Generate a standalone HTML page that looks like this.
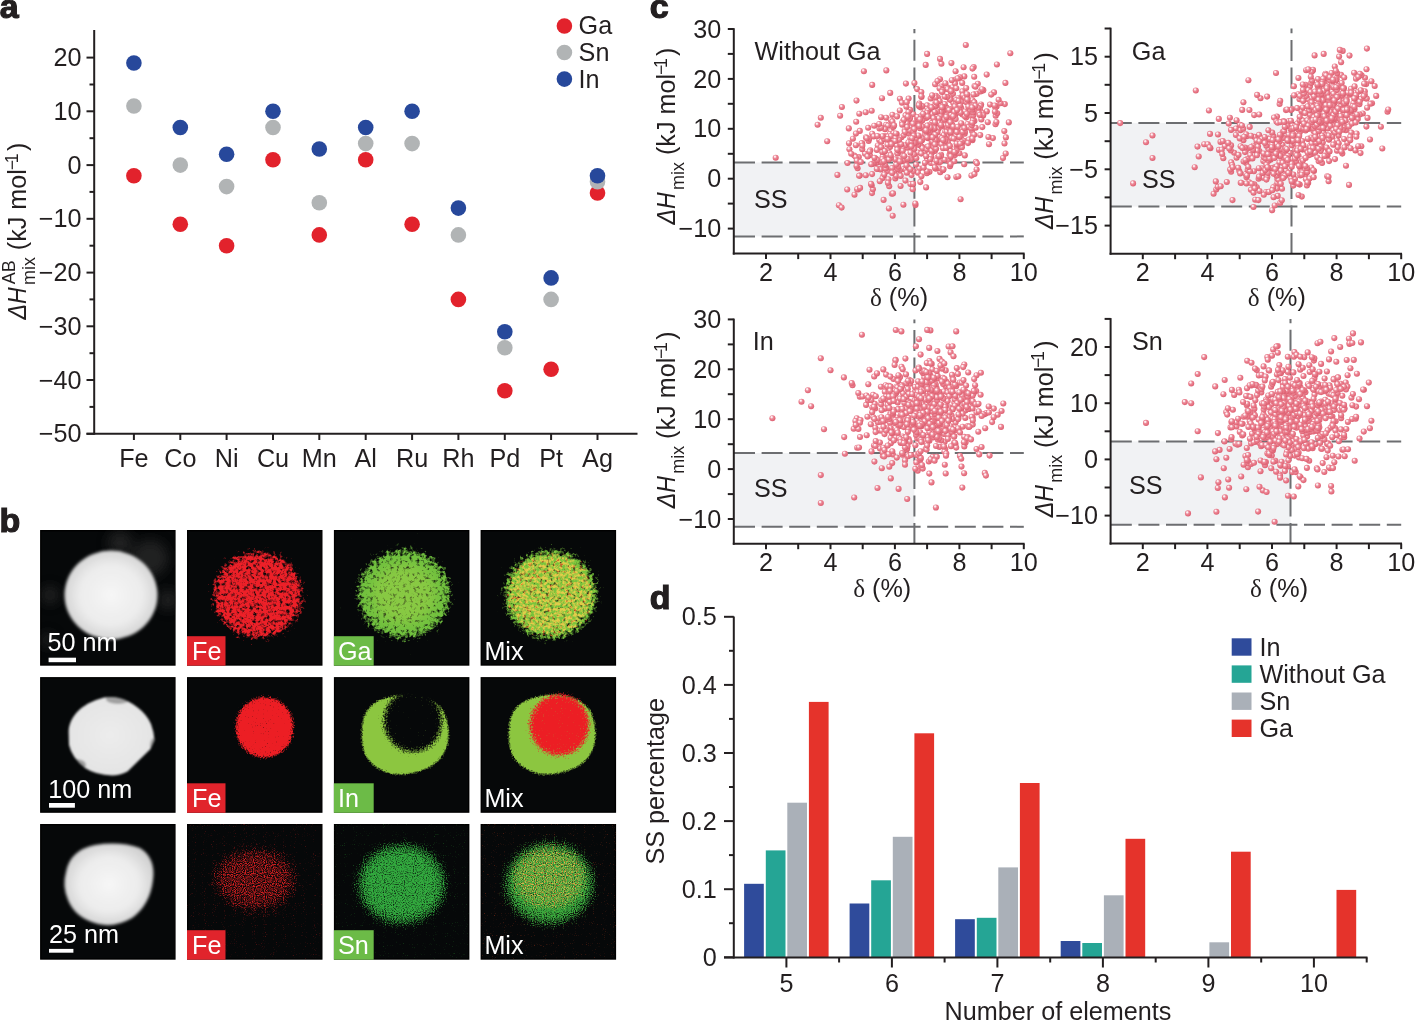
<!DOCTYPE html>
<html><head><meta charset="utf-8"><title>Figure</title>
<style>
html,body{margin:0;padding:0;background:#fff;}
body{width:1416px;height:1021px;overflow:hidden;position:relative;}
svg{position:absolute;left:0;top:0;will-change:transform;font-family:"Liberation Sans",Arial,Helvetica,sans-serif;font-size:25.2px;fill:#231f20;}
</style></head><body>
<svg width="1416" height="1021" viewBox="0 0 1416 1021">
<defs>
<radialGradient id="sph" cx="0.42" cy="0.4" r="0.62" fx="0.36" fy="0.3">
<stop offset="0" stop-color="#ffffff"/><stop offset="0.2" stop-color="#fbe2e6"/><stop offset="0.42" stop-color="#ec8d9c"/><stop offset="0.75" stop-color="#e6707f"/><stop offset="1" stop-color="#d95e71"/>
</radialGradient>
<filter id="hb1" x="-20%" y="-20%" width="140%" height="140%"><feGaussianBlur stdDeviation="1.8"/></filter>
<filter id="hb0" x="-50%" y="-50%" width="200%" height="200%"><feGaussianBlur stdDeviation="6"/></filter>
<filter id="hb2" x="-20%" y="-20%" width="140%" height="140%"><feGaussianBlur stdDeviation="1.2"/></filter>
<radialGradient id="hg" cx="0.5" cy="0.5" r="0.55"><stop offset="0" stop-color="#f6f6f6"/><stop offset="0.6" stop-color="#ececec"/><stop offset="1" stop-color="#cfcfcf"/></radialGradient>
<clipPath id="cp2"><path d="M68.7,734 C68,718 80,706 96,700 L104,697.5 Q112,696.5 119,698 C132,701 146,712 151,724 Q154,732 154.5,740 L150.5,749 L127.5,771.5 Q120,775.5 112,775.5 Q96,775 85,768 Q72,758 69,745 Z"/></clipPath>
<radialGradient id="hg2" cx="0.5" cy="0.5" r="0.6"><stop offset="0" stop-color="#ececec"/><stop offset="0.75" stop-color="#e4e4e4"/><stop offset="1" stop-color="#c8c8c8"/></radialGradient>
<filter id="fr1" filterUnits="userSpaceOnUse" x="187" y="530" width="135.5" height="135.7" color-interpolation-filters="sRGB"><feTurbulence type="fractalNoise" baseFrequency="0.3" numOctaves="3" seed="3" result="n"/><feGaussianBlur in="SourceAlpha" stdDeviation="5" result="m"/><feComposite in="m" in2="n" operator="arithmetic" k2="2.1" k3="3.0" k4="-2.62" result="a"/><feColorMatrix in="a" type="matrix" values="0 0 0 0 0.925 0 0 0 0 0.125 0 0 0 0 0.157 0 0 0 1 0"/></filter>
<filter id="fg1" filterUnits="userSpaceOnUse" x="333.9" y="530" width="135.5" height="135.7" color-interpolation-filters="sRGB"><feTurbulence type="fractalNoise" baseFrequency="0.3" numOctaves="3" seed="7" result="n"/><feGaussianBlur in="SourceAlpha" stdDeviation="5" result="m"/><feComposite in="m" in2="n" operator="arithmetic" k2="2.1" k3="2.8" k4="-2.38" result="a"/><feColorMatrix in="a" type="matrix" values="0 0 0 0 0.439 0 0 0 0 0.753 0 0 0 0 0.243 0 0 0 1 0"/></filter>
<filter id="fm1g" filterUnits="userSpaceOnUse" x="480.6" y="530" width="135.5" height="135.7" color-interpolation-filters="sRGB"><feTurbulence type="fractalNoise" baseFrequency="0.3" numOctaves="3" seed="11" result="n"/><feGaussianBlur in="SourceAlpha" stdDeviation="5" result="m"/><feComposite in="m" in2="n" operator="arithmetic" k2="2.1" k3="2.8" k4="-2.35" result="a"/><feColorMatrix in="a" type="matrix" values="0 0 0 0 0.471 0 0 0 0 0.769 0 0 0 0 0.235 0 0 0 1 0"/></filter>
<filter id="fm1r" filterUnits="userSpaceOnUse" x="480.6" y="530" width="135.5" height="135.7" color-interpolation-filters="sRGB"><feTurbulence type="fractalNoise" baseFrequency="0.35" numOctaves="2" seed="12" result="n"/><feGaussianBlur in="SourceAlpha" stdDeviation="4" result="m"/><feComposite in="m" in2="n" operator="arithmetic" k2="2.1" k3="3.0" k4="-3.1" result="a"/><feColorMatrix in="a" type="matrix" values="0 0 0 0 0.882 0 0 0 0 0.157 0 0 0 0 0.078 0 0 0 1 0"/></filter>
<filter id="fr2" filterUnits="userSpaceOnUse" x="187" y="677.1" width="135.5" height="135.7" color-interpolation-filters="sRGB"><feTurbulence type="fractalNoise" baseFrequency="0.6" numOctaves="2" seed="5" result="n"/><feGaussianBlur in="SourceAlpha" stdDeviation="2.8" result="m"/><feComposite in="m" in2="n" operator="arithmetic" k2="2.4" k3="2.4" k4="-2.15" result="a"/><feColorMatrix in="a" type="matrix" values="0 0 0 0 0.925 0 0 0 0 0.118 0 0 0 0 0.141 0 0 0 1 0"/></filter>
<filter id="fg2" filterUnits="userSpaceOnUse" x="333.9" y="677.1" width="135.5" height="135.7" color-interpolation-filters="sRGB"><feTurbulence type="fractalNoise" baseFrequency="0.6" numOctaves="2" seed="8" result="n"/><feGaussianBlur in="SourceAlpha" stdDeviation="2.0" result="m"/><feComposite in="m" in2="n" operator="arithmetic" k2="2.4" k3="1.6" k4="-1.5" result="a"/><feColorMatrix in="a" type="matrix" values="0 0 0 0 0.549 0 0 0 0 0.776 0 0 0 0 0.251 0 0 0 1 0"/></filter>
<filter id="fk2" filterUnits="userSpaceOnUse" x="333.9" y="677.1" width="135.5" height="135.7" color-interpolation-filters="sRGB"><feTurbulence type="fractalNoise" baseFrequency="0.6" numOctaves="2" seed="9" result="n"/><feGaussianBlur in="SourceAlpha" stdDeviation="6" result="m"/><feComposite in="m" in2="n" operator="arithmetic" k2="2.6" k3="1.8" k4="-2.0" result="a"/><feColorMatrix in="a" type="matrix" values="0 0 0 0 0.024 0 0 0 0 0.031 0 0 0 0 0.035 0 0 0 1 0"/></filter>
<filter id="fmg2" filterUnits="userSpaceOnUse" x="480.6" y="677.1" width="135.5" height="135.7" color-interpolation-filters="sRGB"><feTurbulence type="fractalNoise" baseFrequency="0.6" numOctaves="2" seed="13" result="n"/><feGaussianBlur in="SourceAlpha" stdDeviation="2.0" result="m"/><feComposite in="m" in2="n" operator="arithmetic" k2="2.4" k3="1.6" k4="-1.5" result="a"/><feColorMatrix in="a" type="matrix" values="0 0 0 0 0.549 0 0 0 0 0.776 0 0 0 0 0.251 0 0 0 1 0"/></filter>
<filter id="fmr2" filterUnits="userSpaceOnUse" x="480.6" y="677.1" width="135.5" height="135.7" color-interpolation-filters="sRGB"><feTurbulence type="fractalNoise" baseFrequency="0.6" numOctaves="2" seed="14" result="n"/><feGaussianBlur in="SourceAlpha" stdDeviation="4.5" result="m"/><feComposite in="m" in2="n" operator="arithmetic" k2="2.4" k3="2.2" k4="-2.1" result="a"/><feColorMatrix in="a" type="matrix" values="0 0 0 0 0.925 0 0 0 0 0.118 0 0 0 0 0.141 0 0 0 1 0"/></filter>
<filter id="fbr" filterUnits="userSpaceOnUse" x="187" y="824" width="135.5" height="135.7" color-interpolation-filters="sRGB"><feTurbulence type="fractalNoise" baseFrequency="0.9" numOctaves="1" seed="31" result="n"/><feGaussianBlur in="SourceAlpha" stdDeviation="0.5" result="m"/><feComposite in="m" in2="n" operator="arithmetic" k2="1.0" k3="3.0" k4="-2.95" result="a"/><feColorMatrix in="a" type="matrix" values="0 0 0 0 0.588 0 0 0 0 0.098 0 0 0 0 0.098 0 0 0 1 0"/></filter>
<filter id="fr3" filterUnits="userSpaceOnUse" x="187" y="824" width="135.5" height="135.7" color-interpolation-filters="sRGB"><feTurbulence type="fractalNoise" baseFrequency="0.9" numOctaves="1" seed="21" result="n"/><feGaussianBlur in="SourceAlpha" stdDeviation="9" result="m"/><feComposite in="m" in2="n" operator="arithmetic" k2="1.9" k3="3.2" k4="-3.1" result="a"/><feColorMatrix in="a" type="matrix" values="0 0 0 0 0.843 0 0 0 0 0.118 0 0 0 0 0.125 0 0 0 1 0"/></filter>
<filter id="fr3b" filterUnits="userSpaceOnUse" x="187" y="824" width="135.5" height="135.7" color-interpolation-filters="sRGB"><feTurbulence type="fractalNoise" baseFrequency="0.9" numOctaves="1" seed="25" result="n"/><feGaussianBlur in="SourceAlpha" stdDeviation="8" result="m"/><feComposite in="m" in2="n" operator="arithmetic" k2="1.9" k3="3.0" k4="-3.55" result="a"/><feColorMatrix in="a" type="matrix" values="0 0 0 0 0.784 0 0 0 0 0.118 0 0 0 0 0.125 0 0 0 1 0"/></filter>
<filter id="fbg" filterUnits="userSpaceOnUse" x="333.9" y="824" width="135.5" height="135.7" color-interpolation-filters="sRGB"><feTurbulence type="fractalNoise" baseFrequency="0.9" numOctaves="1" seed="32" result="n"/><feGaussianBlur in="SourceAlpha" stdDeviation="0.5" result="m"/><feComposite in="m" in2="n" operator="arithmetic" k2="1.0" k3="3.0" k4="-3.0" result="a"/><feColorMatrix in="a" type="matrix" values="0 0 0 0 0.118 0 0 0 0 0.431 0 0 0 0 0.137 0 0 0 1 0"/></filter>
<filter id="fg3" filterUnits="userSpaceOnUse" x="333.9" y="824" width="135.5" height="135.7" color-interpolation-filters="sRGB"><feTurbulence type="fractalNoise" baseFrequency="0.9" numOctaves="1" seed="22" result="n"/><feGaussianBlur in="SourceAlpha" stdDeviation="8" result="m"/><feComposite in="m" in2="n" operator="arithmetic" k2="2.0" k3="2.8" k4="-2.45" result="a"/><feColorMatrix in="a" type="matrix" values="0 0 0 0 0.196 0 0 0 0 0.667 0 0 0 0 0.243 0 0 0 1 0"/></filter>
<filter id="fbm" filterUnits="userSpaceOnUse" x="480.6" y="824" width="135.5" height="135.7" color-interpolation-filters="sRGB"><feTurbulence type="fractalNoise" baseFrequency="0.9" numOctaves="1" seed="33" result="n"/><feGaussianBlur in="SourceAlpha" stdDeviation="0.5" result="m"/><feComposite in="m" in2="n" operator="arithmetic" k2="1.0" k3="3.0" k4="-2.95" result="a"/><feColorMatrix in="a" type="matrix" values="0 0 0 0 0.588 0 0 0 0 0.196 0 0 0 0 0.098 0 0 0 1 0"/></filter>
<filter id="fmg3" filterUnits="userSpaceOnUse" x="480.6" y="824" width="135.5" height="135.7" color-interpolation-filters="sRGB"><feTurbulence type="fractalNoise" baseFrequency="0.9" numOctaves="1" seed="23" result="n"/><feGaussianBlur in="SourceAlpha" stdDeviation="8" result="m"/><feComposite in="m" in2="n" operator="arithmetic" k2="2.0" k3="2.8" k4="-2.4" result="a"/><feColorMatrix in="a" type="matrix" values="0 0 0 0 0.227 0 0 0 0 0.659 0 0 0 0 0.235 0 0 0 1 0"/></filter>
<filter id="fmr3" filterUnits="userSpaceOnUse" x="480.6" y="824" width="135.5" height="135.7" color-interpolation-filters="sRGB"><feTurbulence type="fractalNoise" baseFrequency="0.9" numOctaves="1" seed="24" result="n"/><feGaussianBlur in="SourceAlpha" stdDeviation="7" result="m"/><feComposite in="m" in2="n" operator="arithmetic" k2="2.0" k3="3.0" k4="-3.2" result="a"/><feColorMatrix in="a" type="matrix" values="0 0 0 0 0.863 0 0 0 0 0.235 0 0 0 0 0.078 0 0 0 1 0"/></filter>
<clipPath id="clt0"><rect x="40.1" y="530" width="135.5" height="135.7"/></clipPath>
</defs>
<line x1="94.2" y1="30" x2="94.2" y2="434.8" stroke="#231f20" stroke-width="2"/>
<line x1="86.5" y1="433.8" x2="637.5" y2="433.8" stroke="#231f20" stroke-width="2"/>
<line x1="86.5" y1="433.8" x2="94.2" y2="433.8" stroke="#231f20" stroke-width="2"/>
<text x="81.5" y="442.3" text-anchor="end">−50</text>
<line x1="86.5" y1="380" x2="94.2" y2="380" stroke="#231f20" stroke-width="2"/>
<text x="81.5" y="388.5" text-anchor="end">−40</text>
<line x1="86.5" y1="326.3" x2="94.2" y2="326.3" stroke="#231f20" stroke-width="2"/>
<text x="81.5" y="334.8" text-anchor="end">−30</text>
<line x1="86.5" y1="272.6" x2="94.2" y2="272.6" stroke="#231f20" stroke-width="2"/>
<text x="81.5" y="281.1" text-anchor="end">−20</text>
<line x1="86.5" y1="218.8" x2="94.2" y2="218.8" stroke="#231f20" stroke-width="2"/>
<text x="81.5" y="227.3" text-anchor="end">−10</text>
<line x1="86.5" y1="165.1" x2="94.2" y2="165.1" stroke="#231f20" stroke-width="2"/>
<text x="81.5" y="173.6" text-anchor="end">0</text>
<line x1="86.5" y1="111.3" x2="94.2" y2="111.3" stroke="#231f20" stroke-width="2"/>
<text x="81.5" y="119.8" text-anchor="end">10</text>
<line x1="86.5" y1="57.6" x2="94.2" y2="57.6" stroke="#231f20" stroke-width="2"/>
<text x="81.5" y="66.1" text-anchor="end">20</text>
<line x1="89.5" y1="406.9" x2="94.2" y2="406.9" stroke="#231f20" stroke-width="2"/>
<line x1="89.5" y1="353.2" x2="94.2" y2="353.2" stroke="#231f20" stroke-width="2"/>
<line x1="89.5" y1="299.4" x2="94.2" y2="299.4" stroke="#231f20" stroke-width="2"/>
<line x1="89.5" y1="245.7" x2="94.2" y2="245.7" stroke="#231f20" stroke-width="2"/>
<line x1="89.5" y1="191.9" x2="94.2" y2="191.9" stroke="#231f20" stroke-width="2"/>
<line x1="89.5" y1="138.2" x2="94.2" y2="138.2" stroke="#231f20" stroke-width="2"/>
<line x1="89.5" y1="84.5" x2="94.2" y2="84.5" stroke="#231f20" stroke-width="2"/>
<line x1="133.9" y1="433.8" x2="133.9" y2="440" stroke="#231f20" stroke-width="2"/>
<text x="133.9" y="466.8" text-anchor="middle">Fe</text>
<line x1="180.3" y1="433.8" x2="180.3" y2="440" stroke="#231f20" stroke-width="2"/>
<text x="180.3" y="466.8" text-anchor="middle">Co</text>
<line x1="226.6" y1="433.8" x2="226.6" y2="440" stroke="#231f20" stroke-width="2"/>
<text x="226.6" y="466.8" text-anchor="middle">Ni</text>
<line x1="273" y1="433.8" x2="273" y2="440" stroke="#231f20" stroke-width="2"/>
<text x="273" y="466.8" text-anchor="middle">Cu</text>
<line x1="319.3" y1="433.8" x2="319.3" y2="440" stroke="#231f20" stroke-width="2"/>
<text x="319.3" y="466.8" text-anchor="middle">Mn</text>
<line x1="365.7" y1="433.8" x2="365.7" y2="440" stroke="#231f20" stroke-width="2"/>
<text x="365.7" y="466.8" text-anchor="middle">Al</text>
<line x1="412.1" y1="433.8" x2="412.1" y2="440" stroke="#231f20" stroke-width="2"/>
<text x="412.1" y="466.8" text-anchor="middle">Ru</text>
<line x1="458.4" y1="433.8" x2="458.4" y2="440" stroke="#231f20" stroke-width="2"/>
<text x="458.4" y="466.8" text-anchor="middle">Rh</text>
<line x1="504.8" y1="433.8" x2="504.8" y2="440" stroke="#231f20" stroke-width="2"/>
<text x="504.8" y="466.8" text-anchor="middle">Pd</text>
<line x1="551.1" y1="433.8" x2="551.1" y2="440" stroke="#231f20" stroke-width="2"/>
<text x="551.1" y="466.8" text-anchor="middle">Pt</text>
<line x1="597.5" y1="433.8" x2="597.5" y2="440" stroke="#231f20" stroke-width="2"/>
<text x="597.5" y="466.8" text-anchor="middle">Ag</text>
<circle cx="133.9" cy="175.8" r="7.8" fill="#e2222c"/>
<circle cx="180.3" cy="224.2" r="7.8" fill="#e2222c"/>
<circle cx="226.6" cy="245.7" r="7.8" fill="#e2222c"/>
<circle cx="273" cy="159.7" r="7.8" fill="#e2222c"/>
<circle cx="319.3" cy="234.9" r="7.8" fill="#e2222c"/>
<circle cx="365.7" cy="159.7" r="7.8" fill="#e2222c"/>
<circle cx="412.1" cy="224.2" r="7.8" fill="#e2222c"/>
<circle cx="458.4" cy="299.4" r="7.8" fill="#e2222c"/>
<circle cx="504.8" cy="390.8" r="7.8" fill="#e2222c"/>
<circle cx="551.1" cy="369.3" r="7.8" fill="#e2222c"/>
<circle cx="597.5" cy="193" r="7.8" fill="#e2222c"/>
<circle cx="133.9" cy="106" r="7.8" fill="#b1b4b5"/>
<circle cx="180.3" cy="165.1" r="7.8" fill="#b1b4b5"/>
<circle cx="226.6" cy="186.6" r="7.8" fill="#b1b4b5"/>
<circle cx="273" cy="127.5" r="7.8" fill="#b1b4b5"/>
<circle cx="319.3" cy="202.7" r="7.8" fill="#b1b4b5"/>
<circle cx="365.7" cy="143.6" r="7.8" fill="#b1b4b5"/>
<circle cx="412.1" cy="143.6" r="7.8" fill="#b1b4b5"/>
<circle cx="458.4" cy="234.9" r="7.8" fill="#b1b4b5"/>
<circle cx="504.8" cy="347.8" r="7.8" fill="#b1b4b5"/>
<circle cx="551.1" cy="299.4" r="7.8" fill="#b1b4b5"/>
<circle cx="597.5" cy="181.7" r="7.8" fill="#b1b4b5"/>
<circle cx="133.9" cy="63" r="7.8" fill="#27489b"/>
<circle cx="180.3" cy="127.5" r="7.8" fill="#27489b"/>
<circle cx="226.6" cy="154.3" r="7.8" fill="#27489b"/>
<circle cx="273" cy="111.3" r="7.8" fill="#27489b"/>
<circle cx="319.3" cy="149" r="7.8" fill="#27489b"/>
<circle cx="365.7" cy="127.5" r="7.8" fill="#27489b"/>
<circle cx="412.1" cy="111.3" r="7.8" fill="#27489b"/>
<circle cx="458.4" cy="208.1" r="7.8" fill="#27489b"/>
<circle cx="504.8" cy="331.7" r="7.8" fill="#27489b"/>
<circle cx="551.1" cy="277.9" r="7.8" fill="#27489b"/>
<circle cx="597.5" cy="175.8" r="7.8" fill="#27489b"/>
<circle cx="564.4" cy="26" r="7.8" fill="#e2222c"/>
<text x="578.6" y="34.2">Ga</text>
<circle cx="564.4" cy="52.5" r="7.8" fill="#b1b4b5"/>
<text x="578.6" y="61.1">Sn</text>
<circle cx="564.4" cy="79.1" r="7.8" fill="#27489b"/>
<text x="578.6" y="88.1">In</text>
<g transform="translate(26,319.5) rotate(-90)"><text x="0" y="0" font-style="italic" transform="scale(0.918,1)">ΔH</text><text x="34.5" y="8.7" font-size="17.9">mix</text><text x="35.2" y="-11.3" font-size="18">AB</text><text x="69.3" y="0">(kJ mol</text><text x="149.3" y="-8.4" font-size="17.9">−</text><text x="156.3" y="-8.4" font-size="17.9">1</text><text x="168.5" y="0">)</text></g>
<rect x="733.8" y="162.5" width="180.6" height="73.9" fill="#f1f2f4"/>
<line x1="734" y1="162.5" x2="1023.8" y2="162.5" stroke="#6d6e71" stroke-width="2" stroke-dasharray="21 6.6"/>
<line x1="734" y1="236.4" x2="1023.8" y2="236.4" stroke="#6d6e71" stroke-width="2" stroke-dasharray="21 6.6"/>
<line x1="914.4" y1="254" x2="914.4" y2="29" stroke="#6d6e71" stroke-width="2" stroke-dasharray="21 6.6"/>
<g fill="url(#sph)">
<circle cx="943.8" cy="113.6" r="3.05"/>
<circle cx="962.3" cy="91.4" r="3.05"/>
<circle cx="967.8" cy="102" r="3.05"/>
<circle cx="908.5" cy="120" r="3.05"/>
<circle cx="971.4" cy="175.6" r="3.05"/>
<circle cx="875.3" cy="161.2" r="3.05"/>
<circle cx="927.1" cy="53.9" r="3.05"/>
<circle cx="879" cy="168.9" r="3.05"/>
<circle cx="903.2" cy="156" r="3.05"/>
<circle cx="961.7" cy="96.7" r="3.05"/>
<circle cx="941.1" cy="122.4" r="3.05"/>
<circle cx="854.3" cy="155.6" r="3.05"/>
<circle cx="945.1" cy="136.3" r="3.05"/>
<circle cx="903.9" cy="169" r="3.05"/>
<circle cx="931.7" cy="128.3" r="3.05"/>
<circle cx="974.5" cy="174.1" r="3.05"/>
<circle cx="921" cy="107.4" r="3.05"/>
<circle cx="907" cy="123.4" r="3.05"/>
<circle cx="890" cy="147.1" r="3.05"/>
<circle cx="906.4" cy="161.4" r="3.05"/>
<circle cx="868.5" cy="139.5" r="3.05"/>
<circle cx="961.5" cy="101.8" r="3.05"/>
<circle cx="913.3" cy="114.2" r="3.05"/>
<circle cx="953" cy="101" r="3.05"/>
<circle cx="914.4" cy="83.1" r="3.05"/>
<circle cx="912.7" cy="189.3" r="3.05"/>
<circle cx="899.8" cy="170.5" r="3.05"/>
<circle cx="926.1" cy="187.4" r="3.05"/>
<circle cx="855.9" cy="145.2" r="3.05"/>
<circle cx="928" cy="138.2" r="3.05"/>
<circle cx="949.5" cy="154.7" r="3.05"/>
<circle cx="914.6" cy="153.3" r="3.05"/>
<circle cx="856.5" cy="100.6" r="3.05"/>
<circle cx="967.2" cy="126.9" r="3.05"/>
<circle cx="900.3" cy="159.5" r="3.05"/>
<circle cx="975" cy="94.3" r="3.05"/>
<circle cx="921.5" cy="96.9" r="3.05"/>
<circle cx="932.4" cy="126.5" r="3.05"/>
<circle cx="894.2" cy="171.5" r="3.05"/>
<circle cx="935.1" cy="84.3" r="3.05"/>
<circle cx="910.4" cy="184.1" r="3.05"/>
<circle cx="950.6" cy="120.8" r="3.05"/>
<circle cx="924.4" cy="152.3" r="3.05"/>
<circle cx="958.2" cy="147.6" r="3.05"/>
<circle cx="1004.8" cy="104.1" r="3.05"/>
<circle cx="912.8" cy="141.6" r="3.05"/>
<circle cx="976.7" cy="93.7" r="3.05"/>
<circle cx="920" cy="123.5" r="3.05"/>
<circle cx="879" cy="161.9" r="3.05"/>
<circle cx="859" cy="161.9" r="3.05"/>
<circle cx="960.9" cy="137.7" r="3.05"/>
<circle cx="927.1" cy="146.8" r="3.05"/>
<circle cx="973.2" cy="121.2" r="3.05"/>
<circle cx="1003" cy="158.1" r="3.05"/>
<circle cx="897.8" cy="168.9" r="3.05"/>
<circle cx="913.1" cy="183.9" r="3.05"/>
<circle cx="975.9" cy="161.9" r="3.05"/>
<circle cx="941.2" cy="86.6" r="3.05"/>
<circle cx="909.6" cy="128.3" r="3.05"/>
<circle cx="954.9" cy="155.1" r="3.05"/>
<circle cx="972" cy="131.1" r="3.05"/>
<circle cx="865.7" cy="112.3" r="3.05"/>
<circle cx="959.8" cy="133.2" r="3.05"/>
<circle cx="929.3" cy="146.4" r="3.05"/>
<circle cx="952.7" cy="87.3" r="3.05"/>
<circle cx="981.1" cy="104.5" r="3.05"/>
<circle cx="914.3" cy="123.2" r="3.05"/>
<circle cx="886.1" cy="124.8" r="3.05"/>
<circle cx="935.9" cy="95.8" r="3.05"/>
<circle cx="935.9" cy="112.3" r="3.05"/>
<circle cx="919.3" cy="168.5" r="3.05"/>
<circle cx="950.7" cy="95" r="3.05"/>
<circle cx="883.1" cy="165.6" r="3.05"/>
<circle cx="862.2" cy="144.1" r="3.05"/>
<circle cx="885.5" cy="168.6" r="3.05"/>
<circle cx="972.5" cy="100.3" r="3.05"/>
<circle cx="858.8" cy="157.1" r="3.05"/>
<circle cx="949.8" cy="109.6" r="3.05"/>
<circle cx="870.3" cy="150.3" r="3.05"/>
<circle cx="996.6" cy="106.4" r="3.05"/>
<circle cx="995.5" cy="124.3" r="3.05"/>
<circle cx="932.3" cy="146.3" r="3.05"/>
<circle cx="817.6" cy="124.8" r="3.05"/>
<circle cx="982.9" cy="115.4" r="3.05"/>
<circle cx="953.9" cy="113.9" r="3.05"/>
<circle cx="931.4" cy="131.4" r="3.05"/>
<circle cx="966.1" cy="117.6" r="3.05"/>
<circle cx="908.6" cy="98.6" r="3.05"/>
<circle cx="931.7" cy="142.1" r="3.05"/>
<circle cx="949.7" cy="99.6" r="3.05"/>
<circle cx="943.5" cy="111.8" r="3.05"/>
<circle cx="917.9" cy="152.5" r="3.05"/>
<circle cx="896.7" cy="134.1" r="3.05"/>
<circle cx="995.7" cy="115.8" r="3.05"/>
<circle cx="1005.4" cy="82.9" r="3.05"/>
<circle cx="944" cy="145.7" r="3.05"/>
<circle cx="858.2" cy="189.5" r="3.05"/>
<circle cx="914.5" cy="141" r="3.05"/>
<circle cx="977.8" cy="83.7" r="3.05"/>
<circle cx="980.6" cy="91.4" r="3.05"/>
<circle cx="954.7" cy="153.3" r="3.05"/>
<circle cx="885.1" cy="159.9" r="3.05"/>
<circle cx="879.5" cy="128.4" r="3.05"/>
<circle cx="963" cy="95.5" r="3.05"/>
<circle cx="962.4" cy="114.4" r="3.05"/>
<circle cx="894.6" cy="136.1" r="3.05"/>
<circle cx="958.1" cy="98.2" r="3.05"/>
<circle cx="905.1" cy="159.8" r="3.05"/>
<circle cx="927" cy="157.7" r="3.05"/>
<circle cx="898.1" cy="166.6" r="3.05"/>
<circle cx="956.9" cy="143.3" r="3.05"/>
<circle cx="971.9" cy="116.3" r="3.05"/>
<circle cx="964.7" cy="133.8" r="3.05"/>
<circle cx="965" cy="97.7" r="3.05"/>
<circle cx="925.1" cy="113.3" r="3.05"/>
<circle cx="944.5" cy="109.2" r="3.05"/>
<circle cx="935.4" cy="168.4" r="3.05"/>
<circle cx="916" cy="143.7" r="3.05"/>
<circle cx="916.2" cy="136.2" r="3.05"/>
<circle cx="945.2" cy="131.8" r="3.05"/>
<circle cx="910.1" cy="109.9" r="3.05"/>
<circle cx="863.9" cy="71.3" r="3.05"/>
<circle cx="885" cy="136.1" r="3.05"/>
<circle cx="972.4" cy="140.2" r="3.05"/>
<circle cx="933.5" cy="120.6" r="3.05"/>
<circle cx="919.4" cy="125.9" r="3.05"/>
<circle cx="911.9" cy="148.9" r="3.05"/>
<circle cx="838.9" cy="205.2" r="3.05"/>
<circle cx="887.4" cy="171" r="3.05"/>
<circle cx="974.1" cy="102.3" r="3.05"/>
<circle cx="886.2" cy="167.6" r="3.05"/>
<circle cx="929.9" cy="159.4" r="3.05"/>
<circle cx="935.6" cy="138.9" r="3.05"/>
<circle cx="933.4" cy="143.4" r="3.05"/>
<circle cx="961.8" cy="144.6" r="3.05"/>
<circle cx="883.6" cy="136.7" r="3.05"/>
<circle cx="906.6" cy="114.7" r="3.05"/>
<circle cx="897.7" cy="153.2" r="3.05"/>
<circle cx="946" cy="139.1" r="3.05"/>
<circle cx="940.3" cy="126.3" r="3.05"/>
<circle cx="980.6" cy="106.1" r="3.05"/>
<circle cx="849" cy="143.3" r="3.05"/>
<circle cx="946.4" cy="115.4" r="3.05"/>
<circle cx="890.9" cy="131.3" r="3.05"/>
<circle cx="946.8" cy="127.7" r="3.05"/>
<circle cx="936" cy="118.7" r="3.05"/>
<circle cx="884.6" cy="150.7" r="3.05"/>
<circle cx="986.8" cy="111.4" r="3.05"/>
<circle cx="934.9" cy="151" r="3.05"/>
<circle cx="947.2" cy="119.9" r="3.05"/>
<circle cx="962.9" cy="127" r="3.05"/>
<circle cx="921.8" cy="146.6" r="3.05"/>
<circle cx="948.9" cy="148" r="3.05"/>
<circle cx="920.3" cy="145.5" r="3.05"/>
<circle cx="894" cy="143.6" r="3.05"/>
<circle cx="925.5" cy="116.1" r="3.05"/>
<circle cx="855.8" cy="157.1" r="3.05"/>
<circle cx="971.1" cy="138.8" r="3.05"/>
<circle cx="963.9" cy="140.9" r="3.05"/>
<circle cx="954.8" cy="134.7" r="3.05"/>
<circle cx="942.5" cy="112.6" r="3.05"/>
<circle cx="927.1" cy="105.4" r="3.05"/>
<circle cx="927.4" cy="111" r="3.05"/>
<circle cx="915.5" cy="205.1" r="3.05"/>
<circle cx="930.7" cy="98.5" r="3.05"/>
<circle cx="883.6" cy="199.9" r="3.05"/>
<circle cx="996.9" cy="64.5" r="3.05"/>
<circle cx="974.5" cy="86" r="3.05"/>
<circle cx="939.6" cy="88.4" r="3.05"/>
<circle cx="915.8" cy="141.2" r="3.05"/>
<circle cx="941.7" cy="111.1" r="3.05"/>
<circle cx="889.3" cy="153.1" r="3.05"/>
<circle cx="901.5" cy="137.3" r="3.05"/>
<circle cx="947.2" cy="87.3" r="3.05"/>
<circle cx="956.4" cy="105.9" r="3.05"/>
<circle cx="948.3" cy="122.9" r="3.05"/>
<circle cx="911.1" cy="127.3" r="3.05"/>
<circle cx="950" cy="152.1" r="3.05"/>
<circle cx="880.6" cy="169.5" r="3.05"/>
<circle cx="995.3" cy="107.4" r="3.05"/>
<circle cx="974.3" cy="102.4" r="3.05"/>
<circle cx="905.9" cy="169.4" r="3.05"/>
<circle cx="1008.8" cy="122.4" r="3.05"/>
<circle cx="973.7" cy="67" r="3.05"/>
<circle cx="946.1" cy="121.5" r="3.05"/>
<circle cx="940.2" cy="172.3" r="3.05"/>
<circle cx="950.7" cy="150.8" r="3.05"/>
<circle cx="947.6" cy="135.9" r="3.05"/>
<circle cx="876.1" cy="163.1" r="3.05"/>
<circle cx="932.4" cy="141.5" r="3.05"/>
<circle cx="868.6" cy="141" r="3.05"/>
<circle cx="955.6" cy="71.3" r="3.05"/>
<circle cx="947.6" cy="89.2" r="3.05"/>
<circle cx="930.8" cy="163" r="3.05"/>
<circle cx="949.9" cy="127.3" r="3.05"/>
<circle cx="927.2" cy="113.2" r="3.05"/>
<circle cx="936" cy="123.3" r="3.05"/>
<circle cx="932.9" cy="106.9" r="3.05"/>
<circle cx="872.2" cy="133.7" r="3.05"/>
<circle cx="948.4" cy="116.4" r="3.05"/>
<circle cx="926.3" cy="118" r="3.05"/>
<circle cx="879.2" cy="139.9" r="3.05"/>
<circle cx="917.5" cy="136.8" r="3.05"/>
<circle cx="919.5" cy="125.6" r="3.05"/>
<circle cx="946.5" cy="107.5" r="3.05"/>
<circle cx="869.1" cy="138.7" r="3.05"/>
<circle cx="896.2" cy="164.6" r="3.05"/>
<circle cx="954.4" cy="136.4" r="3.05"/>
<circle cx="1004.5" cy="143.5" r="3.05"/>
<circle cx="928" cy="172.3" r="3.05"/>
<circle cx="893.3" cy="126.9" r="3.05"/>
<circle cx="926.8" cy="109.1" r="3.05"/>
<circle cx="897.4" cy="153.5" r="3.05"/>
<circle cx="940.7" cy="112.1" r="3.05"/>
<circle cx="888" cy="125.7" r="3.05"/>
<circle cx="970.6" cy="110.2" r="3.05"/>
<circle cx="917.1" cy="118.7" r="3.05"/>
<circle cx="892.1" cy="168.1" r="3.05"/>
<circle cx="919" cy="119.7" r="3.05"/>
<circle cx="921.3" cy="153.6" r="3.05"/>
<circle cx="857.1" cy="189.2" r="3.05"/>
<circle cx="908.8" cy="133.4" r="3.05"/>
<circle cx="982.1" cy="115.3" r="3.05"/>
<circle cx="954.9" cy="130.2" r="3.05"/>
<circle cx="938" cy="162.3" r="3.05"/>
<circle cx="889.8" cy="134" r="3.05"/>
<circle cx="950.9" cy="133.3" r="3.05"/>
<circle cx="975.5" cy="86.7" r="3.05"/>
<circle cx="934.1" cy="163.8" r="3.05"/>
<circle cx="941.4" cy="63.8" r="3.05"/>
<circle cx="872.2" cy="84.9" r="3.05"/>
<circle cx="866" cy="137.4" r="3.05"/>
<circle cx="950.5" cy="96.8" r="3.05"/>
<circle cx="872" cy="193.1" r="3.05"/>
<circle cx="962.2" cy="82.9" r="3.05"/>
<circle cx="937.8" cy="142.7" r="3.05"/>
<circle cx="983.1" cy="90.4" r="3.05"/>
<circle cx="892.4" cy="114.8" r="3.05"/>
<circle cx="929.5" cy="112.1" r="3.05"/>
<circle cx="859.8" cy="175.6" r="3.05"/>
<circle cx="1000.6" cy="103.2" r="3.05"/>
<circle cx="917.9" cy="172.7" r="3.05"/>
<circle cx="990" cy="104.6" r="3.05"/>
<circle cx="910.4" cy="138.3" r="3.05"/>
<circle cx="922.5" cy="148.3" r="3.05"/>
<circle cx="986.7" cy="74.6" r="3.05"/>
<circle cx="953.4" cy="103.2" r="3.05"/>
<circle cx="903.7" cy="135.2" r="3.05"/>
<circle cx="914.5" cy="125.9" r="3.05"/>
<circle cx="973.1" cy="105.3" r="3.05"/>
<circle cx="954.3" cy="161.3" r="3.05"/>
<circle cx="950.7" cy="127.4" r="3.05"/>
<circle cx="947.8" cy="119.4" r="3.05"/>
<circle cx="890.2" cy="92.9" r="3.05"/>
<circle cx="967.5" cy="124" r="3.05"/>
<circle cx="961.7" cy="142" r="3.05"/>
<circle cx="885" cy="129.2" r="3.05"/>
<circle cx="888.8" cy="137" r="3.05"/>
<circle cx="927.5" cy="113.7" r="3.05"/>
<circle cx="966.2" cy="88.1" r="3.05"/>
<circle cx="895.3" cy="159.4" r="3.05"/>
<circle cx="974.4" cy="120.9" r="3.05"/>
<circle cx="913.9" cy="141.7" r="3.05"/>
<circle cx="903.3" cy="147.6" r="3.05"/>
<circle cx="972.9" cy="120.3" r="3.05"/>
<circle cx="927.1" cy="160.5" r="3.05"/>
<circle cx="905.4" cy="180.6" r="3.05"/>
<circle cx="964.2" cy="164.2" r="3.05"/>
<circle cx="966.4" cy="102.3" r="3.05"/>
<circle cx="931.3" cy="116" r="3.05"/>
<circle cx="940" cy="79.2" r="3.05"/>
<circle cx="874" cy="163" r="3.05"/>
<circle cx="939.3" cy="118" r="3.05"/>
<circle cx="896.8" cy="140.7" r="3.05"/>
<circle cx="922.3" cy="120.5" r="3.05"/>
<circle cx="856.8" cy="160.8" r="3.05"/>
<circle cx="950.4" cy="109.1" r="3.05"/>
<circle cx="947.5" cy="97.2" r="3.05"/>
<circle cx="922.2" cy="106" r="3.05"/>
<circle cx="953.2" cy="114.6" r="3.05"/>
<circle cx="933.9" cy="133.9" r="3.05"/>
<circle cx="940.6" cy="116.6" r="3.05"/>
<circle cx="968.8" cy="139.6" r="3.05"/>
<circle cx="872.9" cy="189.3" r="3.05"/>
<circle cx="929.5" cy="171.8" r="3.05"/>
<circle cx="903.4" cy="204.7" r="3.05"/>
<circle cx="882" cy="98.2" r="3.05"/>
<circle cx="928.5" cy="137.4" r="3.05"/>
<circle cx="980.2" cy="110.3" r="3.05"/>
<circle cx="937.3" cy="111.5" r="3.05"/>
<circle cx="883.3" cy="176" r="3.05"/>
<circle cx="946.1" cy="121" r="3.05"/>
<circle cx="917.1" cy="89.1" r="3.05"/>
<circle cx="931.8" cy="152.7" r="3.05"/>
<circle cx="865" cy="153.7" r="3.05"/>
<circle cx="968.6" cy="127.3" r="3.05"/>
<circle cx="941.1" cy="154.8" r="3.05"/>
<circle cx="919.3" cy="106.4" r="3.05"/>
<circle cx="898.9" cy="150.7" r="3.05"/>
<circle cx="937.3" cy="140" r="3.05"/>
<circle cx="935.5" cy="102.6" r="3.05"/>
<circle cx="952.2" cy="124.6" r="3.05"/>
<circle cx="955.8" cy="103.1" r="3.05"/>
<circle cx="954.9" cy="106.5" r="3.05"/>
<circle cx="930.9" cy="157.8" r="3.05"/>
<circle cx="897.6" cy="149.7" r="3.05"/>
<circle cx="937.5" cy="157.5" r="3.05"/>
<circle cx="1004.3" cy="131.1" r="3.05"/>
<circle cx="944.6" cy="119.5" r="3.05"/>
<circle cx="886.2" cy="117.8" r="3.05"/>
<circle cx="978.3" cy="110" r="3.05"/>
<circle cx="926.4" cy="131.6" r="3.05"/>
<circle cx="922.1" cy="140.3" r="3.05"/>
<circle cx="926.9" cy="149.5" r="3.05"/>
<circle cx="847.2" cy="189.5" r="3.05"/>
<circle cx="903" cy="161.1" r="3.05"/>
<circle cx="924.8" cy="111.5" r="3.05"/>
<circle cx="938.4" cy="128.9" r="3.05"/>
<circle cx="982.3" cy="127.1" r="3.05"/>
<circle cx="937.9" cy="97.6" r="3.05"/>
<circle cx="882.4" cy="178.2" r="3.05"/>
<circle cx="947.5" cy="177.2" r="3.05"/>
<circle cx="949.6" cy="158.2" r="3.05"/>
<circle cx="944.7" cy="125.5" r="3.05"/>
<circle cx="958" cy="137" r="3.05"/>
<circle cx="928.1" cy="146.5" r="3.05"/>
<circle cx="920.3" cy="182.1" r="3.05"/>
<circle cx="969.7" cy="111.7" r="3.05"/>
<circle cx="907.2" cy="147.7" r="3.05"/>
<circle cx="924.7" cy="134.5" r="3.05"/>
<circle cx="941.5" cy="144.3" r="3.05"/>
<circle cx="959.4" cy="153.3" r="3.05"/>
<circle cx="954.2" cy="133.2" r="3.05"/>
<circle cx="918.1" cy="144.7" r="3.05"/>
<circle cx="964.9" cy="131.8" r="3.05"/>
<circle cx="956.6" cy="146.8" r="3.05"/>
<circle cx="884.3" cy="174.6" r="3.05"/>
<circle cx="848.8" cy="128.4" r="3.05"/>
<circle cx="896.8" cy="145.5" r="3.05"/>
<circle cx="903.3" cy="120.7" r="3.05"/>
<circle cx="837.4" cy="174.9" r="3.05"/>
<circle cx="947.3" cy="127.6" r="3.05"/>
<circle cx="931.6" cy="150.8" r="3.05"/>
<circle cx="961.1" cy="129" r="3.05"/>
<circle cx="860.9" cy="162" r="3.05"/>
<circle cx="951.1" cy="90.3" r="3.05"/>
<circle cx="950.5" cy="131.7" r="3.05"/>
<circle cx="957" cy="144.8" r="3.05"/>
<circle cx="904.7" cy="130.6" r="3.05"/>
<circle cx="899.8" cy="110.5" r="3.05"/>
<circle cx="994.7" cy="105.5" r="3.05"/>
<circle cx="890.9" cy="120.2" r="3.05"/>
<circle cx="871.7" cy="185.3" r="3.05"/>
<circle cx="876.8" cy="169" r="3.05"/>
<circle cx="941.4" cy="126.5" r="3.05"/>
<circle cx="953" cy="93.8" r="3.05"/>
<circle cx="955.2" cy="115.1" r="3.05"/>
<circle cx="913.3" cy="142.3" r="3.05"/>
<circle cx="944.7" cy="137.4" r="3.05"/>
<circle cx="967.1" cy="94.7" r="3.05"/>
<circle cx="895.3" cy="178.4" r="3.05"/>
<circle cx="943.5" cy="135.3" r="3.05"/>
<circle cx="930.8" cy="106.8" r="3.05"/>
<circle cx="854.5" cy="194.7" r="3.05"/>
<circle cx="916.3" cy="142.7" r="3.05"/>
<circle cx="849.4" cy="149.3" r="3.05"/>
<circle cx="951.6" cy="138.2" r="3.05"/>
<circle cx="946.9" cy="131.8" r="3.05"/>
<circle cx="890.2" cy="142.9" r="3.05"/>
<circle cx="868.2" cy="127.8" r="3.05"/>
<circle cx="972.9" cy="135.2" r="3.05"/>
<circle cx="896" cy="175.9" r="3.05"/>
<circle cx="929" cy="134.7" r="3.05"/>
<circle cx="902.2" cy="122.5" r="3.05"/>
<circle cx="924.4" cy="129.9" r="3.05"/>
<circle cx="859.1" cy="175.8" r="3.05"/>
<circle cx="954.8" cy="79.8" r="3.05"/>
<circle cx="967.4" cy="97.3" r="3.05"/>
<circle cx="881.2" cy="127.5" r="3.05"/>
<circle cx="914.8" cy="156.9" r="3.05"/>
<circle cx="879.1" cy="147.2" r="3.05"/>
<circle cx="956.3" cy="177" r="3.05"/>
<circle cx="905.5" cy="115.4" r="3.05"/>
<circle cx="926.3" cy="136" r="3.05"/>
<circle cx="918.9" cy="136.7" r="3.05"/>
<circle cx="939.3" cy="136.5" r="3.05"/>
<circle cx="946.3" cy="140.2" r="3.05"/>
<circle cx="945.4" cy="83.3" r="3.05"/>
<circle cx="841.9" cy="107" r="3.05"/>
<circle cx="961.2" cy="108" r="3.05"/>
<circle cx="911.5" cy="175.1" r="3.05"/>
<circle cx="906" cy="145.1" r="3.05"/>
<circle cx="950" cy="166.2" r="3.05"/>
<circle cx="949.1" cy="128.2" r="3.05"/>
<circle cx="881.4" cy="141.7" r="3.05"/>
<circle cx="875.7" cy="158.6" r="3.05"/>
<circle cx="914.4" cy="142.4" r="3.05"/>
<circle cx="944.8" cy="104" r="3.05"/>
<circle cx="974.2" cy="134.7" r="3.05"/>
<circle cx="960.1" cy="105.5" r="3.05"/>
<circle cx="937.4" cy="132.3" r="3.05"/>
<circle cx="888.1" cy="155.2" r="3.05"/>
<circle cx="851.2" cy="153.8" r="3.05"/>
<circle cx="959" cy="110" r="3.05"/>
<circle cx="916.2" cy="138.6" r="3.05"/>
<circle cx="939.4" cy="168.3" r="3.05"/>
<circle cx="908.5" cy="130.5" r="3.05"/>
<circle cx="919.3" cy="103.6" r="3.05"/>
<circle cx="907.9" cy="167.4" r="3.05"/>
<circle cx="908.4" cy="112.1" r="3.05"/>
<circle cx="890.9" cy="157.9" r="3.05"/>
<circle cx="941.8" cy="138.3" r="3.05"/>
<circle cx="964.8" cy="116.2" r="3.05"/>
<circle cx="889.2" cy="186.2" r="3.05"/>
<circle cx="910" cy="118.4" r="3.05"/>
<circle cx="928.8" cy="110.4" r="3.05"/>
<circle cx="888.4" cy="179.3" r="3.05"/>
<circle cx="827.2" cy="141.3" r="3.05"/>
<circle cx="935.4" cy="139.9" r="3.05"/>
<circle cx="892.4" cy="121.6" r="3.05"/>
<circle cx="938.9" cy="118.4" r="3.05"/>
<circle cx="932" cy="122.9" r="3.05"/>
<circle cx="869.9" cy="155.3" r="3.05"/>
<circle cx="862.1" cy="143.4" r="3.05"/>
<circle cx="882.7" cy="152.4" r="3.05"/>
<circle cx="904.9" cy="132" r="3.05"/>
<circle cx="964.3" cy="76.4" r="3.05"/>
<circle cx="994" cy="92.4" r="3.05"/>
<circle cx="927.1" cy="137.5" r="3.05"/>
<circle cx="939.7" cy="101.1" r="3.05"/>
<circle cx="943" cy="148.2" r="3.05"/>
<circle cx="956" cy="136" r="3.05"/>
<circle cx="950.3" cy="126.2" r="3.05"/>
<circle cx="982.5" cy="113.1" r="3.05"/>
<circle cx="921.3" cy="92" r="3.05"/>
<circle cx="888.7" cy="140" r="3.05"/>
<circle cx="900.4" cy="144.6" r="3.05"/>
<circle cx="956.2" cy="100" r="3.05"/>
<circle cx="897" cy="116.4" r="3.05"/>
<circle cx="972.5" cy="68.6" r="3.05"/>
<circle cx="888.3" cy="143" r="3.05"/>
<circle cx="956.4" cy="151.1" r="3.05"/>
<circle cx="887.5" cy="144.8" r="3.05"/>
<circle cx="900.6" cy="186" r="3.05"/>
<circle cx="905.9" cy="83.6" r="3.05"/>
<circle cx="947.9" cy="142.5" r="3.05"/>
<circle cx="914.3" cy="142.9" r="3.05"/>
<circle cx="840.1" cy="115.8" r="3.05"/>
<circle cx="969.9" cy="109.6" r="3.05"/>
<circle cx="981.3" cy="119.4" r="3.05"/>
<circle cx="948.1" cy="125.2" r="3.05"/>
<circle cx="927.7" cy="111.8" r="3.05"/>
<circle cx="901.2" cy="144.2" r="3.05"/>
<circle cx="872.1" cy="174.1" r="3.05"/>
<circle cx="893.5" cy="133.3" r="3.05"/>
<circle cx="873.7" cy="136.4" r="3.05"/>
<circle cx="978.3" cy="107.7" r="3.05"/>
<circle cx="961.2" cy="123.3" r="3.05"/>
<circle cx="867.6" cy="156.4" r="3.05"/>
<circle cx="888.1" cy="136.6" r="3.05"/>
<circle cx="971.5" cy="106.4" r="3.05"/>
<circle cx="884.1" cy="138.9" r="3.05"/>
<circle cx="891" cy="136.1" r="3.05"/>
<circle cx="947.8" cy="160.7" r="3.05"/>
<circle cx="930.9" cy="156.4" r="3.05"/>
<circle cx="955" cy="83.6" r="3.05"/>
<circle cx="859.8" cy="130.9" r="3.05"/>
<circle cx="943.4" cy="107" r="3.05"/>
<circle cx="976.6" cy="169.5" r="3.05"/>
<circle cx="871.7" cy="110.8" r="3.05"/>
<circle cx="900.7" cy="175.9" r="3.05"/>
<circle cx="936.3" cy="104.3" r="3.05"/>
<circle cx="877.8" cy="145.5" r="3.05"/>
<circle cx="899.9" cy="98.8" r="3.05"/>
<circle cx="958.6" cy="100.9" r="3.05"/>
<circle cx="882.5" cy="136.2" r="3.05"/>
<circle cx="980.2" cy="135.1" r="3.05"/>
<circle cx="942.8" cy="170.3" r="3.05"/>
<circle cx="902.8" cy="150.8" r="3.05"/>
<circle cx="950.2" cy="99.6" r="3.05"/>
<circle cx="933.2" cy="125.7" r="3.05"/>
<circle cx="1005.7" cy="153.6" r="3.05"/>
<circle cx="935.3" cy="134.7" r="3.05"/>
<circle cx="932.5" cy="114.1" r="3.05"/>
<circle cx="901.9" cy="102.8" r="3.05"/>
<circle cx="894.1" cy="125.4" r="3.05"/>
<circle cx="914.2" cy="148.9" r="3.05"/>
<circle cx="970.3" cy="110.5" r="3.05"/>
<circle cx="926.8" cy="173.2" r="3.05"/>
<circle cx="935.6" cy="97.5" r="3.05"/>
<circle cx="906.5" cy="165.5" r="3.05"/>
<circle cx="913.3" cy="171.1" r="3.05"/>
<circle cx="903.8" cy="119.8" r="3.05"/>
<circle cx="856.2" cy="121.8" r="3.05"/>
<circle cx="899.1" cy="139.8" r="3.05"/>
<circle cx="1010.3" cy="53.3" r="3.05"/>
<circle cx="847.5" cy="163" r="3.05"/>
<circle cx="936.2" cy="105.9" r="3.05"/>
<circle cx="973.3" cy="115.5" r="3.05"/>
<circle cx="935.8" cy="168.5" r="3.05"/>
<circle cx="919.9" cy="128.2" r="3.05"/>
<circle cx="948.9" cy="117.7" r="3.05"/>
<circle cx="942.2" cy="106.8" r="3.05"/>
<circle cx="908.5" cy="143.5" r="3.05"/>
<circle cx="920.6" cy="141.3" r="3.05"/>
<circle cx="996.4" cy="122" r="3.05"/>
<circle cx="885.5" cy="168.5" r="3.05"/>
<circle cx="926.9" cy="171.2" r="3.05"/>
<circle cx="922.4" cy="126.6" r="3.05"/>
<circle cx="945.2" cy="141" r="3.05"/>
<circle cx="962.6" cy="132" r="3.05"/>
<circle cx="933.6" cy="118.3" r="3.05"/>
<circle cx="860.1" cy="187.9" r="3.05"/>
<circle cx="960" cy="77.4" r="3.05"/>
<circle cx="897.3" cy="149.7" r="3.05"/>
<circle cx="954.6" cy="114.9" r="3.05"/>
<circle cx="887.9" cy="182.9" r="3.05"/>
<circle cx="916.3" cy="158.2" r="3.05"/>
<circle cx="940.1" cy="162.1" r="3.05"/>
<circle cx="951.1" cy="115" r="3.05"/>
<circle cx="891.8" cy="193.7" r="3.05"/>
<circle cx="879.2" cy="124" r="3.05"/>
<circle cx="968.3" cy="106.6" r="3.05"/>
<circle cx="929.6" cy="124.8" r="3.05"/>
<circle cx="938.7" cy="123.1" r="3.05"/>
<circle cx="946.3" cy="147.9" r="3.05"/>
<circle cx="925.6" cy="116.1" r="3.05"/>
<circle cx="941" cy="125" r="3.05"/>
<circle cx="888.9" cy="159.6" r="3.05"/>
<circle cx="930.7" cy="130" r="3.05"/>
<circle cx="944.7" cy="159.8" r="3.05"/>
<circle cx="959.1" cy="112.4" r="3.05"/>
<circle cx="918.7" cy="105.3" r="3.05"/>
<circle cx="862.2" cy="149.2" r="3.05"/>
<circle cx="907.9" cy="116.7" r="3.05"/>
<circle cx="947.2" cy="97" r="3.05"/>
<circle cx="973.4" cy="94.5" r="3.05"/>
<circle cx="972.4" cy="138.7" r="3.05"/>
<circle cx="877.3" cy="159.9" r="3.05"/>
<circle cx="997.2" cy="113.3" r="3.05"/>
<circle cx="949.9" cy="145.9" r="3.05"/>
<circle cx="992.9" cy="138.1" r="3.05"/>
<circle cx="933.8" cy="147.1" r="3.05"/>
<circle cx="971.2" cy="128.5" r="3.05"/>
<circle cx="909.8" cy="130.4" r="3.05"/>
<circle cx="946.3" cy="116.9" r="3.05"/>
<circle cx="988.4" cy="137" r="3.05"/>
<circle cx="940.8" cy="156.1" r="3.05"/>
<circle cx="934.8" cy="112" r="3.05"/>
<circle cx="918.3" cy="135.5" r="3.05"/>
<circle cx="861.6" cy="143.2" r="3.05"/>
<circle cx="869.6" cy="151.5" r="3.05"/>
<circle cx="855.9" cy="133.6" r="3.05"/>
<circle cx="973" cy="112.4" r="3.05"/>
<circle cx="954" cy="117.8" r="3.05"/>
<circle cx="979" cy="113.1" r="3.05"/>
<circle cx="972.3" cy="109.7" r="3.05"/>
<circle cx="877.5" cy="136" r="3.05"/>
<circle cx="908.4" cy="142.4" r="3.05"/>
<circle cx="923.7" cy="167.7" r="3.05"/>
<circle cx="942" cy="107.3" r="3.05"/>
<circle cx="928" cy="110.5" r="3.05"/>
<circle cx="775.7" cy="157.7" r="3.05"/>
<circle cx="959.5" cy="136.7" r="3.05"/>
<circle cx="949.1" cy="110.1" r="3.05"/>
<circle cx="967" cy="94.2" r="3.05"/>
<circle cx="917.5" cy="117" r="3.05"/>
<circle cx="881.5" cy="147.5" r="3.05"/>
<circle cx="963.6" cy="67.2" r="3.05"/>
<circle cx="974" cy="106.6" r="3.05"/>
<circle cx="934.9" cy="167.5" r="3.05"/>
<circle cx="874.5" cy="157.8" r="3.05"/>
<circle cx="895.6" cy="138" r="3.05"/>
<circle cx="950.7" cy="131.6" r="3.05"/>
<circle cx="936.1" cy="148.7" r="3.05"/>
<circle cx="950.8" cy="156.4" r="3.05"/>
<circle cx="911.5" cy="141.7" r="3.05"/>
<circle cx="921.4" cy="115.9" r="3.05"/>
<circle cx="955.7" cy="119.1" r="3.05"/>
<circle cx="964.4" cy="128.1" r="3.05"/>
<circle cx="975.7" cy="127.8" r="3.05"/>
<circle cx="935.4" cy="105.8" r="3.05"/>
<circle cx="910.7" cy="159.4" r="3.05"/>
<circle cx="906.8" cy="172.7" r="3.05"/>
<circle cx="913.6" cy="131.7" r="3.05"/>
<circle cx="930.1" cy="159.3" r="3.05"/>
<circle cx="954.2" cy="128.4" r="3.05"/>
<circle cx="983.2" cy="115.2" r="3.05"/>
<circle cx="950.4" cy="122.3" r="3.05"/>
<circle cx="989" cy="144.2" r="3.05"/>
<circle cx="926.1" cy="156.2" r="3.05"/>
<circle cx="882.6" cy="156.8" r="3.05"/>
<circle cx="929.5" cy="130.7" r="3.05"/>
<circle cx="944.6" cy="96.6" r="3.05"/>
<circle cx="913.8" cy="135.8" r="3.05"/>
<circle cx="906.4" cy="106.7" r="3.05"/>
<circle cx="906.7" cy="102.3" r="3.05"/>
<circle cx="956.8" cy="132.1" r="3.05"/>
<circle cx="942.8" cy="90.7" r="3.05"/>
<circle cx="971.8" cy="125.3" r="3.05"/>
<circle cx="932.6" cy="137.4" r="3.05"/>
<circle cx="964.8" cy="155.4" r="3.05"/>
<circle cx="983.3" cy="90.1" r="3.05"/>
<circle cx="968" cy="143.1" r="3.05"/>
<circle cx="956.3" cy="88.2" r="3.05"/>
<circle cx="920" cy="119.5" r="3.05"/>
<circle cx="936.5" cy="160.9" r="3.05"/>
<circle cx="881.1" cy="117.2" r="3.05"/>
<circle cx="885.1" cy="164.9" r="3.05"/>
<circle cx="943.1" cy="140.1" r="3.05"/>
<circle cx="954.3" cy="112" r="3.05"/>
<circle cx="893" cy="193.4" r="3.05"/>
<circle cx="872.7" cy="164" r="3.05"/>
<circle cx="934.4" cy="128.9" r="3.05"/>
<circle cx="879.8" cy="181.3" r="3.05"/>
<circle cx="916.1" cy="164.6" r="3.05"/>
<circle cx="950.6" cy="164.2" r="3.05"/>
<circle cx="895.2" cy="141" r="3.05"/>
<circle cx="926.8" cy="112.8" r="3.05"/>
<circle cx="925.7" cy="64.9" r="3.05"/>
<circle cx="888.9" cy="208.5" r="3.05"/>
<circle cx="876.9" cy="149.9" r="3.05"/>
<circle cx="934.9" cy="122.4" r="3.05"/>
<circle cx="929.6" cy="132.3" r="3.05"/>
<circle cx="950.6" cy="91.1" r="3.05"/>
<circle cx="891.4" cy="144.2" r="3.05"/>
<circle cx="841.6" cy="207.6" r="3.05"/>
<circle cx="942" cy="91.9" r="3.05"/>
<circle cx="937.5" cy="81.1" r="3.05"/>
<circle cx="958.3" cy="176.3" r="3.05"/>
<circle cx="974.2" cy="76.8" r="3.05"/>
<circle cx="934.4" cy="128.2" r="3.05"/>
<circle cx="926" cy="131.7" r="3.05"/>
<circle cx="957.7" cy="78.4" r="3.05"/>
<circle cx="859.3" cy="113.7" r="3.05"/>
<circle cx="924.9" cy="162.9" r="3.05"/>
<circle cx="940" cy="58.9" r="3.05"/>
<circle cx="956.6" cy="143.7" r="3.05"/>
<circle cx="923.1" cy="113.9" r="3.05"/>
<circle cx="943.5" cy="169.4" r="3.05"/>
<circle cx="871" cy="183.9" r="3.05"/>
<circle cx="975.5" cy="105.8" r="3.05"/>
<circle cx="852.9" cy="138.7" r="3.05"/>
<circle cx="932.1" cy="95.4" r="3.05"/>
<circle cx="953.2" cy="116.4" r="3.05"/>
<circle cx="915.3" cy="203.5" r="3.05"/>
<circle cx="991.2" cy="94.6" r="3.05"/>
<circle cx="887.6" cy="139.1" r="3.05"/>
<circle cx="913.9" cy="154.5" r="3.05"/>
<circle cx="895.9" cy="133.5" r="3.05"/>
<circle cx="964.9" cy="111.6" r="3.05"/>
<circle cx="907.2" cy="127.1" r="3.05"/>
<circle cx="857.6" cy="168.2" r="3.05"/>
<circle cx="892.7" cy="215.8" r="3.05"/>
<circle cx="953.3" cy="126.7" r="3.05"/>
<circle cx="865.8" cy="175.3" r="3.05"/>
<circle cx="936.5" cy="102.7" r="3.05"/>
<circle cx="910.5" cy="152.7" r="3.05"/>
<circle cx="871.2" cy="164.3" r="3.05"/>
<circle cx="928.3" cy="130.6" r="3.05"/>
<circle cx="938.9" cy="156.2" r="3.05"/>
<circle cx="934.8" cy="144.5" r="3.05"/>
<circle cx="913" cy="123.8" r="3.05"/>
<circle cx="951.8" cy="80.2" r="3.05"/>
<circle cx="982" cy="89.2" r="3.05"/>
<circle cx="900.6" cy="161.5" r="3.05"/>
<circle cx="892.1" cy="172.9" r="3.05"/>
<circle cx="914.2" cy="129.1" r="3.05"/>
<circle cx="927.9" cy="116.7" r="3.05"/>
<circle cx="856.5" cy="166" r="3.05"/>
<circle cx="967.3" cy="99.7" r="3.05"/>
<circle cx="910.4" cy="169.3" r="3.05"/>
<circle cx="866.7" cy="138.2" r="3.05"/>
<circle cx="921.3" cy="96.3" r="3.05"/>
<circle cx="954.6" cy="152" r="3.05"/>
<circle cx="966.7" cy="113.8" r="3.05"/>
<circle cx="1005.9" cy="137.4" r="3.05"/>
<circle cx="972.2" cy="122.7" r="3.05"/>
<circle cx="882.4" cy="159.3" r="3.05"/>
<circle cx="931.5" cy="107.5" r="3.05"/>
<circle cx="874.2" cy="125.7" r="3.05"/>
<circle cx="890.7" cy="155.3" r="3.05"/>
<circle cx="930.7" cy="127.5" r="3.05"/>
<circle cx="882.3" cy="152" r="3.05"/>
<circle cx="921.4" cy="176.2" r="3.05"/>
<circle cx="979.7" cy="114.9" r="3.05"/>
<circle cx="902.2" cy="124.7" r="3.05"/>
<circle cx="882.6" cy="162.5" r="3.05"/>
<circle cx="953.7" cy="138.6" r="3.05"/>
<circle cx="961.9" cy="147.3" r="3.05"/>
<circle cx="886.3" cy="70.4" r="3.05"/>
<circle cx="899.9" cy="161.4" r="3.05"/>
<circle cx="881.1" cy="147.3" r="3.05"/>
<circle cx="883.9" cy="161.3" r="3.05"/>
<circle cx="965.8" cy="45" r="3.05"/>
<circle cx="960.6" cy="199.2" r="3.05"/>
<circle cx="960.6" cy="112.7" r="3.05"/>
<circle cx="927.3" cy="125.6" r="3.05"/>
<circle cx="919.2" cy="125.9" r="3.05"/>
<circle cx="912.1" cy="138.3" r="3.05"/>
<circle cx="960.2" cy="143.6" r="3.05"/>
<circle cx="972.1" cy="107.5" r="3.05"/>
<circle cx="862.3" cy="145.8" r="3.05"/>
<circle cx="907.7" cy="158.7" r="3.05"/>
<circle cx="926.1" cy="130.4" r="3.05"/>
<circle cx="957.1" cy="110.1" r="3.05"/>
<circle cx="957.7" cy="126.8" r="3.05"/>
<circle cx="976.9" cy="163.3" r="3.05"/>
<circle cx="820.8" cy="117.8" r="3.05"/>
<circle cx="951.4" cy="63.1" r="3.05"/>
<circle cx="987.8" cy="122.2" r="3.05"/>
<circle cx="884.8" cy="151.2" r="3.05"/>
<circle cx="904.3" cy="156" r="3.05"/>
<circle cx="951.1" cy="91.2" r="3.05"/>
<circle cx="994.9" cy="111.7" r="3.05"/>
<circle cx="911.4" cy="146.4" r="3.05"/>
<circle cx="998.6" cy="99.8" r="3.05"/>
<circle cx="950.6" cy="132.2" r="3.05"/>
</g>
<line x1="733.8" y1="28.2" x2="733.8" y2="254.6" stroke="#231f20" stroke-width="2"/>
<line x1="732.8" y1="253.6" x2="1024.6" y2="253.6" stroke="#231f20" stroke-width="2"/>
<line x1="766" y1="253.6" x2="766" y2="259.1" stroke="#231f20" stroke-width="2"/>
<text x="766" y="281" text-anchor="middle">2</text>
<line x1="830.5" y1="253.6" x2="830.5" y2="259.1" stroke="#231f20" stroke-width="2"/>
<text x="830.5" y="281" text-anchor="middle">4</text>
<line x1="894.9" y1="253.6" x2="894.9" y2="259.1" stroke="#231f20" stroke-width="2"/>
<text x="894.9" y="281" text-anchor="middle">6</text>
<line x1="959.4" y1="253.6" x2="959.4" y2="259.1" stroke="#231f20" stroke-width="2"/>
<text x="959.4" y="281" text-anchor="middle">8</text>
<line x1="1023.8" y1="253.6" x2="1023.8" y2="259.1" stroke="#231f20" stroke-width="2"/>
<text x="1023.8" y="281" text-anchor="middle">10</text>
<line x1="798.2" y1="253.6" x2="798.2" y2="259.1" stroke="#231f20" stroke-width="2"/>
<line x1="862.7" y1="253.6" x2="862.7" y2="259.1" stroke="#231f20" stroke-width="2"/>
<line x1="927.1" y1="253.6" x2="927.1" y2="259.1" stroke="#231f20" stroke-width="2"/>
<line x1="991.6" y1="253.6" x2="991.6" y2="259.1" stroke="#231f20" stroke-width="2"/>
<line x1="727.8" y1="29" x2="733.8" y2="29" stroke="#231f20" stroke-width="2"/>
<text x="721.2" y="37.6" text-anchor="end">30</text>
<line x1="727.8" y1="78.9" x2="733.8" y2="78.9" stroke="#231f20" stroke-width="2"/>
<text x="721.2" y="87.5" text-anchor="end">20</text>
<line x1="727.8" y1="128.8" x2="733.8" y2="128.8" stroke="#231f20" stroke-width="2"/>
<text x="721.2" y="137.4" text-anchor="end">10</text>
<line x1="727.8" y1="178.7" x2="733.8" y2="178.7" stroke="#231f20" stroke-width="2"/>
<text x="721.2" y="187.3" text-anchor="end">0</text>
<line x1="727.8" y1="228.6" x2="733.8" y2="228.6" stroke="#231f20" stroke-width="2"/>
<text x="721.2" y="237.2" text-anchor="end">−10</text>
<line x1="727.8" y1="53.9" x2="733.8" y2="53.9" stroke="#231f20" stroke-width="2"/>
<line x1="727.8" y1="103.8" x2="733.8" y2="103.8" stroke="#231f20" stroke-width="2"/>
<line x1="727.8" y1="153.8" x2="733.8" y2="153.8" stroke="#231f20" stroke-width="2"/>
<line x1="727.8" y1="203.6" x2="733.8" y2="203.6" stroke="#231f20" stroke-width="2"/>
<text x="754.6" y="59.8">Without Ga</text>
<text x="754" y="208">SS</text>
<text x="870" y="306.2"><tspan font-family="Liberation Serif,serif">δ</tspan> (%)</text>
<g transform="translate(675,224.4) rotate(-90)"><text x="0" y="0" font-style="italic" transform="scale(0.918,1)">ΔH</text><text x="34.5" y="8.7" font-size="17.9">mix</text><text x="69.3" y="0">(kJ mol</text><text x="149.3" y="-8.4" font-size="17.9">−</text><text x="156.3" y="-8.4" font-size="17.9">1</text><text x="168.5" y="0">)</text></g>
<rect x="1110.6" y="122.9" width="180.9" height="83.6" fill="#f1f2f4"/>
<line x1="1110.8" y1="122.9" x2="1401.2" y2="122.9" stroke="#6d6e71" stroke-width="2" stroke-dasharray="21 6.6"/>
<line x1="1110.8" y1="206.5" x2="1401.2" y2="206.5" stroke="#6d6e71" stroke-width="2" stroke-dasharray="21 6.6"/>
<line x1="1291.5" y1="254.1" x2="1291.5" y2="28.5" stroke="#6d6e71" stroke-width="2" stroke-dasharray="21 6.6"/>
<g fill="url(#sph)">
<circle cx="1341" cy="74.9" r="3.05"/>
<circle cx="1325.8" cy="97.3" r="3.05"/>
<circle cx="1300.1" cy="172.1" r="3.05"/>
<circle cx="1302.2" cy="112.7" r="3.05"/>
<circle cx="1312.4" cy="140.2" r="3.05"/>
<circle cx="1315.4" cy="112.1" r="3.05"/>
<circle cx="1323" cy="131.2" r="3.05"/>
<circle cx="1305.4" cy="174.8" r="3.05"/>
<circle cx="1284.3" cy="158.5" r="3.05"/>
<circle cx="1356.3" cy="77.7" r="3.05"/>
<circle cx="1366.5" cy="69.3" r="3.05"/>
<circle cx="1298.2" cy="94.3" r="3.05"/>
<circle cx="1279.4" cy="162.5" r="3.05"/>
<circle cx="1243.4" cy="140.2" r="3.05"/>
<circle cx="1302.3" cy="121.6" r="3.05"/>
<circle cx="1296.6" cy="145" r="3.05"/>
<circle cx="1291.5" cy="160.3" r="3.05"/>
<circle cx="1287.7" cy="138.5" r="3.05"/>
<circle cx="1328.3" cy="92.1" r="3.05"/>
<circle cx="1285.4" cy="157.2" r="3.05"/>
<circle cx="1308.3" cy="139.1" r="3.05"/>
<circle cx="1326" cy="118.6" r="3.05"/>
<circle cx="1298.9" cy="143.7" r="3.05"/>
<circle cx="1303.6" cy="147.6" r="3.05"/>
<circle cx="1337.4" cy="88" r="3.05"/>
<circle cx="1312" cy="153.9" r="3.05"/>
<circle cx="1239.3" cy="171.1" r="3.05"/>
<circle cx="1274.3" cy="152.8" r="3.05"/>
<circle cx="1236" cy="128.6" r="3.05"/>
<circle cx="1354.5" cy="109.2" r="3.05"/>
<circle cx="1293.7" cy="161.2" r="3.05"/>
<circle cx="1335.3" cy="90" r="3.05"/>
<circle cx="1308.2" cy="183" r="3.05"/>
<circle cx="1270.9" cy="137.4" r="3.05"/>
<circle cx="1330.4" cy="100" r="3.05"/>
<circle cx="1262.6" cy="138.5" r="3.05"/>
<circle cx="1279.3" cy="152.6" r="3.05"/>
<circle cx="1336.3" cy="116.9" r="3.05"/>
<circle cx="1318" cy="79.1" r="3.05"/>
<circle cx="1324.8" cy="123.4" r="3.05"/>
<circle cx="1367.5" cy="117.9" r="3.05"/>
<circle cx="1296.3" cy="162.7" r="3.05"/>
<circle cx="1366.2" cy="84.1" r="3.05"/>
<circle cx="1327" cy="135.4" r="3.05"/>
<circle cx="1300.6" cy="145.8" r="3.05"/>
<circle cx="1322" cy="132" r="3.05"/>
<circle cx="1328" cy="150" r="3.05"/>
<circle cx="1290" cy="140.3" r="3.05"/>
<circle cx="1361.1" cy="90.7" r="3.05"/>
<circle cx="1275.4" cy="147.9" r="3.05"/>
<circle cx="1286.5" cy="159.7" r="3.05"/>
<circle cx="1349.7" cy="94.8" r="3.05"/>
<circle cx="1344.5" cy="108.7" r="3.05"/>
<circle cx="1327" cy="91.5" r="3.05"/>
<circle cx="1360.5" cy="153.1" r="3.05"/>
<circle cx="1299.7" cy="132.6" r="3.05"/>
<circle cx="1355.1" cy="117.3" r="3.05"/>
<circle cx="1267.3" cy="143" r="3.05"/>
<circle cx="1293.3" cy="185.6" r="3.05"/>
<circle cx="1302.6" cy="149.6" r="3.05"/>
<circle cx="1351" cy="88.8" r="3.05"/>
<circle cx="1337" cy="140.5" r="3.05"/>
<circle cx="1232.5" cy="200.1" r="3.05"/>
<circle cx="1356.4" cy="98" r="3.05"/>
<circle cx="1294.1" cy="95.4" r="3.05"/>
<circle cx="1341.1" cy="62.2" r="3.05"/>
<circle cx="1309.9" cy="128.4" r="3.05"/>
<circle cx="1325.5" cy="73.7" r="3.05"/>
<circle cx="1332.6" cy="127.1" r="3.05"/>
<circle cx="1365" cy="77.7" r="3.05"/>
<circle cx="1279.2" cy="186.1" r="3.05"/>
<circle cx="1276" cy="73" r="3.05"/>
<circle cx="1223.3" cy="158.2" r="3.05"/>
<circle cx="1364.1" cy="83.7" r="3.05"/>
<circle cx="1387.5" cy="111.7" r="3.05"/>
<circle cx="1280.2" cy="203" r="3.05"/>
<circle cx="1299.5" cy="99.2" r="3.05"/>
<circle cx="1328.6" cy="181.3" r="3.05"/>
<circle cx="1296" cy="161.2" r="3.05"/>
<circle cx="1319.2" cy="86.9" r="3.05"/>
<circle cx="1291.1" cy="178.4" r="3.05"/>
<circle cx="1361" cy="98.9" r="3.05"/>
<circle cx="1277.7" cy="195.9" r="3.05"/>
<circle cx="1304.8" cy="89.6" r="3.05"/>
<circle cx="1327.5" cy="155.6" r="3.05"/>
<circle cx="1213.6" cy="193.8" r="3.05"/>
<circle cx="1231.1" cy="171.8" r="3.05"/>
<circle cx="1326.7" cy="123.7" r="3.05"/>
<circle cx="1300.3" cy="168.1" r="3.05"/>
<circle cx="1314.6" cy="55.4" r="3.05"/>
<circle cx="1292.3" cy="144.5" r="3.05"/>
<circle cx="1324" cy="79.1" r="3.05"/>
<circle cx="1327.2" cy="176.3" r="3.05"/>
<circle cx="1274.1" cy="153.4" r="3.05"/>
<circle cx="1324.7" cy="94.8" r="3.05"/>
<circle cx="1300.1" cy="166.3" r="3.05"/>
<circle cx="1308.4" cy="99.5" r="3.05"/>
<circle cx="1288.6" cy="138.3" r="3.05"/>
<circle cx="1322.9" cy="117.4" r="3.05"/>
<circle cx="1331.5" cy="73" r="3.05"/>
<circle cx="1339.9" cy="127.2" r="3.05"/>
<circle cx="1277.3" cy="179" r="3.05"/>
<circle cx="1349.5" cy="55.6" r="3.05"/>
<circle cx="1370" cy="139.5" r="3.05"/>
<circle cx="1216.2" cy="189.5" r="3.05"/>
<circle cx="1274.7" cy="173.4" r="3.05"/>
<circle cx="1297.8" cy="129.1" r="3.05"/>
<circle cx="1305.9" cy="179.3" r="3.05"/>
<circle cx="1342.3" cy="153.6" r="3.05"/>
<circle cx="1235.9" cy="135" r="3.05"/>
<circle cx="1309.9" cy="86.5" r="3.05"/>
<circle cx="1323.1" cy="122.7" r="3.05"/>
<circle cx="1266.1" cy="139.4" r="3.05"/>
<circle cx="1275.3" cy="148.7" r="3.05"/>
<circle cx="1247.2" cy="136.1" r="3.05"/>
<circle cx="1355.4" cy="150.4" r="3.05"/>
<circle cx="1342.7" cy="95" r="3.05"/>
<circle cx="1329.5" cy="114" r="3.05"/>
<circle cx="1229.9" cy="117.7" r="3.05"/>
<circle cx="1336.6" cy="116.8" r="3.05"/>
<circle cx="1351.2" cy="132.6" r="3.05"/>
<circle cx="1280.4" cy="173.2" r="3.05"/>
<circle cx="1263.3" cy="161.1" r="3.05"/>
<circle cx="1208.9" cy="110.5" r="3.05"/>
<circle cx="1330.3" cy="123.3" r="3.05"/>
<circle cx="1318.8" cy="130" r="3.05"/>
<circle cx="1263" cy="177.7" r="3.05"/>
<circle cx="1266.1" cy="192" r="3.05"/>
<circle cx="1326.1" cy="103.6" r="3.05"/>
<circle cx="1315.8" cy="98.3" r="3.05"/>
<circle cx="1270.9" cy="150" r="3.05"/>
<circle cx="1274.8" cy="155.1" r="3.05"/>
<circle cx="1322.2" cy="136.1" r="3.05"/>
<circle cx="1325.6" cy="78.2" r="3.05"/>
<circle cx="1133.1" cy="183.4" r="3.05"/>
<circle cx="1279.9" cy="152.7" r="3.05"/>
<circle cx="1246.5" cy="177.3" r="3.05"/>
<circle cx="1268.3" cy="192.1" r="3.05"/>
<circle cx="1326.3" cy="155.4" r="3.05"/>
<circle cx="1310" cy="146" r="3.05"/>
<circle cx="1315.3" cy="92" r="3.05"/>
<circle cx="1285.3" cy="155.3" r="3.05"/>
<circle cx="1297.7" cy="150.7" r="3.05"/>
<circle cx="1289.5" cy="163.3" r="3.05"/>
<circle cx="1246.7" cy="148.2" r="3.05"/>
<circle cx="1319.4" cy="118.2" r="3.05"/>
<circle cx="1284.2" cy="155.3" r="3.05"/>
<circle cx="1355.4" cy="100.9" r="3.05"/>
<circle cx="1335.5" cy="84.5" r="3.05"/>
<circle cx="1331.8" cy="84.8" r="3.05"/>
<circle cx="1320.8" cy="107.5" r="3.05"/>
<circle cx="1317.9" cy="114.5" r="3.05"/>
<circle cx="1263.8" cy="157.3" r="3.05"/>
<circle cx="1313.4" cy="121.4" r="3.05"/>
<circle cx="1346.5" cy="124.4" r="3.05"/>
<circle cx="1282" cy="188.8" r="3.05"/>
<circle cx="1336.8" cy="126.4" r="3.05"/>
<circle cx="1259" cy="134.9" r="3.05"/>
<circle cx="1343.1" cy="100.9" r="3.05"/>
<circle cx="1348.2" cy="124.3" r="3.05"/>
<circle cx="1279.6" cy="104" r="3.05"/>
<circle cx="1318.8" cy="135" r="3.05"/>
<circle cx="1361.3" cy="146.2" r="3.05"/>
<circle cx="1331.6" cy="99.9" r="3.05"/>
<circle cx="1283.4" cy="137.9" r="3.05"/>
<circle cx="1274.9" cy="167.1" r="3.05"/>
<circle cx="1246.2" cy="162.9" r="3.05"/>
<circle cx="1337" cy="150.7" r="3.05"/>
<circle cx="1286.4" cy="158.9" r="3.05"/>
<circle cx="1301.3" cy="110.7" r="3.05"/>
<circle cx="1245.6" cy="174.1" r="3.05"/>
<circle cx="1266.9" cy="169.2" r="3.05"/>
<circle cx="1286" cy="153.7" r="3.05"/>
<circle cx="1332.6" cy="81.1" r="3.05"/>
<circle cx="1259.4" cy="151.1" r="3.05"/>
<circle cx="1287.2" cy="154.9" r="3.05"/>
<circle cx="1328.5" cy="102.4" r="3.05"/>
<circle cx="1322.7" cy="129.3" r="3.05"/>
<circle cx="1334.9" cy="128.3" r="3.05"/>
<circle cx="1293.9" cy="86.3" r="3.05"/>
<circle cx="1325.7" cy="116.8" r="3.05"/>
<circle cx="1323.8" cy="125.9" r="3.05"/>
<circle cx="1308.2" cy="119.4" r="3.05"/>
<circle cx="1278.2" cy="176.8" r="3.05"/>
<circle cx="1333.4" cy="124.1" r="3.05"/>
<circle cx="1198.7" cy="156.5" r="3.05"/>
<circle cx="1295" cy="149.9" r="3.05"/>
<circle cx="1321.4" cy="131.5" r="3.05"/>
<circle cx="1289.8" cy="173" r="3.05"/>
<circle cx="1277.6" cy="152.1" r="3.05"/>
<circle cx="1323.4" cy="133.5" r="3.05"/>
<circle cx="1310.2" cy="152.4" r="3.05"/>
<circle cx="1321.4" cy="98.4" r="3.05"/>
<circle cx="1285.9" cy="110.1" r="3.05"/>
<circle cx="1342.8" cy="107.9" r="3.05"/>
<circle cx="1220.5" cy="141.9" r="3.05"/>
<circle cx="1275.1" cy="186.2" r="3.05"/>
<circle cx="1325.1" cy="135.4" r="3.05"/>
<circle cx="1217.8" cy="186.9" r="3.05"/>
<circle cx="1291.8" cy="145.3" r="3.05"/>
<circle cx="1294.3" cy="143" r="3.05"/>
<circle cx="1239.8" cy="124.8" r="3.05"/>
<circle cx="1345.2" cy="127.2" r="3.05"/>
<circle cx="1325.8" cy="106.8" r="3.05"/>
<circle cx="1305.6" cy="84.8" r="3.05"/>
<circle cx="1332.9" cy="123.7" r="3.05"/>
<circle cx="1286" cy="170.7" r="3.05"/>
<circle cx="1318.7" cy="161.2" r="3.05"/>
<circle cx="1311" cy="137.6" r="3.05"/>
<circle cx="1349.1" cy="112.1" r="3.05"/>
<circle cx="1277" cy="116.6" r="3.05"/>
<circle cx="1332.8" cy="80.9" r="3.05"/>
<circle cx="1276.4" cy="167.8" r="3.05"/>
<circle cx="1332.1" cy="91.8" r="3.05"/>
<circle cx="1310.9" cy="110.5" r="3.05"/>
<circle cx="1248.2" cy="169.5" r="3.05"/>
<circle cx="1306.5" cy="172.3" r="3.05"/>
<circle cx="1295" cy="179.1" r="3.05"/>
<circle cx="1327.7" cy="128.4" r="3.05"/>
<circle cx="1297.1" cy="123.6" r="3.05"/>
<circle cx="1267.3" cy="177.1" r="3.05"/>
<circle cx="1347.4" cy="107.7" r="3.05"/>
<circle cx="1249.1" cy="182.3" r="3.05"/>
<circle cx="1299.6" cy="120.3" r="3.05"/>
<circle cx="1318.1" cy="117.2" r="3.05"/>
<circle cx="1318.5" cy="88.2" r="3.05"/>
<circle cx="1295.4" cy="154.6" r="3.05"/>
<circle cx="1355.4" cy="115.2" r="3.05"/>
<circle cx="1339.2" cy="97.1" r="3.05"/>
<circle cx="1308.4" cy="128.7" r="3.05"/>
<circle cx="1236.6" cy="157.7" r="3.05"/>
<circle cx="1243.6" cy="161.5" r="3.05"/>
<circle cx="1282.6" cy="160" r="3.05"/>
<circle cx="1341.4" cy="94" r="3.05"/>
<circle cx="1312.6" cy="105.2" r="3.05"/>
<circle cx="1350.2" cy="136.8" r="3.05"/>
<circle cx="1302" cy="120.2" r="3.05"/>
<circle cx="1270.6" cy="159.7" r="3.05"/>
<circle cx="1280.2" cy="171.4" r="3.05"/>
<circle cx="1289.7" cy="153" r="3.05"/>
<circle cx="1301.8" cy="172.1" r="3.05"/>
<circle cx="1353.4" cy="103" r="3.05"/>
<circle cx="1296" cy="154.2" r="3.05"/>
<circle cx="1283.3" cy="174.3" r="3.05"/>
<circle cx="1335.1" cy="88.1" r="3.05"/>
<circle cx="1335" cy="159.1" r="3.05"/>
<circle cx="1314" cy="171" r="3.05"/>
<circle cx="1339.9" cy="119.3" r="3.05"/>
<circle cx="1321.3" cy="138.8" r="3.05"/>
<circle cx="1336" cy="114.4" r="3.05"/>
<circle cx="1342.1" cy="116.5" r="3.05"/>
<circle cx="1322.4" cy="120.6" r="3.05"/>
<circle cx="1282.5" cy="144.7" r="3.05"/>
<circle cx="1306.1" cy="70.2" r="3.05"/>
<circle cx="1320.6" cy="144.8" r="3.05"/>
<circle cx="1334.1" cy="131.5" r="3.05"/>
<circle cx="1355.8" cy="97.7" r="3.05"/>
<circle cx="1329" cy="104.7" r="3.05"/>
<circle cx="1274" cy="117.6" r="3.05"/>
<circle cx="1372" cy="103.2" r="3.05"/>
<circle cx="1338.7" cy="143.3" r="3.05"/>
<circle cx="1274.2" cy="168.4" r="3.05"/>
<circle cx="1362.8" cy="113.5" r="3.05"/>
<circle cx="1311.7" cy="143.5" r="3.05"/>
<circle cx="1226.8" cy="182" r="3.05"/>
<circle cx="1350.5" cy="148.2" r="3.05"/>
<circle cx="1365.9" cy="98.5" r="3.05"/>
<circle cx="1335.6" cy="119.1" r="3.05"/>
<circle cx="1380.9" cy="126.7" r="3.05"/>
<circle cx="1146" cy="142.3" r="3.05"/>
<circle cx="1334" cy="86.9" r="3.05"/>
<circle cx="1298.8" cy="129.6" r="3.05"/>
<circle cx="1319.9" cy="109.6" r="3.05"/>
<circle cx="1293.4" cy="174.6" r="3.05"/>
<circle cx="1253.3" cy="145.7" r="3.05"/>
<circle cx="1282.7" cy="151" r="3.05"/>
<circle cx="1246.6" cy="159.5" r="3.05"/>
<circle cx="1366.8" cy="98.5" r="3.05"/>
<circle cx="1326.7" cy="104.7" r="3.05"/>
<circle cx="1314.6" cy="111.4" r="3.05"/>
<circle cx="1291.8" cy="131.7" r="3.05"/>
<circle cx="1269.4" cy="145.3" r="3.05"/>
<circle cx="1325.9" cy="112.3" r="3.05"/>
<circle cx="1318.4" cy="126.1" r="3.05"/>
<circle cx="1355.3" cy="93" r="3.05"/>
<circle cx="1254.2" cy="115.1" r="3.05"/>
<circle cx="1303" cy="129.6" r="3.05"/>
<circle cx="1352.1" cy="118.1" r="3.05"/>
<circle cx="1344.7" cy="111" r="3.05"/>
<circle cx="1366.9" cy="48.6" r="3.05"/>
<circle cx="1218" cy="134.5" r="3.05"/>
<circle cx="1284.5" cy="149.4" r="3.05"/>
<circle cx="1290.6" cy="129.1" r="3.05"/>
<circle cx="1302.8" cy="84.5" r="3.05"/>
<circle cx="1240.5" cy="130.2" r="3.05"/>
<circle cx="1317.9" cy="147.7" r="3.05"/>
<circle cx="1292" cy="109.1" r="3.05"/>
<circle cx="1316.7" cy="143.2" r="3.05"/>
<circle cx="1331.9" cy="103.6" r="3.05"/>
<circle cx="1333.3" cy="110.3" r="3.05"/>
<circle cx="1247" cy="149.1" r="3.05"/>
<circle cx="1280.7" cy="169.9" r="3.05"/>
<circle cx="1277.3" cy="183.1" r="3.05"/>
<circle cx="1331.2" cy="113" r="3.05"/>
<circle cx="1231.8" cy="167.4" r="3.05"/>
<circle cx="1311.9" cy="81.9" r="3.05"/>
<circle cx="1313.6" cy="131.3" r="3.05"/>
<circle cx="1286" cy="154.9" r="3.05"/>
<circle cx="1234.2" cy="152.8" r="3.05"/>
<circle cx="1334.3" cy="144.2" r="3.05"/>
<circle cx="1291.2" cy="141.5" r="3.05"/>
<circle cx="1345.9" cy="111.2" r="3.05"/>
<circle cx="1388.2" cy="109.5" r="3.05"/>
<circle cx="1342.9" cy="117.9" r="3.05"/>
<circle cx="1335.8" cy="100.3" r="3.05"/>
<circle cx="1224.9" cy="146.1" r="3.05"/>
<circle cx="1334.7" cy="102.7" r="3.05"/>
<circle cx="1285.1" cy="175.9" r="3.05"/>
<circle cx="1314.4" cy="104.7" r="3.05"/>
<circle cx="1315.2" cy="152.6" r="3.05"/>
<circle cx="1338.1" cy="128.5" r="3.05"/>
<circle cx="1330.8" cy="123.3" r="3.05"/>
<circle cx="1337.9" cy="86.1" r="3.05"/>
<circle cx="1336.3" cy="78.4" r="3.05"/>
<circle cx="1335.2" cy="98" r="3.05"/>
<circle cx="1297.5" cy="136" r="3.05"/>
<circle cx="1316.2" cy="142.7" r="3.05"/>
<circle cx="1337.8" cy="147.3" r="3.05"/>
<circle cx="1344.5" cy="112" r="3.05"/>
<circle cx="1337.2" cy="73.2" r="3.05"/>
<circle cx="1357.8" cy="119.1" r="3.05"/>
<circle cx="1323.7" cy="53.9" r="3.05"/>
<circle cx="1364.8" cy="91.2" r="3.05"/>
<circle cx="1283.6" cy="157.7" r="3.05"/>
<circle cx="1267.1" cy="96.6" r="3.05"/>
<circle cx="1311.4" cy="149.2" r="3.05"/>
<circle cx="1308" cy="126.9" r="3.05"/>
<circle cx="1265.1" cy="140.4" r="3.05"/>
<circle cx="1309.4" cy="155.1" r="3.05"/>
<circle cx="1344.2" cy="121.2" r="3.05"/>
<circle cx="1249.9" cy="158.5" r="3.05"/>
<circle cx="1297.2" cy="108.1" r="3.05"/>
<circle cx="1332.3" cy="113.4" r="3.05"/>
<circle cx="1260.5" cy="98.3" r="3.05"/>
<circle cx="1333.8" cy="118.7" r="3.05"/>
<circle cx="1308.3" cy="90.3" r="3.05"/>
<circle cx="1250.2" cy="155.1" r="3.05"/>
<circle cx="1333.2" cy="108.5" r="3.05"/>
<circle cx="1330.9" cy="100.7" r="3.05"/>
<circle cx="1293.4" cy="181.9" r="3.05"/>
<circle cx="1288.9" cy="121.1" r="3.05"/>
<circle cx="1120.2" cy="123.1" r="3.05"/>
<circle cx="1328.9" cy="116.3" r="3.05"/>
<circle cx="1374.7" cy="86" r="3.05"/>
<circle cx="1247.5" cy="159.1" r="3.05"/>
<circle cx="1299.2" cy="135.9" r="3.05"/>
<circle cx="1311.8" cy="98.1" r="3.05"/>
<circle cx="1336" cy="131.7" r="3.05"/>
<circle cx="1255.6" cy="150.9" r="3.05"/>
<circle cx="1322.8" cy="142.5" r="3.05"/>
<circle cx="1345.8" cy="130.3" r="3.05"/>
<circle cx="1309.9" cy="114.8" r="3.05"/>
<circle cx="1296.5" cy="148.5" r="3.05"/>
<circle cx="1346" cy="165.7" r="3.05"/>
<circle cx="1250.9" cy="189.8" r="3.05"/>
<circle cx="1326.1" cy="104.6" r="3.05"/>
<circle cx="1292.4" cy="125.4" r="3.05"/>
<circle cx="1250.4" cy="147.8" r="3.05"/>
<circle cx="1300" cy="128.2" r="3.05"/>
<circle cx="1256.8" cy="187.3" r="3.05"/>
<circle cx="1300.7" cy="142.9" r="3.05"/>
<circle cx="1300.5" cy="165.4" r="3.05"/>
<circle cx="1349.2" cy="109.7" r="3.05"/>
<circle cx="1325.3" cy="86.7" r="3.05"/>
<circle cx="1336.8" cy="90.1" r="3.05"/>
<circle cx="1265.4" cy="162" r="3.05"/>
<circle cx="1294.8" cy="126.5" r="3.05"/>
<circle cx="1279.6" cy="141.6" r="3.05"/>
<circle cx="1247" cy="175.5" r="3.05"/>
<circle cx="1317.3" cy="157.6" r="3.05"/>
<circle cx="1299.7" cy="184.6" r="3.05"/>
<circle cx="1337.5" cy="100.2" r="3.05"/>
<circle cx="1342.3" cy="95.5" r="3.05"/>
<circle cx="1313.9" cy="117.3" r="3.05"/>
<circle cx="1280.9" cy="135.8" r="3.05"/>
<circle cx="1324.9" cy="75" r="3.05"/>
<circle cx="1324.1" cy="113.4" r="3.05"/>
<circle cx="1309" cy="110.5" r="3.05"/>
<circle cx="1302.5" cy="172.7" r="3.05"/>
<circle cx="1334.8" cy="66.5" r="3.05"/>
<circle cx="1316.4" cy="118.8" r="3.05"/>
<circle cx="1287.2" cy="126" r="3.05"/>
<circle cx="1266.9" cy="159.4" r="3.05"/>
<circle cx="1329.1" cy="161.1" r="3.05"/>
<circle cx="1333.3" cy="104.5" r="3.05"/>
<circle cx="1281.3" cy="148.9" r="3.05"/>
<circle cx="1351" cy="111.7" r="3.05"/>
<circle cx="1276.8" cy="138.7" r="3.05"/>
<circle cx="1282.8" cy="131.7" r="3.05"/>
<circle cx="1343.6" cy="108.3" r="3.05"/>
<circle cx="1353.4" cy="118" r="3.05"/>
<circle cx="1313.6" cy="128.7" r="3.05"/>
<circle cx="1337.6" cy="108.1" r="3.05"/>
<circle cx="1278.6" cy="180" r="3.05"/>
<circle cx="1327.8" cy="107.5" r="3.05"/>
<circle cx="1279" cy="155.8" r="3.05"/>
<circle cx="1254.5" cy="136.9" r="3.05"/>
<circle cx="1311.3" cy="167.5" r="3.05"/>
<circle cx="1258" cy="146.6" r="3.05"/>
<circle cx="1273.3" cy="136.1" r="3.05"/>
<circle cx="1320.8" cy="138.3" r="3.05"/>
<circle cx="1332.8" cy="86.7" r="3.05"/>
<circle cx="1346.4" cy="102.6" r="3.05"/>
<circle cx="1319.5" cy="120.5" r="3.05"/>
<circle cx="1268.3" cy="161" r="3.05"/>
<circle cx="1325.6" cy="91.4" r="3.05"/>
<circle cx="1326.5" cy="117.8" r="3.05"/>
<circle cx="1247.7" cy="169.9" r="3.05"/>
<circle cx="1347.3" cy="142.9" r="3.05"/>
<circle cx="1343.8" cy="127.9" r="3.05"/>
<circle cx="1297.8" cy="145.2" r="3.05"/>
<circle cx="1238.5" cy="154.9" r="3.05"/>
<circle cx="1301.8" cy="196.6" r="3.05"/>
<circle cx="1299.9" cy="96.1" r="3.05"/>
<circle cx="1324.7" cy="125.3" r="3.05"/>
<circle cx="1271.6" cy="168.1" r="3.05"/>
<circle cx="1370.4" cy="103.8" r="3.05"/>
<circle cx="1356" cy="78.8" r="3.05"/>
<circle cx="1340.7" cy="119.7" r="3.05"/>
<circle cx="1219" cy="149.9" r="3.05"/>
<circle cx="1332.2" cy="136.7" r="3.05"/>
<circle cx="1306.2" cy="150" r="3.05"/>
<circle cx="1303.1" cy="100.9" r="3.05"/>
<circle cx="1356.6" cy="133.5" r="3.05"/>
<circle cx="1321.8" cy="148.5" r="3.05"/>
<circle cx="1195.8" cy="90.5" r="3.05"/>
<circle cx="1352.5" cy="106.1" r="3.05"/>
<circle cx="1333.2" cy="144.7" r="3.05"/>
<circle cx="1297.9" cy="148.6" r="3.05"/>
<circle cx="1331.7" cy="101.1" r="3.05"/>
<circle cx="1320.8" cy="146.9" r="3.05"/>
<circle cx="1361.6" cy="75.3" r="3.05"/>
<circle cx="1256.5" cy="140.7" r="3.05"/>
<circle cx="1319.3" cy="137.5" r="3.05"/>
<circle cx="1272.3" cy="149.1" r="3.05"/>
<circle cx="1289.3" cy="173.5" r="3.05"/>
<circle cx="1311.1" cy="83" r="3.05"/>
<circle cx="1302.8" cy="107.6" r="3.05"/>
<circle cx="1245" cy="152.1" r="3.05"/>
<circle cx="1292.3" cy="159.1" r="3.05"/>
<circle cx="1306.9" cy="185.5" r="3.05"/>
<circle cx="1334.1" cy="132" r="3.05"/>
<circle cx="1307.8" cy="138.7" r="3.05"/>
<circle cx="1338.6" cy="135.4" r="3.05"/>
<circle cx="1306.1" cy="96.1" r="3.05"/>
<circle cx="1307.4" cy="172" r="3.05"/>
<circle cx="1248.4" cy="80.2" r="3.05"/>
<circle cx="1303.9" cy="93.5" r="3.05"/>
<circle cx="1333.1" cy="125.8" r="3.05"/>
<circle cx="1276.7" cy="175.7" r="3.05"/>
<circle cx="1278" cy="172.6" r="3.05"/>
<circle cx="1291.7" cy="181.4" r="3.05"/>
<circle cx="1268.7" cy="168.4" r="3.05"/>
<circle cx="1292" cy="128.8" r="3.05"/>
<circle cx="1322.1" cy="135.6" r="3.05"/>
<circle cx="1239.7" cy="138.4" r="3.05"/>
<circle cx="1303" cy="120.6" r="3.05"/>
<circle cx="1323.6" cy="91.1" r="3.05"/>
<circle cx="1340.5" cy="106.6" r="3.05"/>
<circle cx="1249.4" cy="110" r="3.05"/>
<circle cx="1326.1" cy="75.4" r="3.05"/>
<circle cx="1299" cy="165.9" r="3.05"/>
<circle cx="1215.8" cy="181.4" r="3.05"/>
<circle cx="1152.5" cy="158" r="3.05"/>
<circle cx="1322.9" cy="127" r="3.05"/>
<circle cx="1269.1" cy="191.8" r="3.05"/>
<circle cx="1321.7" cy="124.1" r="3.05"/>
<circle cx="1288.3" cy="163.8" r="3.05"/>
<circle cx="1231.2" cy="162.4" r="3.05"/>
<circle cx="1238.2" cy="167.8" r="3.05"/>
<circle cx="1329" cy="139.8" r="3.05"/>
<circle cx="1298.5" cy="155.8" r="3.05"/>
<circle cx="1244.9" cy="147.6" r="3.05"/>
<circle cx="1257.3" cy="150.8" r="3.05"/>
<circle cx="1330.4" cy="125.9" r="3.05"/>
<circle cx="1314" cy="96.3" r="3.05"/>
<circle cx="1272.1" cy="210.2" r="3.05"/>
<circle cx="1299.7" cy="116.8" r="3.05"/>
<circle cx="1343.4" cy="114" r="3.05"/>
<circle cx="1330.1" cy="104.2" r="3.05"/>
<circle cx="1329.9" cy="80.5" r="3.05"/>
<circle cx="1255.2" cy="199.7" r="3.05"/>
<circle cx="1282.7" cy="162.9" r="3.05"/>
<circle cx="1317.5" cy="115.3" r="3.05"/>
<circle cx="1288.6" cy="134.7" r="3.05"/>
<circle cx="1265.6" cy="158.4" r="3.05"/>
<circle cx="1359.4" cy="104.2" r="3.05"/>
<circle cx="1298.3" cy="183.7" r="3.05"/>
<circle cx="1324.5" cy="83.4" r="3.05"/>
<circle cx="1310.7" cy="102.7" r="3.05"/>
<circle cx="1340.8" cy="116.1" r="3.05"/>
<circle cx="1274.7" cy="205.5" r="3.05"/>
<circle cx="1348.9" cy="126.6" r="3.05"/>
<circle cx="1204.2" cy="144.3" r="3.05"/>
<circle cx="1257.1" cy="94.9" r="3.05"/>
<circle cx="1293.5" cy="134.5" r="3.05"/>
<circle cx="1323.1" cy="78.7" r="3.05"/>
<circle cx="1276.7" cy="152.2" r="3.05"/>
<circle cx="1315.4" cy="137.9" r="3.05"/>
<circle cx="1314.6" cy="126.3" r="3.05"/>
<circle cx="1336.2" cy="80.1" r="3.05"/>
<circle cx="1302.2" cy="159.2" r="3.05"/>
<circle cx="1293.1" cy="140.6" r="3.05"/>
<circle cx="1342.7" cy="50.9" r="3.05"/>
<circle cx="1231.1" cy="145.4" r="3.05"/>
<circle cx="1267" cy="170.5" r="3.05"/>
<circle cx="1333.3" cy="130.4" r="3.05"/>
<circle cx="1310.5" cy="147.9" r="3.05"/>
<circle cx="1312.7" cy="70.8" r="3.05"/>
<circle cx="1280.9" cy="170.7" r="3.05"/>
<circle cx="1313" cy="148.1" r="3.05"/>
<circle cx="1302.2" cy="141" r="3.05"/>
<circle cx="1320.4" cy="97.9" r="3.05"/>
<circle cx="1287.8" cy="141" r="3.05"/>
<circle cx="1313" cy="69.8" r="3.05"/>
<circle cx="1246.1" cy="134.4" r="3.05"/>
<circle cx="1330.6" cy="114.4" r="3.05"/>
<circle cx="1311.4" cy="71.9" r="3.05"/>
<circle cx="1244.1" cy="136.8" r="3.05"/>
<circle cx="1240.6" cy="146.3" r="3.05"/>
<circle cx="1350.8" cy="110.2" r="3.05"/>
<circle cx="1306.3" cy="125.7" r="3.05"/>
<circle cx="1268.4" cy="149.2" r="3.05"/>
<circle cx="1269.5" cy="156.7" r="3.05"/>
<circle cx="1266.4" cy="179.6" r="3.05"/>
<circle cx="1317" cy="127.3" r="3.05"/>
<circle cx="1276.4" cy="121.6" r="3.05"/>
<circle cx="1210.4" cy="148.2" r="3.05"/>
<circle cx="1321.3" cy="95.8" r="3.05"/>
<circle cx="1315.4" cy="126.2" r="3.05"/>
<circle cx="1262" cy="138.9" r="3.05"/>
<circle cx="1276.9" cy="166.4" r="3.05"/>
<circle cx="1284.6" cy="153" r="3.05"/>
<circle cx="1315.3" cy="133.3" r="3.05"/>
<circle cx="1354.6" cy="86.4" r="3.05"/>
<circle cx="1253" cy="149.9" r="3.05"/>
<circle cx="1330.4" cy="111.9" r="3.05"/>
<circle cx="1382.3" cy="148.5" r="3.05"/>
<circle cx="1258.4" cy="200.1" r="3.05"/>
<circle cx="1309.2" cy="106.6" r="3.05"/>
<circle cx="1275.3" cy="169.2" r="3.05"/>
<circle cx="1207.8" cy="144.3" r="3.05"/>
<circle cx="1287.5" cy="156.8" r="3.05"/>
<circle cx="1317.8" cy="113.7" r="3.05"/>
<circle cx="1327.2" cy="86.6" r="3.05"/>
<circle cx="1350.4" cy="93.6" r="3.05"/>
<circle cx="1322.8" cy="102.1" r="3.05"/>
<circle cx="1339" cy="108.6" r="3.05"/>
<circle cx="1332.8" cy="103.6" r="3.05"/>
<circle cx="1253.9" cy="171.3" r="3.05"/>
<circle cx="1345.1" cy="109.3" r="3.05"/>
<circle cx="1272.5" cy="149.6" r="3.05"/>
<circle cx="1305.3" cy="149.2" r="3.05"/>
<circle cx="1280.2" cy="155.9" r="3.05"/>
<circle cx="1344.3" cy="104.9" r="3.05"/>
<circle cx="1318.9" cy="131" r="3.05"/>
<circle cx="1347.8" cy="92.7" r="3.05"/>
<circle cx="1352" cy="123.6" r="3.05"/>
<circle cx="1232.2" cy="165.1" r="3.05"/>
<circle cx="1210" cy="133.9" r="3.05"/>
<circle cx="1326.7" cy="110.1" r="3.05"/>
<circle cx="1344.2" cy="77.5" r="3.05"/>
<circle cx="1358.2" cy="91.8" r="3.05"/>
<circle cx="1329.6" cy="100.5" r="3.05"/>
<circle cx="1314.6" cy="121.6" r="3.05"/>
<circle cx="1335.8" cy="70.8" r="3.05"/>
<circle cx="1319.7" cy="94.9" r="3.05"/>
<circle cx="1321.3" cy="93.8" r="3.05"/>
<circle cx="1345" cy="104.6" r="3.05"/>
<circle cx="1326.6" cy="147.6" r="3.05"/>
<circle cx="1231" cy="129.9" r="3.05"/>
<circle cx="1316.8" cy="139" r="3.05"/>
<circle cx="1335.1" cy="132.6" r="3.05"/>
<circle cx="1342.7" cy="129.8" r="3.05"/>
<circle cx="1320.7" cy="151.1" r="3.05"/>
<circle cx="1287.6" cy="140.3" r="3.05"/>
<circle cx="1322.5" cy="101.3" r="3.05"/>
<circle cx="1336.5" cy="79.5" r="3.05"/>
<circle cx="1281.8" cy="200.3" r="3.05"/>
<circle cx="1221.7" cy="149.7" r="3.05"/>
<circle cx="1273.5" cy="147.3" r="3.05"/>
<circle cx="1344" cy="88" r="3.05"/>
<circle cx="1294.9" cy="158.5" r="3.05"/>
<circle cx="1306.9" cy="168.2" r="3.05"/>
<circle cx="1339.8" cy="49.9" r="3.05"/>
<circle cx="1264.9" cy="154.8" r="3.05"/>
<circle cx="1290.9" cy="120.8" r="3.05"/>
<circle cx="1279.9" cy="134.8" r="3.05"/>
<circle cx="1267.3" cy="171.9" r="3.05"/>
<circle cx="1343.3" cy="88.6" r="3.05"/>
<circle cx="1276.5" cy="144.3" r="3.05"/>
<circle cx="1317.6" cy="85.8" r="3.05"/>
<circle cx="1272.2" cy="132.6" r="3.05"/>
<circle cx="1356.3" cy="136.8" r="3.05"/>
<circle cx="1258.6" cy="178.8" r="3.05"/>
<circle cx="1367.1" cy="107.7" r="3.05"/>
<circle cx="1322.1" cy="163" r="3.05"/>
<circle cx="1272.2" cy="144.8" r="3.05"/>
<circle cx="1321.4" cy="122.1" r="3.05"/>
<circle cx="1341.8" cy="120.4" r="3.05"/>
<circle cx="1310.6" cy="92.1" r="3.05"/>
<circle cx="1228.7" cy="123.6" r="3.05"/>
<circle cx="1311.7" cy="102.6" r="3.05"/>
<circle cx="1328.5" cy="176.7" r="3.05"/>
<circle cx="1277.7" cy="122.8" r="3.05"/>
<circle cx="1152.5" cy="135.5" r="3.05"/>
<circle cx="1240.7" cy="182.7" r="3.05"/>
<circle cx="1305.6" cy="130.5" r="3.05"/>
<circle cx="1256.9" cy="155.3" r="3.05"/>
<circle cx="1366.4" cy="126.6" r="3.05"/>
<circle cx="1326.9" cy="110.1" r="3.05"/>
<circle cx="1322.5" cy="82.4" r="3.05"/>
<circle cx="1313.4" cy="170.3" r="3.05"/>
<circle cx="1276.9" cy="188.6" r="3.05"/>
<circle cx="1286" cy="149.5" r="3.05"/>
<circle cx="1359.6" cy="101.8" r="3.05"/>
<circle cx="1265.1" cy="169.2" r="3.05"/>
<circle cx="1333.5" cy="115.1" r="3.05"/>
<circle cx="1354.1" cy="72.8" r="3.05"/>
<circle cx="1318.6" cy="148.8" r="3.05"/>
<circle cx="1349" cy="184.9" r="3.05"/>
<circle cx="1327.2" cy="93.3" r="3.05"/>
<circle cx="1351.2" cy="92.8" r="3.05"/>
<circle cx="1322.1" cy="83.9" r="3.05"/>
<circle cx="1303.7" cy="128.5" r="3.05"/>
<circle cx="1355.7" cy="122.5" r="3.05"/>
<circle cx="1298.1" cy="140.3" r="3.05"/>
<circle cx="1283.5" cy="121.1" r="3.05"/>
<circle cx="1319" cy="109.2" r="3.05"/>
<circle cx="1341.7" cy="83" r="3.05"/>
<circle cx="1251" cy="135.8" r="3.05"/>
<circle cx="1293.4" cy="128.2" r="3.05"/>
<circle cx="1333.5" cy="93.8" r="3.05"/>
<circle cx="1243.4" cy="102.3" r="3.05"/>
<circle cx="1284.9" cy="150.6" r="3.05"/>
<circle cx="1319.3" cy="141.2" r="3.05"/>
<circle cx="1364.8" cy="94.8" r="3.05"/>
<circle cx="1250" cy="171.3" r="3.05"/>
<circle cx="1355.9" cy="95.3" r="3.05"/>
<circle cx="1292.8" cy="135.6" r="3.05"/>
<circle cx="1339.8" cy="125" r="3.05"/>
<circle cx="1340.4" cy="128.1" r="3.05"/>
<circle cx="1329.8" cy="77.4" r="3.05"/>
<circle cx="1240.2" cy="173.4" r="3.05"/>
<circle cx="1290.8" cy="110.1" r="3.05"/>
<circle cx="1298.4" cy="78" r="3.05"/>
<circle cx="1307.7" cy="152.8" r="3.05"/>
<circle cx="1354.5" cy="106.9" r="3.05"/>
<circle cx="1335.6" cy="80.3" r="3.05"/>
<circle cx="1222.2" cy="154" r="3.05"/>
<circle cx="1324.5" cy="116.4" r="3.05"/>
<circle cx="1298.5" cy="195" r="3.05"/>
<circle cx="1346.3" cy="99.6" r="3.05"/>
<circle cx="1334.1" cy="87.3" r="3.05"/>
<circle cx="1354.2" cy="98.4" r="3.05"/>
<circle cx="1287.1" cy="109.5" r="3.05"/>
<circle cx="1267.9" cy="173" r="3.05"/>
<circle cx="1309.6" cy="178.6" r="3.05"/>
<circle cx="1253.6" cy="192.7" r="3.05"/>
<circle cx="1307.3" cy="120.5" r="3.05"/>
<circle cx="1269.8" cy="139" r="3.05"/>
<circle cx="1344.5" cy="147.4" r="3.05"/>
<circle cx="1209.7" cy="147.4" r="3.05"/>
<circle cx="1341.3" cy="151.6" r="3.05"/>
<circle cx="1329.1" cy="100.5" r="3.05"/>
<circle cx="1259" cy="176.6" r="3.05"/>
<circle cx="1246.4" cy="183.5" r="3.05"/>
<circle cx="1310.7" cy="105.9" r="3.05"/>
<circle cx="1310.2" cy="151.6" r="3.05"/>
<circle cx="1280.5" cy="122.1" r="3.05"/>
<circle cx="1342.7" cy="110.3" r="3.05"/>
<circle cx="1342.9" cy="93.4" r="3.05"/>
<circle cx="1230.8" cy="150.5" r="3.05"/>
<circle cx="1310.2" cy="122.1" r="3.05"/>
<circle cx="1338" cy="96.6" r="3.05"/>
<circle cx="1338" cy="97.4" r="3.05"/>
<circle cx="1319.3" cy="127.5" r="3.05"/>
<circle cx="1335.6" cy="111.7" r="3.05"/>
<circle cx="1288.5" cy="173" r="3.05"/>
<circle cx="1336.1" cy="87.3" r="3.05"/>
<circle cx="1242.4" cy="147.9" r="3.05"/>
<circle cx="1228.3" cy="142.9" r="3.05"/>
<circle cx="1323.8" cy="90.8" r="3.05"/>
<circle cx="1311.8" cy="122.3" r="3.05"/>
<circle cx="1324.5" cy="155.9" r="3.05"/>
<circle cx="1269.5" cy="158.6" r="3.05"/>
<circle cx="1332.6" cy="105.6" r="3.05"/>
<circle cx="1304.8" cy="125.4" r="3.05"/>
<circle cx="1338" cy="108.6" r="3.05"/>
<circle cx="1320.2" cy="122.6" r="3.05"/>
<circle cx="1248.3" cy="166.9" r="3.05"/>
<circle cx="1360.8" cy="90.3" r="3.05"/>
<circle cx="1313.5" cy="139" r="3.05"/>
<circle cx="1339.7" cy="101.1" r="3.05"/>
<circle cx="1336.5" cy="97.4" r="3.05"/>
<circle cx="1337.6" cy="125.1" r="3.05"/>
<circle cx="1194.7" cy="167.2" r="3.05"/>
<circle cx="1254.3" cy="184.3" r="3.05"/>
<circle cx="1290.3" cy="163.4" r="3.05"/>
<circle cx="1288" cy="155.8" r="3.05"/>
<circle cx="1285.7" cy="148.5" r="3.05"/>
<circle cx="1344.1" cy="139" r="3.05"/>
<circle cx="1313.7" cy="177.2" r="3.05"/>
<circle cx="1263.8" cy="194.8" r="3.05"/>
<circle cx="1273.2" cy="187.3" r="3.05"/>
<circle cx="1276.2" cy="155.4" r="3.05"/>
<circle cx="1243.2" cy="128.8" r="3.05"/>
<circle cx="1319.1" cy="105.8" r="3.05"/>
<circle cx="1220.7" cy="186.3" r="3.05"/>
<circle cx="1315" cy="91.6" r="3.05"/>
<circle cx="1297.4" cy="150.5" r="3.05"/>
<circle cx="1315.9" cy="120.9" r="3.05"/>
<circle cx="1359.8" cy="114.6" r="3.05"/>
<circle cx="1263.6" cy="153.5" r="3.05"/>
<circle cx="1316.9" cy="124.8" r="3.05"/>
<circle cx="1317.5" cy="84.5" r="3.05"/>
<circle cx="1331.3" cy="120.4" r="3.05"/>
<circle cx="1307.7" cy="106.4" r="3.05"/>
<circle cx="1326.9" cy="88.3" r="3.05"/>
<circle cx="1304" cy="123.7" r="3.05"/>
<circle cx="1305.4" cy="166.1" r="3.05"/>
<circle cx="1285.9" cy="157.9" r="3.05"/>
<circle cx="1313" cy="107.1" r="3.05"/>
<circle cx="1230.1" cy="169.6" r="3.05"/>
<circle cx="1271.8" cy="147.2" r="3.05"/>
<circle cx="1317.2" cy="105.8" r="3.05"/>
<circle cx="1317" cy="115.5" r="3.05"/>
<circle cx="1241.9" cy="125.6" r="3.05"/>
<circle cx="1296.7" cy="155.5" r="3.05"/>
<circle cx="1296.1" cy="127.1" r="3.05"/>
<circle cx="1359.9" cy="73.8" r="3.05"/>
<circle cx="1344" cy="110.1" r="3.05"/>
<circle cx="1357" cy="114.5" r="3.05"/>
<circle cx="1351.9" cy="118" r="3.05"/>
<circle cx="1285.1" cy="166.3" r="3.05"/>
<circle cx="1328.7" cy="97.8" r="3.05"/>
<circle cx="1284.1" cy="131.1" r="3.05"/>
<circle cx="1284.8" cy="126.9" r="3.05"/>
<circle cx="1358.3" cy="76.9" r="3.05"/>
<circle cx="1232.7" cy="167.3" r="3.05"/>
<circle cx="1252.5" cy="158.4" r="3.05"/>
<circle cx="1266.3" cy="145.7" r="3.05"/>
<circle cx="1302.9" cy="89.9" r="3.05"/>
<circle cx="1319.8" cy="91.5" r="3.05"/>
<circle cx="1229.2" cy="148.5" r="3.05"/>
<circle cx="1315.7" cy="110" r="3.05"/>
<circle cx="1259.2" cy="114.5" r="3.05"/>
<circle cx="1286.9" cy="149.2" r="3.05"/>
<circle cx="1329.6" cy="151.4" r="3.05"/>
<circle cx="1330.4" cy="120.1" r="3.05"/>
<circle cx="1312.9" cy="120.3" r="3.05"/>
<circle cx="1303.4" cy="145.4" r="3.05"/>
<circle cx="1249.7" cy="126.9" r="3.05"/>
<circle cx="1283.3" cy="178.1" r="3.05"/>
<circle cx="1266.5" cy="164.9" r="3.05"/>
<circle cx="1268.4" cy="130.3" r="3.05"/>
<circle cx="1291.7" cy="163.8" r="3.05"/>
<circle cx="1318.8" cy="121.6" r="3.05"/>
<circle cx="1280.2" cy="100.7" r="3.05"/>
<circle cx="1320.6" cy="160" r="3.05"/>
<circle cx="1262" cy="168.2" r="3.05"/>
<circle cx="1291.8" cy="166.7" r="3.05"/>
<circle cx="1278.4" cy="139.5" r="3.05"/>
<circle cx="1339.1" cy="56.6" r="3.05"/>
<circle cx="1371.4" cy="81.2" r="3.05"/>
<circle cx="1328.8" cy="139.3" r="3.05"/>
<circle cx="1236.6" cy="120.3" r="3.05"/>
<circle cx="1336.2" cy="129.1" r="3.05"/>
<circle cx="1344.3" cy="103.2" r="3.05"/>
<circle cx="1315.3" cy="137.1" r="3.05"/>
<circle cx="1305.2" cy="113.1" r="3.05"/>
<circle cx="1328.7" cy="135.6" r="3.05"/>
<circle cx="1272.3" cy="190.3" r="3.05"/>
<circle cx="1218.8" cy="118.9" r="3.05"/>
<circle cx="1302.9" cy="160.6" r="3.05"/>
<circle cx="1259.5" cy="191" r="3.05"/>
<circle cx="1273.6" cy="197.2" r="3.05"/>
<circle cx="1347.6" cy="108.9" r="3.05"/>
<circle cx="1326.7" cy="120.7" r="3.05"/>
<circle cx="1343.2" cy="88.3" r="3.05"/>
<circle cx="1322.7" cy="100.3" r="3.05"/>
<circle cx="1339.3" cy="131.7" r="3.05"/>
<circle cx="1311.9" cy="80.5" r="3.05"/>
<circle cx="1350.2" cy="140.2" r="3.05"/>
<circle cx="1262.6" cy="172.9" r="3.05"/>
<circle cx="1358.2" cy="146.2" r="3.05"/>
<circle cx="1363.7" cy="96.1" r="3.05"/>
<circle cx="1264.8" cy="137" r="3.05"/>
<circle cx="1308.3" cy="125.7" r="3.05"/>
<circle cx="1280.8" cy="183.7" r="3.05"/>
<circle cx="1300.7" cy="148.9" r="3.05"/>
<circle cx="1323.1" cy="128" r="3.05"/>
<circle cx="1315.6" cy="119.7" r="3.05"/>
<circle cx="1259.5" cy="141.4" r="3.05"/>
<circle cx="1253.5" cy="207" r="3.05"/>
<circle cx="1308.3" cy="69.4" r="3.05"/>
<circle cx="1305.7" cy="157.9" r="3.05"/>
<circle cx="1265.4" cy="170.2" r="3.05"/>
<circle cx="1345.6" cy="120.5" r="3.05"/>
<circle cx="1376.2" cy="95.9" r="3.05"/>
<circle cx="1306.5" cy="129.1" r="3.05"/>
<circle cx="1287.7" cy="159.9" r="3.05"/>
<circle cx="1325.9" cy="105.2" r="3.05"/>
<circle cx="1273.6" cy="173.8" r="3.05"/>
<circle cx="1272.7" cy="140.1" r="3.05"/>
<circle cx="1333.1" cy="79.8" r="3.05"/>
<circle cx="1300.3" cy="175.5" r="3.05"/>
<circle cx="1318.6" cy="99.8" r="3.05"/>
<circle cx="1322.7" cy="138.1" r="3.05"/>
<circle cx="1310.8" cy="76.7" r="3.05"/>
<circle cx="1197.5" cy="146.6" r="3.05"/>
<circle cx="1251.8" cy="183.8" r="3.05"/>
<circle cx="1222.8" cy="141.1" r="3.05"/>
<circle cx="1267.5" cy="167.4" r="3.05"/>
<circle cx="1326.2" cy="109.8" r="3.05"/>
<circle cx="1245.4" cy="160" r="3.05"/>
<circle cx="1346.6" cy="100.1" r="3.05"/>
<circle cx="1342.3" cy="121.8" r="3.05"/>
<circle cx="1318.2" cy="108" r="3.05"/>
<circle cx="1329.9" cy="105.1" r="3.05"/>
<circle cx="1274.5" cy="158" r="3.05"/>
<circle cx="1346.7" cy="115.2" r="3.05"/>
<circle cx="1337" cy="97.2" r="3.05"/>
<circle cx="1254.9" cy="188.3" r="3.05"/>
<circle cx="1251.2" cy="147" r="3.05"/>
<circle cx="1278.5" cy="146.4" r="3.05"/>
<circle cx="1331.8" cy="118.3" r="3.05"/>
<circle cx="1242.2" cy="109.9" r="3.05"/>
<circle cx="1346.4" cy="101.3" r="3.05"/>
<circle cx="1301.7" cy="174.7" r="3.05"/>
<circle cx="1334.2" cy="100.5" r="3.05"/>
<circle cx="1264.9" cy="143.1" r="3.05"/>
<circle cx="1307.4" cy="182.6" r="3.05"/>
<circle cx="1258.8" cy="168.2" r="3.05"/>
<circle cx="1268" cy="154.3" r="3.05"/>
<circle cx="1346.9" cy="109.5" r="3.05"/>
<circle cx="1241.2" cy="182.8" r="3.05"/>
<circle cx="1275.9" cy="153.6" r="3.05"/>
<circle cx="1284.2" cy="122" r="3.05"/>
</g>
<line x1="1110.6" y1="27.7" x2="1110.6" y2="254.7" stroke="#231f20" stroke-width="2"/>
<line x1="1109.6" y1="253.7" x2="1402" y2="253.7" stroke="#231f20" stroke-width="2"/>
<line x1="1142.8" y1="253.7" x2="1142.8" y2="259.2" stroke="#231f20" stroke-width="2"/>
<text x="1142.8" y="281.1" text-anchor="middle">2</text>
<line x1="1207.4" y1="253.7" x2="1207.4" y2="259.2" stroke="#231f20" stroke-width="2"/>
<text x="1207.4" y="281.1" text-anchor="middle">4</text>
<line x1="1272" y1="253.7" x2="1272" y2="259.2" stroke="#231f20" stroke-width="2"/>
<text x="1272" y="281.1" text-anchor="middle">6</text>
<line x1="1336.6" y1="253.7" x2="1336.6" y2="259.2" stroke="#231f20" stroke-width="2"/>
<text x="1336.6" y="281.1" text-anchor="middle">8</text>
<line x1="1401.2" y1="253.7" x2="1401.2" y2="259.2" stroke="#231f20" stroke-width="2"/>
<text x="1401.2" y="281.1" text-anchor="middle">10</text>
<line x1="1175.1" y1="253.7" x2="1175.1" y2="259.2" stroke="#231f20" stroke-width="2"/>
<line x1="1239.7" y1="253.7" x2="1239.7" y2="259.2" stroke="#231f20" stroke-width="2"/>
<line x1="1304.3" y1="253.7" x2="1304.3" y2="259.2" stroke="#231f20" stroke-width="2"/>
<line x1="1368.9" y1="253.7" x2="1368.9" y2="259.2" stroke="#231f20" stroke-width="2"/>
<line x1="1104.6" y1="56.7" x2="1110.6" y2="56.7" stroke="#231f20" stroke-width="2"/>
<text x="1098" y="65.3" text-anchor="end">15</text>
<line x1="1104.6" y1="113" x2="1110.6" y2="113" stroke="#231f20" stroke-width="2"/>
<text x="1098" y="121.6" text-anchor="end">5</text>
<line x1="1104.6" y1="169.3" x2="1110.6" y2="169.3" stroke="#231f20" stroke-width="2"/>
<text x="1098" y="177.9" text-anchor="end">−5</text>
<line x1="1104.6" y1="225.6" x2="1110.6" y2="225.6" stroke="#231f20" stroke-width="2"/>
<text x="1098" y="234.2" text-anchor="end">−15</text>
<line x1="1104.6" y1="28.5" x2="1110.6" y2="28.5" stroke="#231f20" stroke-width="2"/>
<line x1="1104.6" y1="84.8" x2="1110.6" y2="84.8" stroke="#231f20" stroke-width="2"/>
<line x1="1104.6" y1="141.2" x2="1110.6" y2="141.2" stroke="#231f20" stroke-width="2"/>
<line x1="1104.6" y1="197.4" x2="1110.6" y2="197.4" stroke="#231f20" stroke-width="2"/>
<text x="1131.8" y="59.9">Ga</text>
<text x="1142" y="188.4">SS</text>
<text x="1247.8" y="306.2"><tspan font-family="Liberation Serif,serif">δ</tspan> (%)</text>
<g transform="translate(1053.4,229) rotate(-90)"><text x="0" y="0" font-style="italic" transform="scale(0.918,1)">ΔH</text><text x="34.5" y="8.7" font-size="17.9">mix</text><text x="69.3" y="0">(kJ mol</text><text x="149.3" y="-8.4" font-size="17.9">−</text><text x="156.3" y="-8.4" font-size="17.9">1</text><text x="168.5" y="0">)</text></g>
<rect x="733.8" y="453" width="180.6" height="73.8" fill="#f1f2f4"/>
<line x1="734" y1="453" x2="1023.8" y2="453" stroke="#6d6e71" stroke-width="2" stroke-dasharray="21 6.6"/>
<line x1="734" y1="526.8" x2="1023.8" y2="526.8" stroke="#6d6e71" stroke-width="2" stroke-dasharray="21 6.6"/>
<line x1="914.4" y1="544.1" x2="914.4" y2="319.4" stroke="#6d6e71" stroke-width="2" stroke-dasharray="21 6.6"/>
<g fill="url(#sph)">
<circle cx="915.6" cy="428.5" r="3.05"/>
<circle cx="976.2" cy="391" r="3.05"/>
<circle cx="930.1" cy="408" r="3.05"/>
<circle cx="947.5" cy="413.5" r="3.05"/>
<circle cx="877.8" cy="422.2" r="3.05"/>
<circle cx="945.4" cy="382.4" r="3.05"/>
<circle cx="954.1" cy="406.6" r="3.05"/>
<circle cx="923.7" cy="370.4" r="3.05"/>
<circle cx="951.9" cy="433.5" r="3.05"/>
<circle cx="890.8" cy="443.2" r="3.05"/>
<circle cx="889.2" cy="389.1" r="3.05"/>
<circle cx="944.7" cy="441.7" r="3.05"/>
<circle cx="921.5" cy="426.2" r="3.05"/>
<circle cx="861.9" cy="334.7" r="3.05"/>
<circle cx="955.6" cy="422.6" r="3.05"/>
<circle cx="949.1" cy="407.2" r="3.05"/>
<circle cx="898.6" cy="379.4" r="3.05"/>
<circle cx="888.4" cy="427.7" r="3.05"/>
<circle cx="945.6" cy="386.2" r="3.05"/>
<circle cx="880.9" cy="386.7" r="3.05"/>
<circle cx="910.2" cy="405" r="3.05"/>
<circle cx="872.3" cy="407.5" r="3.05"/>
<circle cx="908.3" cy="393.6" r="3.05"/>
<circle cx="920.9" cy="424.2" r="3.05"/>
<circle cx="906.7" cy="449.6" r="3.05"/>
<circle cx="900.1" cy="377" r="3.05"/>
<circle cx="915.9" cy="414.3" r="3.05"/>
<circle cx="907.2" cy="499" r="3.05"/>
<circle cx="927.3" cy="397.6" r="3.05"/>
<circle cx="937.2" cy="428.6" r="3.05"/>
<circle cx="936.8" cy="412.7" r="3.05"/>
<circle cx="977.4" cy="404.6" r="3.05"/>
<circle cx="937.2" cy="408.7" r="3.05"/>
<circle cx="947.3" cy="432" r="3.05"/>
<circle cx="926.7" cy="394.8" r="3.05"/>
<circle cx="931.5" cy="391.7" r="3.05"/>
<circle cx="895.1" cy="423.3" r="3.05"/>
<circle cx="856.2" cy="426.8" r="3.05"/>
<circle cx="915.5" cy="454.6" r="3.05"/>
<circle cx="950.3" cy="409.6" r="3.05"/>
<circle cx="959.7" cy="382.6" r="3.05"/>
<circle cx="925.7" cy="448.9" r="3.05"/>
<circle cx="906.5" cy="421.5" r="3.05"/>
<circle cx="914.9" cy="391.7" r="3.05"/>
<circle cx="919.2" cy="404" r="3.05"/>
<circle cx="972.7" cy="417.6" r="3.05"/>
<circle cx="919.4" cy="460.6" r="3.05"/>
<circle cx="916.3" cy="462.5" r="3.05"/>
<circle cx="928" cy="388.4" r="3.05"/>
<circle cx="893.9" cy="432" r="3.05"/>
<circle cx="958.5" cy="418.1" r="3.05"/>
<circle cx="962.6" cy="426.7" r="3.05"/>
<circle cx="919.2" cy="386.6" r="3.05"/>
<circle cx="936.6" cy="388.1" r="3.05"/>
<circle cx="948.5" cy="429" r="3.05"/>
<circle cx="896.4" cy="386.7" r="3.05"/>
<circle cx="931.7" cy="363.9" r="3.05"/>
<circle cx="923.5" cy="435.7" r="3.05"/>
<circle cx="853.7" cy="428.8" r="3.05"/>
<circle cx="962" cy="408.7" r="3.05"/>
<circle cx="940.9" cy="433" r="3.05"/>
<circle cx="930.3" cy="375.2" r="3.05"/>
<circle cx="920.3" cy="415.2" r="3.05"/>
<circle cx="919" cy="415.4" r="3.05"/>
<circle cx="885.4" cy="387.9" r="3.05"/>
<circle cx="892.9" cy="454.5" r="3.05"/>
<circle cx="965.3" cy="396.1" r="3.05"/>
<circle cx="920.8" cy="417.9" r="3.05"/>
<circle cx="919" cy="412.9" r="3.05"/>
<circle cx="901.4" cy="391.1" r="3.05"/>
<circle cx="935.7" cy="384.5" r="3.05"/>
<circle cx="885.2" cy="420.6" r="3.05"/>
<circle cx="935.3" cy="419.1" r="3.05"/>
<circle cx="908.3" cy="409.5" r="3.05"/>
<circle cx="918" cy="392" r="3.05"/>
<circle cx="897.3" cy="387.5" r="3.05"/>
<circle cx="936.6" cy="412.5" r="3.05"/>
<circle cx="945.6" cy="417.3" r="3.05"/>
<circle cx="904.1" cy="424" r="3.05"/>
<circle cx="933.9" cy="385.1" r="3.05"/>
<circle cx="884.8" cy="408.8" r="3.05"/>
<circle cx="881.1" cy="404.3" r="3.05"/>
<circle cx="859.8" cy="396.7" r="3.05"/>
<circle cx="914.9" cy="387" r="3.05"/>
<circle cx="940.2" cy="396.5" r="3.05"/>
<circle cx="896.8" cy="417.5" r="3.05"/>
<circle cx="895.8" cy="400" r="3.05"/>
<circle cx="874" cy="445.5" r="3.05"/>
<circle cx="925.6" cy="442.3" r="3.05"/>
<circle cx="965.4" cy="410.5" r="3.05"/>
<circle cx="879.9" cy="442.6" r="3.05"/>
<circle cx="902.6" cy="436.5" r="3.05"/>
<circle cx="920.4" cy="459.4" r="3.05"/>
<circle cx="918" cy="389.5" r="3.05"/>
<circle cx="907.6" cy="455.1" r="3.05"/>
<circle cx="948" cy="430.8" r="3.05"/>
<circle cx="888.9" cy="385.9" r="3.05"/>
<circle cx="862.5" cy="396.5" r="3.05"/>
<circle cx="921.1" cy="466.3" r="3.05"/>
<circle cx="887.3" cy="454.3" r="3.05"/>
<circle cx="907.6" cy="439.9" r="3.05"/>
<circle cx="971.6" cy="416.8" r="3.05"/>
<circle cx="921.8" cy="415.6" r="3.05"/>
<circle cx="939.4" cy="430.2" r="3.05"/>
<circle cx="925.1" cy="394.9" r="3.05"/>
<circle cx="932.7" cy="456.8" r="3.05"/>
<circle cx="879" cy="430.5" r="3.05"/>
<circle cx="969.1" cy="409" r="3.05"/>
<circle cx="904.1" cy="420.5" r="3.05"/>
<circle cx="895" cy="390.7" r="3.05"/>
<circle cx="927.9" cy="427.1" r="3.05"/>
<circle cx="925.3" cy="418.3" r="3.05"/>
<circle cx="944.3" cy="428.6" r="3.05"/>
<circle cx="931.1" cy="396.8" r="3.05"/>
<circle cx="926.1" cy="374.7" r="3.05"/>
<circle cx="929.3" cy="473.6" r="3.05"/>
<circle cx="968.9" cy="396.5" r="3.05"/>
<circle cx="921.7" cy="382.7" r="3.05"/>
<circle cx="907.9" cy="421.8" r="3.05"/>
<circle cx="931.4" cy="418.7" r="3.05"/>
<circle cx="930.8" cy="393.9" r="3.05"/>
<circle cx="901.4" cy="331.4" r="3.05"/>
<circle cx="881.4" cy="421.9" r="3.05"/>
<circle cx="936.2" cy="392.5" r="3.05"/>
<circle cx="917.7" cy="455.6" r="3.05"/>
<circle cx="942.4" cy="397.6" r="3.05"/>
<circle cx="954.1" cy="442.7" r="3.05"/>
<circle cx="901.5" cy="366.7" r="3.05"/>
<circle cx="844.9" cy="453.7" r="3.05"/>
<circle cx="992.1" cy="422.1" r="3.05"/>
<circle cx="933.2" cy="437.4" r="3.05"/>
<circle cx="801.5" cy="401.7" r="3.05"/>
<circle cx="885.6" cy="385.3" r="3.05"/>
<circle cx="936.9" cy="424.4" r="3.05"/>
<circle cx="889.5" cy="393.5" r="3.05"/>
<circle cx="914.3" cy="402.1" r="3.05"/>
<circle cx="931.4" cy="411" r="3.05"/>
<circle cx="907.5" cy="409" r="3.05"/>
<circle cx="943.2" cy="445.3" r="3.05"/>
<circle cx="985" cy="414.1" r="3.05"/>
<circle cx="929.4" cy="361" r="3.05"/>
<circle cx="913.7" cy="428.7" r="3.05"/>
<circle cx="1003.3" cy="403.5" r="3.05"/>
<circle cx="931" cy="395" r="3.05"/>
<circle cx="854.2" cy="497.5" r="3.05"/>
<circle cx="933.3" cy="425.2" r="3.05"/>
<circle cx="939" cy="423.6" r="3.05"/>
<circle cx="935" cy="429.6" r="3.05"/>
<circle cx="961.5" cy="466.6" r="3.05"/>
<circle cx="961" cy="409.4" r="3.05"/>
<circle cx="927.2" cy="423.8" r="3.05"/>
<circle cx="943.9" cy="434" r="3.05"/>
<circle cx="957.9" cy="373.9" r="3.05"/>
<circle cx="926.8" cy="363.1" r="3.05"/>
<circle cx="900.8" cy="442.9" r="3.05"/>
<circle cx="898.4" cy="408.9" r="3.05"/>
<circle cx="898" cy="409.4" r="3.05"/>
<circle cx="811.1" cy="406.2" r="3.05"/>
<circle cx="915.8" cy="423.6" r="3.05"/>
<circle cx="957.6" cy="400.6" r="3.05"/>
<circle cx="910" cy="383.8" r="3.05"/>
<circle cx="973.6" cy="393.4" r="3.05"/>
<circle cx="898" cy="399.4" r="3.05"/>
<circle cx="884.8" cy="391.8" r="3.05"/>
<circle cx="940.1" cy="406.6" r="3.05"/>
<circle cx="946.5" cy="381.9" r="3.05"/>
<circle cx="907.1" cy="448.5" r="3.05"/>
<circle cx="905.4" cy="358.6" r="3.05"/>
<circle cx="914.1" cy="404.7" r="3.05"/>
<circle cx="909.2" cy="379.7" r="3.05"/>
<circle cx="997.7" cy="414.8" r="3.05"/>
<circle cx="938.4" cy="424.7" r="3.05"/>
<circle cx="874.2" cy="376.5" r="3.05"/>
<circle cx="937.4" cy="351" r="3.05"/>
<circle cx="947.4" cy="435.3" r="3.05"/>
<circle cx="915.4" cy="445.2" r="3.05"/>
<circle cx="954.3" cy="402.6" r="3.05"/>
<circle cx="908.7" cy="439.1" r="3.05"/>
<circle cx="905.5" cy="407.3" r="3.05"/>
<circle cx="921.4" cy="422" r="3.05"/>
<circle cx="917.2" cy="438.6" r="3.05"/>
<circle cx="890.6" cy="437.9" r="3.05"/>
<circle cx="866.7" cy="435.2" r="3.05"/>
<circle cx="962.8" cy="392.5" r="3.05"/>
<circle cx="866.1" cy="404.9" r="3.05"/>
<circle cx="928.8" cy="391.7" r="3.05"/>
<circle cx="985.2" cy="428.2" r="3.05"/>
<circle cx="953" cy="393.9" r="3.05"/>
<circle cx="986.3" cy="413" r="3.05"/>
<circle cx="856.8" cy="418.3" r="3.05"/>
<circle cx="897.2" cy="421" r="3.05"/>
<circle cx="916.8" cy="410.9" r="3.05"/>
<circle cx="898" cy="423.8" r="3.05"/>
<circle cx="938.7" cy="431.4" r="3.05"/>
<circle cx="927.6" cy="389.5" r="3.05"/>
<circle cx="942.9" cy="377.8" r="3.05"/>
<circle cx="993.8" cy="408.6" r="3.05"/>
<circle cx="944.8" cy="464.7" r="3.05"/>
<circle cx="926.6" cy="442.7" r="3.05"/>
<circle cx="929.4" cy="440.8" r="3.05"/>
<circle cx="930.6" cy="397.7" r="3.05"/>
<circle cx="932.4" cy="369.4" r="3.05"/>
<circle cx="905.3" cy="410.5" r="3.05"/>
<circle cx="879.9" cy="448.5" r="3.05"/>
<circle cx="911" cy="410.4" r="3.05"/>
<circle cx="917.9" cy="397.2" r="3.05"/>
<circle cx="961.4" cy="407.7" r="3.05"/>
<circle cx="882.8" cy="455.7" r="3.05"/>
<circle cx="948.5" cy="384.3" r="3.05"/>
<circle cx="887.5" cy="386.6" r="3.05"/>
<circle cx="940.5" cy="413.5" r="3.05"/>
<circle cx="893.6" cy="409.7" r="3.05"/>
<circle cx="961.7" cy="382.8" r="3.05"/>
<circle cx="929.2" cy="397.1" r="3.05"/>
<circle cx="936.6" cy="410.7" r="3.05"/>
<circle cx="980.9" cy="372.8" r="3.05"/>
<circle cx="892.9" cy="432" r="3.05"/>
<circle cx="908.2" cy="456.3" r="3.05"/>
<circle cx="939.5" cy="358.9" r="3.05"/>
<circle cx="966.1" cy="385.5" r="3.05"/>
<circle cx="969.5" cy="398.8" r="3.05"/>
<circle cx="903.5" cy="438.1" r="3.05"/>
<circle cx="940.3" cy="430.9" r="3.05"/>
<circle cx="930.4" cy="330.4" r="3.05"/>
<circle cx="927.7" cy="419.7" r="3.05"/>
<circle cx="889.5" cy="393.1" r="3.05"/>
<circle cx="980.6" cy="394.8" r="3.05"/>
<circle cx="936" cy="417.6" r="3.05"/>
<circle cx="948.6" cy="346.5" r="3.05"/>
<circle cx="895.8" cy="437.8" r="3.05"/>
<circle cx="1001.6" cy="411" r="3.05"/>
<circle cx="926.5" cy="387.9" r="3.05"/>
<circle cx="964.2" cy="436.9" r="3.05"/>
<circle cx="915.7" cy="431.5" r="3.05"/>
<circle cx="886" cy="396.6" r="3.05"/>
<circle cx="936.7" cy="413.1" r="3.05"/>
<circle cx="972.7" cy="424.6" r="3.05"/>
<circle cx="920.6" cy="415.4" r="3.05"/>
<circle cx="901.4" cy="425.9" r="3.05"/>
<circle cx="899" cy="438.1" r="3.05"/>
<circle cx="934.8" cy="413.5" r="3.05"/>
<circle cx="905.9" cy="409" r="3.05"/>
<circle cx="909.7" cy="441.7" r="3.05"/>
<circle cx="941.9" cy="361.6" r="3.05"/>
<circle cx="967.8" cy="426.1" r="3.05"/>
<circle cx="936.7" cy="378.7" r="3.05"/>
<circle cx="946.1" cy="401.9" r="3.05"/>
<circle cx="935.2" cy="401.3" r="3.05"/>
<circle cx="937.4" cy="430.8" r="3.05"/>
<circle cx="843.9" cy="377.4" r="3.05"/>
<circle cx="926.6" cy="449.6" r="3.05"/>
<circle cx="924.5" cy="397.8" r="3.05"/>
<circle cx="892.4" cy="432.9" r="3.05"/>
<circle cx="988.7" cy="406.5" r="3.05"/>
<circle cx="955.5" cy="444" r="3.05"/>
<circle cx="893.5" cy="420.7" r="3.05"/>
<circle cx="934" cy="378.9" r="3.05"/>
<circle cx="958" cy="419.2" r="3.05"/>
<circle cx="892.9" cy="419.1" r="3.05"/>
<circle cx="918" cy="403.2" r="3.05"/>
<circle cx="912.6" cy="404.8" r="3.05"/>
<circle cx="874.8" cy="403.9" r="3.05"/>
<circle cx="890.5" cy="412.9" r="3.05"/>
<circle cx="890.3" cy="399.8" r="3.05"/>
<circle cx="921.5" cy="398.5" r="3.05"/>
<circle cx="905" cy="460.4" r="3.05"/>
<circle cx="933.3" cy="388.7" r="3.05"/>
<circle cx="945.5" cy="426.6" r="3.05"/>
<circle cx="945.2" cy="408.3" r="3.05"/>
<circle cx="906.4" cy="418.5" r="3.05"/>
<circle cx="923.5" cy="422.6" r="3.05"/>
<circle cx="820.8" cy="358.3" r="3.05"/>
<circle cx="922.7" cy="468.6" r="3.05"/>
<circle cx="972.8" cy="420.4" r="3.05"/>
<circle cx="968.5" cy="427" r="3.05"/>
<circle cx="963.5" cy="380.1" r="3.05"/>
<circle cx="930.2" cy="403" r="3.05"/>
<circle cx="881.8" cy="468.2" r="3.05"/>
<circle cx="898.7" cy="426.3" r="3.05"/>
<circle cx="928.1" cy="400.4" r="3.05"/>
<circle cx="918.1" cy="424.1" r="3.05"/>
<circle cx="966.5" cy="398.4" r="3.05"/>
<circle cx="976.5" cy="449" r="3.05"/>
<circle cx="972.6" cy="395.7" r="3.05"/>
<circle cx="953.5" cy="395.3" r="3.05"/>
<circle cx="950.6" cy="392.9" r="3.05"/>
<circle cx="921.5" cy="421.3" r="3.05"/>
<circle cx="988.9" cy="412.5" r="3.05"/>
<circle cx="956.2" cy="447.6" r="3.05"/>
<circle cx="935.1" cy="425.3" r="3.05"/>
<circle cx="929.2" cy="347.9" r="3.05"/>
<circle cx="890" cy="422.8" r="3.05"/>
<circle cx="928.8" cy="411.6" r="3.05"/>
<circle cx="913.3" cy="425.6" r="3.05"/>
<circle cx="924.3" cy="377.5" r="3.05"/>
<circle cx="926.2" cy="394.1" r="3.05"/>
<circle cx="954.8" cy="399.4" r="3.05"/>
<circle cx="951.6" cy="415.5" r="3.05"/>
<circle cx="895.5" cy="359.7" r="3.05"/>
<circle cx="917.7" cy="470.8" r="3.05"/>
<circle cx="868" cy="400.3" r="3.05"/>
<circle cx="873.1" cy="394.8" r="3.05"/>
<circle cx="957.8" cy="403" r="3.05"/>
<circle cx="857.2" cy="447.7" r="3.05"/>
<circle cx="945.7" cy="473.5" r="3.05"/>
<circle cx="927.7" cy="418.2" r="3.05"/>
<circle cx="927.4" cy="393.2" r="3.05"/>
<circle cx="830.5" cy="370.3" r="3.05"/>
<circle cx="967.8" cy="437.1" r="3.05"/>
<circle cx="937.1" cy="417.1" r="3.05"/>
<circle cx="964.3" cy="446.4" r="3.05"/>
<circle cx="934.9" cy="414.1" r="3.05"/>
<circle cx="925.4" cy="382.1" r="3.05"/>
<circle cx="890.6" cy="414.2" r="3.05"/>
<circle cx="890.5" cy="386.6" r="3.05"/>
<circle cx="928.8" cy="461.5" r="3.05"/>
<circle cx="939.4" cy="446.9" r="3.05"/>
<circle cx="940" cy="424.4" r="3.05"/>
<circle cx="927.3" cy="396" r="3.05"/>
<circle cx="930.6" cy="459.4" r="3.05"/>
<circle cx="874.4" cy="461.6" r="3.05"/>
<circle cx="955.4" cy="429.9" r="3.05"/>
<circle cx="945.8" cy="406.9" r="3.05"/>
<circle cx="882.7" cy="452.5" r="3.05"/>
<circle cx="931.5" cy="482.4" r="3.05"/>
<circle cx="920.8" cy="457.9" r="3.05"/>
<circle cx="871.4" cy="400.1" r="3.05"/>
<circle cx="930.6" cy="363.5" r="3.05"/>
<circle cx="923.1" cy="373.2" r="3.05"/>
<circle cx="976.5" cy="412.5" r="3.05"/>
<circle cx="966.5" cy="401.9" r="3.05"/>
<circle cx="903.1" cy="393.5" r="3.05"/>
<circle cx="941.2" cy="392.6" r="3.05"/>
<circle cx="881.4" cy="400.3" r="3.05"/>
<circle cx="898.4" cy="375.3" r="3.05"/>
<circle cx="933.6" cy="391.4" r="3.05"/>
<circle cx="877" cy="373.4" r="3.05"/>
<circle cx="963.5" cy="400" r="3.05"/>
<circle cx="890.8" cy="478.4" r="3.05"/>
<circle cx="898.9" cy="423.4" r="3.05"/>
<circle cx="929.5" cy="381.4" r="3.05"/>
<circle cx="926.8" cy="443.5" r="3.05"/>
<circle cx="939.4" cy="432.2" r="3.05"/>
<circle cx="858.3" cy="393" r="3.05"/>
<circle cx="945.7" cy="370.4" r="3.05"/>
<circle cx="957.2" cy="403.2" r="3.05"/>
<circle cx="923" cy="417.8" r="3.05"/>
<circle cx="905.3" cy="441.6" r="3.05"/>
<circle cx="871.5" cy="451.4" r="3.05"/>
<circle cx="945.2" cy="449.2" r="3.05"/>
<circle cx="976.5" cy="375.3" r="3.05"/>
<circle cx="978.8" cy="411.4" r="3.05"/>
<circle cx="964.3" cy="403.5" r="3.05"/>
<circle cx="919" cy="453.4" r="3.05"/>
<circle cx="918.4" cy="437.7" r="3.05"/>
<circle cx="883.4" cy="447.7" r="3.05"/>
<circle cx="902.4" cy="454.8" r="3.05"/>
<circle cx="884.5" cy="450" r="3.05"/>
<circle cx="909" cy="401.6" r="3.05"/>
<circle cx="948.4" cy="420.5" r="3.05"/>
<circle cx="885.4" cy="408.2" r="3.05"/>
<circle cx="860.5" cy="420" r="3.05"/>
<circle cx="902.4" cy="408.9" r="3.05"/>
<circle cx="920.6" cy="451.3" r="3.05"/>
<circle cx="911.2" cy="425.6" r="3.05"/>
<circle cx="944" cy="382" r="3.05"/>
<circle cx="954.9" cy="405.7" r="3.05"/>
<circle cx="952.4" cy="387.4" r="3.05"/>
<circle cx="855.4" cy="421" r="3.05"/>
<circle cx="905" cy="464.7" r="3.05"/>
<circle cx="955.3" cy="395.9" r="3.05"/>
<circle cx="921.8" cy="371.5" r="3.05"/>
<circle cx="927.3" cy="414.9" r="3.05"/>
<circle cx="824" cy="429.2" r="3.05"/>
<circle cx="928.2" cy="383.8" r="3.05"/>
<circle cx="973.8" cy="390.9" r="3.05"/>
<circle cx="965.4" cy="391.3" r="3.05"/>
<circle cx="923.1" cy="398.1" r="3.05"/>
<circle cx="923.6" cy="395.7" r="3.05"/>
<circle cx="943.9" cy="391.5" r="3.05"/>
<circle cx="928.7" cy="424" r="3.05"/>
<circle cx="858.4" cy="428.9" r="3.05"/>
<circle cx="929.8" cy="394.2" r="3.05"/>
<circle cx="892.3" cy="432.8" r="3.05"/>
<circle cx="936.6" cy="401.3" r="3.05"/>
<circle cx="922.4" cy="404.5" r="3.05"/>
<circle cx="962.1" cy="395.7" r="3.05"/>
<circle cx="866.4" cy="395.5" r="3.05"/>
<circle cx="979.2" cy="454.4" r="3.05"/>
<circle cx="929.5" cy="420.3" r="3.05"/>
<circle cx="939.2" cy="418.5" r="3.05"/>
<circle cx="942.1" cy="368.7" r="3.05"/>
<circle cx="964.3" cy="364.5" r="3.05"/>
<circle cx="915.4" cy="392.9" r="3.05"/>
<circle cx="875.2" cy="408.5" r="3.05"/>
<circle cx="944.2" cy="404.3" r="3.05"/>
<circle cx="887.7" cy="404.9" r="3.05"/>
<circle cx="941.5" cy="410.4" r="3.05"/>
<circle cx="965.3" cy="417.9" r="3.05"/>
<circle cx="895.5" cy="360.4" r="3.05"/>
<circle cx="934.5" cy="404.1" r="3.05"/>
<circle cx="952.8" cy="409.4" r="3.05"/>
<circle cx="930.5" cy="391.8" r="3.05"/>
<circle cx="924.4" cy="371" r="3.05"/>
<circle cx="934.9" cy="435.1" r="3.05"/>
<circle cx="947.1" cy="416.1" r="3.05"/>
<circle cx="887.7" cy="445.6" r="3.05"/>
<circle cx="885.4" cy="399.6" r="3.05"/>
<circle cx="901.3" cy="385.1" r="3.05"/>
<circle cx="911.3" cy="381" r="3.05"/>
<circle cx="867.4" cy="416.8" r="3.05"/>
<circle cx="888.7" cy="454.3" r="3.05"/>
<circle cx="948.4" cy="410.4" r="3.05"/>
<circle cx="925.1" cy="408.7" r="3.05"/>
<circle cx="952.7" cy="378.4" r="3.05"/>
<circle cx="954.3" cy="436" r="3.05"/>
<circle cx="937.3" cy="400.3" r="3.05"/>
<circle cx="950.6" cy="352.4" r="3.05"/>
<circle cx="958.8" cy="430.5" r="3.05"/>
<circle cx="926.9" cy="407.5" r="3.05"/>
<circle cx="907.8" cy="389" r="3.05"/>
<circle cx="937.6" cy="375.7" r="3.05"/>
<circle cx="938.1" cy="412.1" r="3.05"/>
<circle cx="944.5" cy="378.8" r="3.05"/>
<circle cx="949.5" cy="412.8" r="3.05"/>
<circle cx="956.8" cy="368.1" r="3.05"/>
<circle cx="915.5" cy="370.5" r="3.05"/>
<circle cx="936.8" cy="397.4" r="3.05"/>
<circle cx="873.3" cy="417.2" r="3.05"/>
<circle cx="984.8" cy="472.9" r="3.05"/>
<circle cx="921" cy="440.2" r="3.05"/>
<circle cx="890.8" cy="392.7" r="3.05"/>
<circle cx="914.6" cy="400.1" r="3.05"/>
<circle cx="983.5" cy="414.4" r="3.05"/>
<circle cx="916" cy="435" r="3.05"/>
<circle cx="897.7" cy="402.5" r="3.05"/>
<circle cx="929.2" cy="420.2" r="3.05"/>
<circle cx="962.6" cy="413.7" r="3.05"/>
<circle cx="993.7" cy="417.2" r="3.05"/>
<circle cx="907.8" cy="417.7" r="3.05"/>
<circle cx="875.3" cy="427.7" r="3.05"/>
<circle cx="919.1" cy="403.8" r="3.05"/>
<circle cx="918.8" cy="367.5" r="3.05"/>
<circle cx="900" cy="398.6" r="3.05"/>
<circle cx="902.2" cy="453.1" r="3.05"/>
<circle cx="959.3" cy="392.4" r="3.05"/>
<circle cx="893" cy="414.7" r="3.05"/>
<circle cx="936.8" cy="370.9" r="3.05"/>
<circle cx="820.8" cy="503" r="3.05"/>
<circle cx="943.1" cy="384" r="3.05"/>
<circle cx="918" cy="386.5" r="3.05"/>
<circle cx="972.3" cy="403" r="3.05"/>
<circle cx="941.3" cy="440.3" r="3.05"/>
<circle cx="953.5" cy="356.2" r="3.05"/>
<circle cx="900.9" cy="414.7" r="3.05"/>
<circle cx="916.7" cy="398.5" r="3.05"/>
<circle cx="900.4" cy="439.3" r="3.05"/>
<circle cx="908.2" cy="429.4" r="3.05"/>
<circle cx="948" cy="383.7" r="3.05"/>
<circle cx="930.3" cy="392.6" r="3.05"/>
<circle cx="896.8" cy="430.2" r="3.05"/>
<circle cx="928.9" cy="372.9" r="3.05"/>
<circle cx="967.9" cy="396.5" r="3.05"/>
<circle cx="948.2" cy="435.1" r="3.05"/>
<circle cx="965.6" cy="442.6" r="3.05"/>
<circle cx="911.9" cy="407" r="3.05"/>
<circle cx="907.8" cy="431.9" r="3.05"/>
<circle cx="919.9" cy="425.9" r="3.05"/>
<circle cx="902.7" cy="369.2" r="3.05"/>
<circle cx="903.9" cy="399.7" r="3.05"/>
<circle cx="938.9" cy="391.7" r="3.05"/>
<circle cx="927.2" cy="329.9" r="3.05"/>
<circle cx="893.5" cy="379" r="3.05"/>
<circle cx="902" cy="386.5" r="3.05"/>
<circle cx="922.6" cy="381.7" r="3.05"/>
<circle cx="924.5" cy="371.3" r="3.05"/>
<circle cx="945.5" cy="405.4" r="3.05"/>
<circle cx="932.8" cy="411.8" r="3.05"/>
<circle cx="933.3" cy="422.3" r="3.05"/>
<circle cx="936" cy="446" r="3.05"/>
<circle cx="913" cy="423.4" r="3.05"/>
<circle cx="892.8" cy="413.1" r="3.05"/>
<circle cx="925.2" cy="398.5" r="3.05"/>
<circle cx="889.3" cy="419" r="3.05"/>
<circle cx="931.8" cy="380.6" r="3.05"/>
<circle cx="951.9" cy="432" r="3.05"/>
<circle cx="888.8" cy="407.7" r="3.05"/>
<circle cx="959.2" cy="408.8" r="3.05"/>
<circle cx="895.2" cy="420.1" r="3.05"/>
<circle cx="952.4" cy="419" r="3.05"/>
<circle cx="972.8" cy="401.2" r="3.05"/>
<circle cx="949" cy="418" r="3.05"/>
<circle cx="944.4" cy="451.7" r="3.05"/>
<circle cx="908.5" cy="417.7" r="3.05"/>
<circle cx="881.6" cy="430.7" r="3.05"/>
<circle cx="907.1" cy="401.1" r="3.05"/>
<circle cx="950.7" cy="426.3" r="3.05"/>
<circle cx="884.5" cy="434.1" r="3.05"/>
<circle cx="875.5" cy="446" r="3.05"/>
<circle cx="878.4" cy="418.5" r="3.05"/>
<circle cx="918.9" cy="398.3" r="3.05"/>
<circle cx="919.8" cy="409.3" r="3.05"/>
<circle cx="925.1" cy="408" r="3.05"/>
<circle cx="894.6" cy="364.9" r="3.05"/>
<circle cx="892.8" cy="394" r="3.05"/>
<circle cx="981.6" cy="416" r="3.05"/>
<circle cx="873.9" cy="406.9" r="3.05"/>
<circle cx="927.3" cy="376.8" r="3.05"/>
<circle cx="921.4" cy="385.5" r="3.05"/>
<circle cx="952" cy="374.9" r="3.05"/>
<circle cx="906.4" cy="396.7" r="3.05"/>
<circle cx="963.2" cy="367.1" r="3.05"/>
<circle cx="925" cy="399.6" r="3.05"/>
<circle cx="909.8" cy="403.4" r="3.05"/>
<circle cx="946.6" cy="426.1" r="3.05"/>
<circle cx="896.1" cy="393.2" r="3.05"/>
<circle cx="920.6" cy="354.6" r="3.05"/>
<circle cx="900.3" cy="389.1" r="3.05"/>
<circle cx="907.5" cy="446.3" r="3.05"/>
<circle cx="875.7" cy="441" r="3.05"/>
<circle cx="892.2" cy="463.1" r="3.05"/>
<circle cx="947" cy="425.2" r="3.05"/>
<circle cx="881.5" cy="417.2" r="3.05"/>
<circle cx="906" cy="374.4" r="3.05"/>
<circle cx="967.1" cy="438.3" r="3.05"/>
<circle cx="947.7" cy="392.6" r="3.05"/>
<circle cx="964.1" cy="473.3" r="3.05"/>
<circle cx="939.1" cy="423.2" r="3.05"/>
<circle cx="969.4" cy="426.8" r="3.05"/>
<circle cx="910.9" cy="455" r="3.05"/>
<circle cx="963.5" cy="389.7" r="3.05"/>
<circle cx="971" cy="439.4" r="3.05"/>
<circle cx="959.9" cy="455.9" r="3.05"/>
<circle cx="895.8" cy="330" r="3.05"/>
<circle cx="924.8" cy="421.3" r="3.05"/>
<circle cx="921.5" cy="389.8" r="3.05"/>
<circle cx="897.8" cy="432.7" r="3.05"/>
<circle cx="860" cy="437" r="3.05"/>
<circle cx="921.3" cy="415.7" r="3.05"/>
<circle cx="917.6" cy="391.6" r="3.05"/>
<circle cx="958.5" cy="414.5" r="3.05"/>
<circle cx="904.3" cy="403" r="3.05"/>
<circle cx="898.6" cy="488.9" r="3.05"/>
<circle cx="931.8" cy="422.3" r="3.05"/>
<circle cx="881.6" cy="410.3" r="3.05"/>
<circle cx="898.3" cy="424.6" r="3.05"/>
<circle cx="919.1" cy="423.1" r="3.05"/>
<circle cx="967.8" cy="393.3" r="3.05"/>
<circle cx="945.1" cy="406.8" r="3.05"/>
<circle cx="886.1" cy="374.6" r="3.05"/>
<circle cx="937.9" cy="439.8" r="3.05"/>
<circle cx="943.6" cy="410.3" r="3.05"/>
<circle cx="883.3" cy="369.4" r="3.05"/>
<circle cx="903.7" cy="427.1" r="3.05"/>
<circle cx="921.3" cy="442.1" r="3.05"/>
<circle cx="927.5" cy="437.1" r="3.05"/>
<circle cx="950.6" cy="428.7" r="3.05"/>
<circle cx="939.7" cy="407.3" r="3.05"/>
<circle cx="968.2" cy="372.5" r="3.05"/>
<circle cx="929.3" cy="432.3" r="3.05"/>
<circle cx="890.7" cy="428.1" r="3.05"/>
<circle cx="893.9" cy="440.4" r="3.05"/>
<circle cx="944" cy="446.5" r="3.05"/>
<circle cx="932.4" cy="426.5" r="3.05"/>
<circle cx="926.8" cy="414.7" r="3.05"/>
<circle cx="989.6" cy="455.6" r="3.05"/>
<circle cx="956.2" cy="386.3" r="3.05"/>
<circle cx="918.7" cy="368.7" r="3.05"/>
<circle cx="962.8" cy="399.2" r="3.05"/>
<circle cx="936.8" cy="456.8" r="3.05"/>
<circle cx="870.8" cy="424.3" r="3.05"/>
<circle cx="920.2" cy="432.3" r="3.05"/>
<circle cx="868.3" cy="384.2" r="3.05"/>
<circle cx="884.1" cy="456.4" r="3.05"/>
<circle cx="928.3" cy="407.6" r="3.05"/>
<circle cx="919.6" cy="425.7" r="3.05"/>
<circle cx="859" cy="447.5" r="3.05"/>
<circle cx="890.3" cy="376.6" r="3.05"/>
<circle cx="958.1" cy="428.4" r="3.05"/>
<circle cx="890.1" cy="390.9" r="3.05"/>
<circle cx="887.2" cy="429.6" r="3.05"/>
<circle cx="949.6" cy="387.8" r="3.05"/>
<circle cx="906.3" cy="413.1" r="3.05"/>
<circle cx="889.9" cy="401.9" r="3.05"/>
<circle cx="918.1" cy="381.4" r="3.05"/>
<circle cx="922.1" cy="424.3" r="3.05"/>
<circle cx="893.5" cy="411.6" r="3.05"/>
<circle cx="894.3" cy="394.5" r="3.05"/>
<circle cx="981.6" cy="447" r="3.05"/>
<circle cx="947.1" cy="398.8" r="3.05"/>
<circle cx="909.9" cy="411.3" r="3.05"/>
<circle cx="968.4" cy="393.4" r="3.05"/>
<circle cx="919.5" cy="413.3" r="3.05"/>
<circle cx="913" cy="422.1" r="3.05"/>
<circle cx="960" cy="432.5" r="3.05"/>
<circle cx="946.3" cy="453.6" r="3.05"/>
<circle cx="906.3" cy="383.2" r="3.05"/>
<circle cx="923.2" cy="390.8" r="3.05"/>
<circle cx="946" cy="455.7" r="3.05"/>
<circle cx="859.9" cy="422.7" r="3.05"/>
<circle cx="916.4" cy="432.2" r="3.05"/>
<circle cx="912.3" cy="404.5" r="3.05"/>
<circle cx="855.7" cy="425" r="3.05"/>
<circle cx="917.8" cy="392.3" r="3.05"/>
<circle cx="908" cy="380.8" r="3.05"/>
<circle cx="908.7" cy="404.8" r="3.05"/>
<circle cx="932.1" cy="396.3" r="3.05"/>
<circle cx="889" cy="396.6" r="3.05"/>
<circle cx="820.8" cy="475.1" r="3.05"/>
<circle cx="972.5" cy="408.5" r="3.05"/>
<circle cx="891.4" cy="432.6" r="3.05"/>
<circle cx="903.7" cy="399.2" r="3.05"/>
<circle cx="844.2" cy="437.1" r="3.05"/>
<circle cx="967" cy="402.1" r="3.05"/>
<circle cx="893" cy="396.2" r="3.05"/>
<circle cx="945.4" cy="431.1" r="3.05"/>
<circle cx="927.3" cy="411.7" r="3.05"/>
<circle cx="954.1" cy="436.7" r="3.05"/>
<circle cx="904.6" cy="439.9" r="3.05"/>
<circle cx="949.3" cy="396.2" r="3.05"/>
<circle cx="928.1" cy="378.1" r="3.05"/>
<circle cx="928.1" cy="440.2" r="3.05"/>
<circle cx="907.9" cy="420.4" r="3.05"/>
<circle cx="1001" cy="426.9" r="3.05"/>
<circle cx="906.2" cy="437.4" r="3.05"/>
<circle cx="975.1" cy="385.2" r="3.05"/>
<circle cx="921.5" cy="424.3" r="3.05"/>
<circle cx="937" cy="390.6" r="3.05"/>
<circle cx="929.3" cy="398.4" r="3.05"/>
<circle cx="807.9" cy="390.3" r="3.05"/>
<circle cx="919" cy="339.2" r="3.05"/>
<circle cx="947.7" cy="401.1" r="3.05"/>
<circle cx="903.4" cy="442.7" r="3.05"/>
<circle cx="960.8" cy="399.8" r="3.05"/>
<circle cx="924.7" cy="406.6" r="3.05"/>
<circle cx="926.8" cy="385.8" r="3.05"/>
<circle cx="916.2" cy="395.2" r="3.05"/>
<circle cx="948.6" cy="417.3" r="3.05"/>
<circle cx="962.3" cy="487.6" r="3.05"/>
<circle cx="940.6" cy="404.6" r="3.05"/>
<circle cx="921" cy="391.7" r="3.05"/>
<circle cx="916.9" cy="408.8" r="3.05"/>
<circle cx="945.3" cy="410.1" r="3.05"/>
<circle cx="943.4" cy="398.6" r="3.05"/>
<circle cx="918.9" cy="396.7" r="3.05"/>
<circle cx="938.8" cy="417.7" r="3.05"/>
<circle cx="921.9" cy="383.7" r="3.05"/>
<circle cx="940.8" cy="411.7" r="3.05"/>
<circle cx="947.9" cy="439" r="3.05"/>
<circle cx="931" cy="389.9" r="3.05"/>
<circle cx="950.8" cy="391.5" r="3.05"/>
<circle cx="872.1" cy="412.2" r="3.05"/>
<circle cx="952.5" cy="346.3" r="3.05"/>
<circle cx="955" cy="442.8" r="3.05"/>
<circle cx="898.3" cy="420.5" r="3.05"/>
<circle cx="902.2" cy="414.8" r="3.05"/>
<circle cx="915.3" cy="468.8" r="3.05"/>
<circle cx="961.2" cy="458.7" r="3.05"/>
<circle cx="875.8" cy="396.2" r="3.05"/>
<circle cx="893.8" cy="400.9" r="3.05"/>
<circle cx="883.3" cy="398.6" r="3.05"/>
<circle cx="956.2" cy="331.4" r="3.05"/>
<circle cx="926.4" cy="382.4" r="3.05"/>
<circle cx="953" cy="379.4" r="3.05"/>
<circle cx="968.1" cy="409" r="3.05"/>
<circle cx="927.1" cy="445.6" r="3.05"/>
<circle cx="928.3" cy="418.3" r="3.05"/>
<circle cx="952.5" cy="391.7" r="3.05"/>
<circle cx="931" cy="424.1" r="3.05"/>
<circle cx="907" cy="424.4" r="3.05"/>
<circle cx="966.7" cy="407.1" r="3.05"/>
<circle cx="935.9" cy="507.5" r="3.05"/>
<circle cx="963.9" cy="442.2" r="3.05"/>
<circle cx="900.4" cy="424.4" r="3.05"/>
<circle cx="951" cy="446.2" r="3.05"/>
<circle cx="918.2" cy="416.6" r="3.05"/>
<circle cx="898" cy="381.1" r="3.05"/>
<circle cx="975.7" cy="404.3" r="3.05"/>
<circle cx="900" cy="420.4" r="3.05"/>
<circle cx="974.2" cy="379.1" r="3.05"/>
<circle cx="955" cy="384.8" r="3.05"/>
<circle cx="923.1" cy="413" r="3.05"/>
<circle cx="985.9" cy="475.6" r="3.05"/>
<circle cx="914" cy="429.8" r="3.05"/>
<circle cx="938.4" cy="431" r="3.05"/>
<circle cx="953" cy="429.5" r="3.05"/>
<circle cx="919.7" cy="425.7" r="3.05"/>
<circle cx="852.5" cy="385.3" r="3.05"/>
<circle cx="877.5" cy="488" r="3.05"/>
<circle cx="932.5" cy="408.4" r="3.05"/>
<circle cx="889.4" cy="408" r="3.05"/>
<circle cx="916" cy="413.9" r="3.05"/>
<circle cx="922.2" cy="381.5" r="3.05"/>
<circle cx="941" cy="396.6" r="3.05"/>
<circle cx="896.8" cy="457.6" r="3.05"/>
<circle cx="927.5" cy="428.3" r="3.05"/>
<circle cx="851.7" cy="383" r="3.05"/>
<circle cx="868.5" cy="397.6" r="3.05"/>
<circle cx="914.2" cy="415.7" r="3.05"/>
<circle cx="917" cy="403.2" r="3.05"/>
<circle cx="923.4" cy="435" r="3.05"/>
<circle cx="927.8" cy="377.4" r="3.05"/>
<circle cx="920.1" cy="415.2" r="3.05"/>
<circle cx="869.5" cy="369.7" r="3.05"/>
<circle cx="929.8" cy="423.7" r="3.05"/>
<circle cx="939.1" cy="438.3" r="3.05"/>
<circle cx="936.9" cy="437" r="3.05"/>
<circle cx="915.9" cy="346.3" r="3.05"/>
<circle cx="900.6" cy="442.3" r="3.05"/>
<circle cx="934.6" cy="460.8" r="3.05"/>
<circle cx="940.4" cy="365.6" r="3.05"/>
<circle cx="945.3" cy="417.6" r="3.05"/>
<circle cx="953.3" cy="379.8" r="3.05"/>
<circle cx="933.7" cy="377.7" r="3.05"/>
<circle cx="948.4" cy="420.8" r="3.05"/>
<circle cx="886.1" cy="430.5" r="3.05"/>
<circle cx="772.4" cy="418.2" r="3.05"/>
<circle cx="874.4" cy="419" r="3.05"/>
<circle cx="909" cy="394" r="3.05"/>
<circle cx="875.6" cy="432.1" r="3.05"/>
<circle cx="889.3" cy="466.8" r="3.05"/>
<circle cx="933" cy="427.2" r="3.05"/>
<circle cx="978.3" cy="431.7" r="3.05"/>
<circle cx="912.3" cy="394.2" r="3.05"/>
<circle cx="932.6" cy="434.7" r="3.05"/>
<circle cx="934.9" cy="410.9" r="3.05"/>
<circle cx="927.8" cy="389.1" r="3.05"/>
<circle cx="904.9" cy="447.5" r="3.05"/>
<circle cx="944.3" cy="363.5" r="3.05"/>
<circle cx="978.5" cy="403.8" r="3.05"/>
<circle cx="883.1" cy="421.1" r="3.05"/>
<circle cx="883.5" cy="426.8" r="3.05"/>
<circle cx="888" cy="417" r="3.05"/>
<circle cx="896.5" cy="391.2" r="3.05"/>
<circle cx="942" cy="421" r="3.05"/>
<circle cx="895.9" cy="422.1" r="3.05"/>
<circle cx="922" cy="465.1" r="3.05"/>
<circle cx="926.4" cy="372.1" r="3.05"/>
<circle cx="903.8" cy="443.1" r="3.05"/>
<circle cx="892.3" cy="451.3" r="3.05"/>
<circle cx="941.8" cy="381.6" r="3.05"/>
<circle cx="921.1" cy="398.2" r="3.05"/>
</g>
<line x1="733.8" y1="318.6" x2="733.8" y2="544.7" stroke="#231f20" stroke-width="2"/>
<line x1="732.8" y1="543.7" x2="1024.6" y2="543.7" stroke="#231f20" stroke-width="2"/>
<line x1="766" y1="543.7" x2="766" y2="549.2" stroke="#231f20" stroke-width="2"/>
<text x="766" y="571.1" text-anchor="middle">2</text>
<line x1="830.5" y1="543.7" x2="830.5" y2="549.2" stroke="#231f20" stroke-width="2"/>
<text x="830.5" y="571.1" text-anchor="middle">4</text>
<line x1="894.9" y1="543.7" x2="894.9" y2="549.2" stroke="#231f20" stroke-width="2"/>
<text x="894.9" y="571.1" text-anchor="middle">6</text>
<line x1="959.4" y1="543.7" x2="959.4" y2="549.2" stroke="#231f20" stroke-width="2"/>
<text x="959.4" y="571.1" text-anchor="middle">8</text>
<line x1="1023.8" y1="543.7" x2="1023.8" y2="549.2" stroke="#231f20" stroke-width="2"/>
<text x="1023.8" y="571.1" text-anchor="middle">10</text>
<line x1="798.2" y1="543.7" x2="798.2" y2="549.2" stroke="#231f20" stroke-width="2"/>
<line x1="862.7" y1="543.7" x2="862.7" y2="549.2" stroke="#231f20" stroke-width="2"/>
<line x1="927.1" y1="543.7" x2="927.1" y2="549.2" stroke="#231f20" stroke-width="2"/>
<line x1="991.6" y1="543.7" x2="991.6" y2="549.2" stroke="#231f20" stroke-width="2"/>
<line x1="727.8" y1="319.4" x2="733.8" y2="319.4" stroke="#231f20" stroke-width="2"/>
<text x="721.2" y="328" text-anchor="end">30</text>
<line x1="727.8" y1="369.3" x2="733.8" y2="369.3" stroke="#231f20" stroke-width="2"/>
<text x="721.2" y="377.9" text-anchor="end">20</text>
<line x1="727.8" y1="419.2" x2="733.8" y2="419.2" stroke="#231f20" stroke-width="2"/>
<text x="721.2" y="427.8" text-anchor="end">10</text>
<line x1="727.8" y1="469.1" x2="733.8" y2="469.1" stroke="#231f20" stroke-width="2"/>
<text x="721.2" y="477.7" text-anchor="end">0</text>
<line x1="727.8" y1="519" x2="733.8" y2="519" stroke="#231f20" stroke-width="2"/>
<text x="721.2" y="527.6" text-anchor="end">−10</text>
<line x1="727.8" y1="344.4" x2="733.8" y2="344.4" stroke="#231f20" stroke-width="2"/>
<line x1="727.8" y1="394.2" x2="733.8" y2="394.2" stroke="#231f20" stroke-width="2"/>
<line x1="727.8" y1="444.2" x2="733.8" y2="444.2" stroke="#231f20" stroke-width="2"/>
<line x1="727.8" y1="494.1" x2="733.8" y2="494.1" stroke="#231f20" stroke-width="2"/>
<text x="752.8" y="350.1">In</text>
<text x="754" y="497.4">SS</text>
<text x="853.2" y="597.2"><tspan font-family="Liberation Serif,serif">δ</tspan> (%)</text>
<g transform="translate(675.3,508.2) rotate(-90)"><text x="0" y="0" font-style="italic" transform="scale(0.918,1)">ΔH</text><text x="34.5" y="8.7" font-size="17.9">mix</text><text x="69.3" y="0">(kJ mol</text><text x="149.3" y="-8.4" font-size="17.9">−</text><text x="156.3" y="-8.4" font-size="17.9">1</text><text x="168.5" y="0">)</text></g>
<rect x="1110.6" y="441.4" width="179.9" height="83.3" fill="#f1f2f4"/>
<line x1="1110.8" y1="441.4" x2="1401.2" y2="441.4" stroke="#6d6e71" stroke-width="2" stroke-dasharray="21 6.6"/>
<line x1="1110.8" y1="524.7" x2="1401.2" y2="524.7" stroke="#6d6e71" stroke-width="2" stroke-dasharray="21 6.6"/>
<line x1="1290.5" y1="544" x2="1290.5" y2="318.9" stroke="#6d6e71" stroke-width="2" stroke-dasharray="21 6.6"/>
<g fill="url(#sph)">
<circle cx="1271.8" cy="455.5" r="3.05"/>
<circle cx="1326.9" cy="371.5" r="3.05"/>
<circle cx="1271.5" cy="394.6" r="3.05"/>
<circle cx="1346.7" cy="360" r="3.05"/>
<circle cx="1267.4" cy="453.4" r="3.05"/>
<circle cx="1332.4" cy="416.5" r="3.05"/>
<circle cx="1301.3" cy="392.2" r="3.05"/>
<circle cx="1341.1" cy="418.2" r="3.05"/>
<circle cx="1294.6" cy="438.7" r="3.05"/>
<circle cx="1286.7" cy="385.5" r="3.05"/>
<circle cx="1326" cy="386.8" r="3.05"/>
<circle cx="1296.7" cy="407.3" r="3.05"/>
<circle cx="1294.8" cy="455.6" r="3.05"/>
<circle cx="1265.4" cy="417.8" r="3.05"/>
<circle cx="1269" cy="435.1" r="3.05"/>
<circle cx="1288.1" cy="394.1" r="3.05"/>
<circle cx="1335.1" cy="404.2" r="3.05"/>
<circle cx="1279.8" cy="390.8" r="3.05"/>
<circle cx="1282.7" cy="383" r="3.05"/>
<circle cx="1229.6" cy="449" r="3.05"/>
<circle cx="1226.2" cy="412.1" r="3.05"/>
<circle cx="1252" cy="433.7" r="3.05"/>
<circle cx="1288.2" cy="417" r="3.05"/>
<circle cx="1292.6" cy="416.8" r="3.05"/>
<circle cx="1291.7" cy="414.5" r="3.05"/>
<circle cx="1231.2" cy="439.3" r="3.05"/>
<circle cx="1224.7" cy="380" r="3.05"/>
<circle cx="1297.2" cy="416.6" r="3.05"/>
<circle cx="1335.1" cy="428" r="3.05"/>
<circle cx="1230.5" cy="427.4" r="3.05"/>
<circle cx="1282.7" cy="414.7" r="3.05"/>
<circle cx="1250.1" cy="416.1" r="3.05"/>
<circle cx="1282.9" cy="387.1" r="3.05"/>
<circle cx="1344.6" cy="408.6" r="3.05"/>
<circle cx="1271.2" cy="403" r="3.05"/>
<circle cx="1321.6" cy="408.5" r="3.05"/>
<circle cx="1329" cy="359.4" r="3.05"/>
<circle cx="1311.9" cy="402.1" r="3.05"/>
<circle cx="1285.1" cy="409" r="3.05"/>
<circle cx="1304.9" cy="403.7" r="3.05"/>
<circle cx="1330.7" cy="415.9" r="3.05"/>
<circle cx="1227.2" cy="414.6" r="3.05"/>
<circle cx="1282.4" cy="410.6" r="3.05"/>
<circle cx="1300.7" cy="477.5" r="3.05"/>
<circle cx="1286.9" cy="437.9" r="3.05"/>
<circle cx="1331.4" cy="491.5" r="3.05"/>
<circle cx="1312.5" cy="419.7" r="3.05"/>
<circle cx="1270.6" cy="411.2" r="3.05"/>
<circle cx="1292.9" cy="439" r="3.05"/>
<circle cx="1297.9" cy="387.6" r="3.05"/>
<circle cx="1292.3" cy="418.1" r="3.05"/>
<circle cx="1330.1" cy="468.2" r="3.05"/>
<circle cx="1369.9" cy="428.3" r="3.05"/>
<circle cx="1262.8" cy="490.4" r="3.05"/>
<circle cx="1340.5" cy="438" r="3.05"/>
<circle cx="1258.1" cy="511.6" r="3.05"/>
<circle cx="1197.7" cy="374" r="3.05"/>
<circle cx="1321.2" cy="387.9" r="3.05"/>
<circle cx="1330.5" cy="427.8" r="3.05"/>
<circle cx="1294.9" cy="416.2" r="3.05"/>
<circle cx="1278" cy="397.6" r="3.05"/>
<circle cx="1217.8" cy="488" r="3.05"/>
<circle cx="1356.9" cy="373.7" r="3.05"/>
<circle cx="1334.3" cy="338.1" r="3.05"/>
<circle cx="1247.9" cy="467.2" r="3.05"/>
<circle cx="1354.7" cy="460.8" r="3.05"/>
<circle cx="1261.3" cy="392.5" r="3.05"/>
<circle cx="1335.6" cy="421.3" r="3.05"/>
<circle cx="1295.8" cy="400.1" r="3.05"/>
<circle cx="1282.9" cy="421.2" r="3.05"/>
<circle cx="1223.8" cy="468.2" r="3.05"/>
<circle cx="1298.7" cy="389.3" r="3.05"/>
<circle cx="1307.7" cy="352.4" r="3.05"/>
<circle cx="1267.9" cy="431.1" r="3.05"/>
<circle cx="1293.4" cy="372.4" r="3.05"/>
<circle cx="1276.9" cy="374.5" r="3.05"/>
<circle cx="1314.5" cy="394.6" r="3.05"/>
<circle cx="1272.2" cy="382.6" r="3.05"/>
<circle cx="1367" cy="406.2" r="3.05"/>
<circle cx="1279.8" cy="474.6" r="3.05"/>
<circle cx="1247.5" cy="463.5" r="3.05"/>
<circle cx="1317.9" cy="426.6" r="3.05"/>
<circle cx="1288.5" cy="400.1" r="3.05"/>
<circle cx="1277.3" cy="444.1" r="3.05"/>
<circle cx="1269.1" cy="451.7" r="3.05"/>
<circle cx="1308.2" cy="402" r="3.05"/>
<circle cx="1335.9" cy="396.5" r="3.05"/>
<circle cx="1267.4" cy="446.5" r="3.05"/>
<circle cx="1283.8" cy="428.7" r="3.05"/>
<circle cx="1321.2" cy="448.8" r="3.05"/>
<circle cx="1279.6" cy="433.2" r="3.05"/>
<circle cx="1313.9" cy="414.7" r="3.05"/>
<circle cx="1299.9" cy="404.9" r="3.05"/>
<circle cx="1324.3" cy="472" r="3.05"/>
<circle cx="1316.9" cy="383.7" r="3.05"/>
<circle cx="1294.4" cy="352" r="3.05"/>
<circle cx="1239.8" cy="431.9" r="3.05"/>
<circle cx="1276.9" cy="437.7" r="3.05"/>
<circle cx="1308" cy="444.2" r="3.05"/>
<circle cx="1292.7" cy="419.5" r="3.05"/>
<circle cx="1329.5" cy="385.4" r="3.05"/>
<circle cx="1263.4" cy="403" r="3.05"/>
<circle cx="1313.6" cy="398.9" r="3.05"/>
<circle cx="1279.1" cy="428" r="3.05"/>
<circle cx="1289.2" cy="413.5" r="3.05"/>
<circle cx="1318.3" cy="431.2" r="3.05"/>
<circle cx="1271.1" cy="404.8" r="3.05"/>
<circle cx="1337.2" cy="383.7" r="3.05"/>
<circle cx="1273" cy="423.7" r="3.05"/>
<circle cx="1273.8" cy="445.9" r="3.05"/>
<circle cx="1285" cy="379" r="3.05"/>
<circle cx="1332.5" cy="424.4" r="3.05"/>
<circle cx="1330.2" cy="388" r="3.05"/>
<circle cx="1295.6" cy="449.1" r="3.05"/>
<circle cx="1313" cy="419.4" r="3.05"/>
<circle cx="1359" cy="399.2" r="3.05"/>
<circle cx="1254.8" cy="429.3" r="3.05"/>
<circle cx="1277.2" cy="401.5" r="3.05"/>
<circle cx="1309.2" cy="460.7" r="3.05"/>
<circle cx="1271.1" cy="386.7" r="3.05"/>
<circle cx="1256.9" cy="441.8" r="3.05"/>
<circle cx="1254.2" cy="426.6" r="3.05"/>
<circle cx="1296.5" cy="422.1" r="3.05"/>
<circle cx="1315.4" cy="444.2" r="3.05"/>
<circle cx="1269.2" cy="455.1" r="3.05"/>
<circle cx="1331.2" cy="406.9" r="3.05"/>
<circle cx="1263.5" cy="414.3" r="3.05"/>
<circle cx="1263.7" cy="409.6" r="3.05"/>
<circle cx="1310" cy="432" r="3.05"/>
<circle cx="1258.8" cy="375.4" r="3.05"/>
<circle cx="1292.3" cy="472.1" r="3.05"/>
<circle cx="1264.7" cy="438.3" r="3.05"/>
<circle cx="1307.1" cy="436.5" r="3.05"/>
<circle cx="1300.5" cy="390.6" r="3.05"/>
<circle cx="1232.9" cy="409.7" r="3.05"/>
<circle cx="1184.8" cy="402.1" r="3.05"/>
<circle cx="1284.9" cy="471.1" r="3.05"/>
<circle cx="1281.9" cy="410.5" r="3.05"/>
<circle cx="1251.1" cy="443.4" r="3.05"/>
<circle cx="1305.9" cy="444.2" r="3.05"/>
<circle cx="1371.4" cy="420.8" r="3.05"/>
<circle cx="1275.2" cy="421.3" r="3.05"/>
<circle cx="1305.4" cy="425.8" r="3.05"/>
<circle cx="1247" cy="388.3" r="3.05"/>
<circle cx="1245.4" cy="456" r="3.05"/>
<circle cx="1259.3" cy="427.4" r="3.05"/>
<circle cx="1262.6" cy="416.5" r="3.05"/>
<circle cx="1319.7" cy="405.5" r="3.05"/>
<circle cx="1299.1" cy="443.7" r="3.05"/>
<circle cx="1289.1" cy="425.4" r="3.05"/>
<circle cx="1191.2" cy="383.5" r="3.05"/>
<circle cx="1281" cy="422.3" r="3.05"/>
<circle cx="1311" cy="429.1" r="3.05"/>
<circle cx="1301.3" cy="428.1" r="3.05"/>
<circle cx="1342.3" cy="395.7" r="3.05"/>
<circle cx="1293.7" cy="404.4" r="3.05"/>
<circle cx="1267.2" cy="405.6" r="3.05"/>
<circle cx="1260.7" cy="434.6" r="3.05"/>
<circle cx="1306.9" cy="467.9" r="3.05"/>
<circle cx="1333.8" cy="378.7" r="3.05"/>
<circle cx="1288" cy="495.7" r="3.05"/>
<circle cx="1303.5" cy="480.1" r="3.05"/>
<circle cx="1274.9" cy="424.6" r="3.05"/>
<circle cx="1291.4" cy="447.3" r="3.05"/>
<circle cx="1303.5" cy="376" r="3.05"/>
<circle cx="1342.4" cy="449.8" r="3.05"/>
<circle cx="1315.2" cy="416.8" r="3.05"/>
<circle cx="1293.9" cy="356.8" r="3.05"/>
<circle cx="1287.6" cy="419" r="3.05"/>
<circle cx="1347.6" cy="375.2" r="3.05"/>
<circle cx="1305.2" cy="400.3" r="3.05"/>
<circle cx="1280.9" cy="373.3" r="3.05"/>
<circle cx="1253.6" cy="413.2" r="3.05"/>
<circle cx="1255.6" cy="430.8" r="3.05"/>
<circle cx="1290.2" cy="418.3" r="3.05"/>
<circle cx="1266.1" cy="399.6" r="3.05"/>
<circle cx="1292.4" cy="403.1" r="3.05"/>
<circle cx="1322.3" cy="385.2" r="3.05"/>
<circle cx="1251.5" cy="385.5" r="3.05"/>
<circle cx="1305.4" cy="392.3" r="3.05"/>
<circle cx="1191.2" cy="403.2" r="3.05"/>
<circle cx="1319" cy="409.9" r="3.05"/>
<circle cx="1276.9" cy="412.8" r="3.05"/>
<circle cx="1261.6" cy="374.9" r="3.05"/>
<circle cx="1300.1" cy="413.8" r="3.05"/>
<circle cx="1288.4" cy="460.3" r="3.05"/>
<circle cx="1273.9" cy="413.9" r="3.05"/>
<circle cx="1269.8" cy="429.9" r="3.05"/>
<circle cx="1314.1" cy="421.8" r="3.05"/>
<circle cx="1296.5" cy="427.8" r="3.05"/>
<circle cx="1251.1" cy="463.9" r="3.05"/>
<circle cx="1263.7" cy="429.9" r="3.05"/>
<circle cx="1352.1" cy="419" r="3.05"/>
<circle cx="1261.1" cy="446.3" r="3.05"/>
<circle cx="1292.6" cy="422.1" r="3.05"/>
<circle cx="1318.8" cy="387.6" r="3.05"/>
<circle cx="1224.9" cy="497.4" r="3.05"/>
<circle cx="1275.4" cy="460.9" r="3.05"/>
<circle cx="1327.6" cy="430.3" r="3.05"/>
<circle cx="1319.8" cy="417.5" r="3.05"/>
<circle cx="1328.7" cy="393.8" r="3.05"/>
<circle cx="1312.6" cy="448.3" r="3.05"/>
<circle cx="1286.9" cy="451.7" r="3.05"/>
<circle cx="1280.8" cy="438.7" r="3.05"/>
<circle cx="1290.1" cy="456" r="3.05"/>
<circle cx="1298.3" cy="486.5" r="3.05"/>
<circle cx="1298.9" cy="457.5" r="3.05"/>
<circle cx="1294.9" cy="396.4" r="3.05"/>
<circle cx="1323.7" cy="410.3" r="3.05"/>
<circle cx="1312.4" cy="387.9" r="3.05"/>
<circle cx="1323.4" cy="391.3" r="3.05"/>
<circle cx="1279.6" cy="419" r="3.05"/>
<circle cx="1344.2" cy="437.2" r="3.05"/>
<circle cx="1331.1" cy="351.5" r="3.05"/>
<circle cx="1315" cy="408.2" r="3.05"/>
<circle cx="1345.7" cy="382.5" r="3.05"/>
<circle cx="1314.5" cy="428.5" r="3.05"/>
<circle cx="1298.6" cy="452.7" r="3.05"/>
<circle cx="1229.1" cy="487.8" r="3.05"/>
<circle cx="1275.7" cy="423" r="3.05"/>
<circle cx="1300.5" cy="387.3" r="3.05"/>
<circle cx="1282.2" cy="411.8" r="3.05"/>
<circle cx="1270.7" cy="417.4" r="3.05"/>
<circle cx="1280.5" cy="399.6" r="3.05"/>
<circle cx="1292.2" cy="436.2" r="3.05"/>
<circle cx="1351.4" cy="397.8" r="3.05"/>
<circle cx="1295.7" cy="472.1" r="3.05"/>
<circle cx="1347.4" cy="386.6" r="3.05"/>
<circle cx="1254" cy="428.3" r="3.05"/>
<circle cx="1257" cy="439.7" r="3.05"/>
<circle cx="1271.2" cy="435.1" r="3.05"/>
<circle cx="1289.7" cy="393.9" r="3.05"/>
<circle cx="1309.3" cy="365.2" r="3.05"/>
<circle cx="1255.3" cy="400.2" r="3.05"/>
<circle cx="1325.2" cy="399.8" r="3.05"/>
<circle cx="1246.8" cy="405.3" r="3.05"/>
<circle cx="1350.4" cy="368.3" r="3.05"/>
<circle cx="1328.3" cy="443.2" r="3.05"/>
<circle cx="1286.7" cy="413" r="3.05"/>
<circle cx="1292.8" cy="412.2" r="3.05"/>
<circle cx="1257.9" cy="427.7" r="3.05"/>
<circle cx="1363.9" cy="389.7" r="3.05"/>
<circle cx="1331.4" cy="394.6" r="3.05"/>
<circle cx="1309.7" cy="372" r="3.05"/>
<circle cx="1273.1" cy="401" r="3.05"/>
<circle cx="1276.3" cy="419.7" r="3.05"/>
<circle cx="1279.3" cy="411.8" r="3.05"/>
<circle cx="1347.9" cy="422" r="3.05"/>
<circle cx="1340.2" cy="347" r="3.05"/>
<circle cx="1291.8" cy="385.7" r="3.05"/>
<circle cx="1315.5" cy="389.6" r="3.05"/>
<circle cx="1352.9" cy="394" r="3.05"/>
<circle cx="1349.5" cy="343.9" r="3.05"/>
<circle cx="1338.5" cy="456.5" r="3.05"/>
<circle cx="1249.7" cy="421.5" r="3.05"/>
<circle cx="1238.8" cy="389.7" r="3.05"/>
<circle cx="1293.3" cy="384.6" r="3.05"/>
<circle cx="1257" cy="395.1" r="3.05"/>
<circle cx="1327.2" cy="444.1" r="3.05"/>
<circle cx="1277.7" cy="391.9" r="3.05"/>
<circle cx="1299.1" cy="399.9" r="3.05"/>
<circle cx="1307.5" cy="412.4" r="3.05"/>
<circle cx="1247.2" cy="360.8" r="3.05"/>
<circle cx="1273.1" cy="349.5" r="3.05"/>
<circle cx="1348.9" cy="338.7" r="3.05"/>
<circle cx="1283.4" cy="411.2" r="3.05"/>
<circle cx="1293.3" cy="417.2" r="3.05"/>
<circle cx="1270" cy="427.9" r="3.05"/>
<circle cx="1272.9" cy="450.5" r="3.05"/>
<circle cx="1285.3" cy="402" r="3.05"/>
<circle cx="1243.6" cy="416.8" r="3.05"/>
<circle cx="1306.6" cy="416.2" r="3.05"/>
<circle cx="1284.1" cy="395.2" r="3.05"/>
<circle cx="1306.7" cy="408" r="3.05"/>
<circle cx="1286.5" cy="418" r="3.05"/>
<circle cx="1262.6" cy="403.5" r="3.05"/>
<circle cx="1247.5" cy="395.7" r="3.05"/>
<circle cx="1304.9" cy="411.2" r="3.05"/>
<circle cx="1283.6" cy="396.1" r="3.05"/>
<circle cx="1319.1" cy="406.4" r="3.05"/>
<circle cx="1294.6" cy="469.4" r="3.05"/>
<circle cx="1248" cy="460.9" r="3.05"/>
<circle cx="1272.7" cy="434.2" r="3.05"/>
<circle cx="1252.1" cy="417.5" r="3.05"/>
<circle cx="1359.5" cy="438.6" r="3.05"/>
<circle cx="1318.1" cy="384" r="3.05"/>
<circle cx="1325.8" cy="388.9" r="3.05"/>
<circle cx="1268.8" cy="437.5" r="3.05"/>
<circle cx="1219.6" cy="449.9" r="3.05"/>
<circle cx="1247.2" cy="403.7" r="3.05"/>
<circle cx="1298.1" cy="401.4" r="3.05"/>
<circle cx="1340.3" cy="387.1" r="3.05"/>
<circle cx="1319.4" cy="420" r="3.05"/>
<circle cx="1296.9" cy="421" r="3.05"/>
<circle cx="1307.9" cy="401.5" r="3.05"/>
<circle cx="1280.5" cy="431.3" r="3.05"/>
<circle cx="1247.1" cy="416.8" r="3.05"/>
<circle cx="1281.6" cy="461.7" r="3.05"/>
<circle cx="1259.4" cy="443" r="3.05"/>
<circle cx="1241.2" cy="476.5" r="3.05"/>
<circle cx="1254.4" cy="408.8" r="3.05"/>
<circle cx="1353" cy="333.4" r="3.05"/>
<circle cx="1253.7" cy="442.3" r="3.05"/>
<circle cx="1293.3" cy="441.3" r="3.05"/>
<circle cx="1353.8" cy="359.9" r="3.05"/>
<circle cx="1247.7" cy="410.6" r="3.05"/>
<circle cx="1335.4" cy="430.6" r="3.05"/>
<circle cx="1296" cy="409.3" r="3.05"/>
<circle cx="1258.6" cy="419.6" r="3.05"/>
<circle cx="1293.8" cy="496.5" r="3.05"/>
<circle cx="1317.9" cy="485.5" r="3.05"/>
<circle cx="1313.4" cy="389.8" r="3.05"/>
<circle cx="1313.6" cy="406.6" r="3.05"/>
<circle cx="1293.4" cy="393.1" r="3.05"/>
<circle cx="1317.6" cy="413.8" r="3.05"/>
<circle cx="1346" cy="389.5" r="3.05"/>
<circle cx="1308.4" cy="412.9" r="3.05"/>
<circle cx="1298.2" cy="385.2" r="3.05"/>
<circle cx="1299.7" cy="383.1" r="3.05"/>
<circle cx="1296.5" cy="439" r="3.05"/>
<circle cx="1306.2" cy="420.2" r="3.05"/>
<circle cx="1302.3" cy="458.2" r="3.05"/>
<circle cx="1231.6" cy="437.1" r="3.05"/>
<circle cx="1300.2" cy="369.7" r="3.05"/>
<circle cx="1228.2" cy="479.5" r="3.05"/>
<circle cx="1277.7" cy="346.1" r="3.05"/>
<circle cx="1272.3" cy="384.1" r="3.05"/>
<circle cx="1356.1" cy="406.6" r="3.05"/>
<circle cx="1319.4" cy="371.7" r="3.05"/>
<circle cx="1245.2" cy="415.5" r="3.05"/>
<circle cx="1265" cy="465.2" r="3.05"/>
<circle cx="1267.3" cy="404" r="3.05"/>
<circle cx="1239.4" cy="392.5" r="3.05"/>
<circle cx="1325.4" cy="391.3" r="3.05"/>
<circle cx="1334.3" cy="462.2" r="3.05"/>
<circle cx="1303.5" cy="390.2" r="3.05"/>
<circle cx="1291.5" cy="388.5" r="3.05"/>
<circle cx="1282.2" cy="435.9" r="3.05"/>
<circle cx="1340.6" cy="383.7" r="3.05"/>
<circle cx="1308.9" cy="412.6" r="3.05"/>
<circle cx="1273" cy="399.4" r="3.05"/>
<circle cx="1322.5" cy="411.8" r="3.05"/>
<circle cx="1302.7" cy="396.5" r="3.05"/>
<circle cx="1281.6" cy="410.3" r="3.05"/>
<circle cx="1287.7" cy="405.4" r="3.05"/>
<circle cx="1293.7" cy="403.3" r="3.05"/>
<circle cx="1289.9" cy="377.7" r="3.05"/>
<circle cx="1267.9" cy="437" r="3.05"/>
<circle cx="1262.7" cy="403.8" r="3.05"/>
<circle cx="1327.7" cy="450.6" r="3.05"/>
<circle cx="1258.1" cy="390.6" r="3.05"/>
<circle cx="1283.8" cy="398.2" r="3.05"/>
<circle cx="1325.3" cy="385.1" r="3.05"/>
<circle cx="1271.1" cy="412.6" r="3.05"/>
<circle cx="1314.4" cy="378.6" r="3.05"/>
<circle cx="1272" cy="355.7" r="3.05"/>
<circle cx="1240.3" cy="377.8" r="3.05"/>
<circle cx="1266.6" cy="492" r="3.05"/>
<circle cx="1327.5" cy="443.6" r="3.05"/>
<circle cx="1255.8" cy="384.9" r="3.05"/>
<circle cx="1249.7" cy="385.3" r="3.05"/>
<circle cx="1254" cy="462.8" r="3.05"/>
<circle cx="1267.2" cy="400.8" r="3.05"/>
<circle cx="1298.3" cy="415.8" r="3.05"/>
<circle cx="1324.4" cy="439.4" r="3.05"/>
<circle cx="1324.6" cy="378.6" r="3.05"/>
<circle cx="1235.5" cy="443.7" r="3.05"/>
<circle cx="1234.2" cy="394.9" r="3.05"/>
<circle cx="1250.8" cy="423.5" r="3.05"/>
<circle cx="1286.1" cy="454.5" r="3.05"/>
<circle cx="1288.8" cy="428.2" r="3.05"/>
<circle cx="1277.8" cy="352.8" r="3.05"/>
<circle cx="1270.3" cy="441.7" r="3.05"/>
<circle cx="1305.2" cy="416.7" r="3.05"/>
<circle cx="1300.6" cy="424.8" r="3.05"/>
<circle cx="1311.7" cy="442.3" r="3.05"/>
<circle cx="1320.1" cy="443" r="3.05"/>
<circle cx="1304.2" cy="357.3" r="3.05"/>
<circle cx="1339.8" cy="410.2" r="3.05"/>
<circle cx="1296.1" cy="444" r="3.05"/>
<circle cx="1316.8" cy="468.4" r="3.05"/>
<circle cx="1283.3" cy="412.4" r="3.05"/>
<circle cx="1261.9" cy="403.5" r="3.05"/>
<circle cx="1282.9" cy="440.5" r="3.05"/>
<circle cx="1290.6" cy="422.1" r="3.05"/>
<circle cx="1200.9" cy="477.4" r="3.05"/>
<circle cx="1311.9" cy="403.6" r="3.05"/>
<circle cx="1268.2" cy="395.5" r="3.05"/>
<circle cx="1268.7" cy="370.2" r="3.05"/>
<circle cx="1332.8" cy="455.7" r="3.05"/>
<circle cx="1344.7" cy="456.2" r="3.05"/>
<circle cx="1267" cy="401.9" r="3.05"/>
<circle cx="1319.3" cy="427.4" r="3.05"/>
<circle cx="1266" cy="401.9" r="3.05"/>
<circle cx="1269.2" cy="453.5" r="3.05"/>
<circle cx="1304.8" cy="421.6" r="3.05"/>
<circle cx="1246.3" cy="489.2" r="3.05"/>
<circle cx="1322" cy="448.8" r="3.05"/>
<circle cx="1272.8" cy="431.4" r="3.05"/>
<circle cx="1272.9" cy="436.6" r="3.05"/>
<circle cx="1297.5" cy="409.9" r="3.05"/>
<circle cx="1259.5" cy="486.8" r="3.05"/>
<circle cx="1287.8" cy="372" r="3.05"/>
<circle cx="1302.7" cy="398.6" r="3.05"/>
<circle cx="1286.3" cy="407.7" r="3.05"/>
<circle cx="1316.7" cy="413.1" r="3.05"/>
<circle cx="1272" cy="449.7" r="3.05"/>
<circle cx="1216.4" cy="459.2" r="3.05"/>
<circle cx="1307.9" cy="384.2" r="3.05"/>
<circle cx="1304.2" cy="390.4" r="3.05"/>
<circle cx="1343.6" cy="449.5" r="3.05"/>
<circle cx="1336.9" cy="435.2" r="3.05"/>
<circle cx="1288.3" cy="432.4" r="3.05"/>
<circle cx="1308.7" cy="420.9" r="3.05"/>
<circle cx="1270.1" cy="420.5" r="3.05"/>
<circle cx="1306.5" cy="458.9" r="3.05"/>
<circle cx="1259" cy="386.7" r="3.05"/>
<circle cx="1267.3" cy="357.1" r="3.05"/>
<circle cx="1286.8" cy="427.8" r="3.05"/>
<circle cx="1237.6" cy="444.7" r="3.05"/>
<circle cx="1263.6" cy="366.4" r="3.05"/>
<circle cx="1311.4" cy="411.3" r="3.05"/>
<circle cx="1303.3" cy="435.5" r="3.05"/>
<circle cx="1337.6" cy="377.6" r="3.05"/>
<circle cx="1243.6" cy="464.7" r="3.05"/>
<circle cx="1268.5" cy="435" r="3.05"/>
<circle cx="1271.2" cy="468.3" r="3.05"/>
<circle cx="1307.3" cy="418.3" r="3.05"/>
<circle cx="1253.6" cy="405.6" r="3.05"/>
<circle cx="1231.4" cy="422" r="3.05"/>
<circle cx="1298.2" cy="416.5" r="3.05"/>
<circle cx="1329.5" cy="408.5" r="3.05"/>
<circle cx="1289" cy="391.2" r="3.05"/>
<circle cx="1291.1" cy="404.3" r="3.05"/>
<circle cx="1321" cy="401.5" r="3.05"/>
<circle cx="1307.7" cy="412.5" r="3.05"/>
<circle cx="1308.2" cy="448.8" r="3.05"/>
<circle cx="1246.1" cy="396" r="3.05"/>
<circle cx="1320.4" cy="435.3" r="3.05"/>
<circle cx="1285.6" cy="432.2" r="3.05"/>
<circle cx="1285" cy="427.8" r="3.05"/>
<circle cx="1308.1" cy="429.4" r="3.05"/>
<circle cx="1284.2" cy="407.5" r="3.05"/>
<circle cx="1349.6" cy="343.3" r="3.05"/>
<circle cx="1335.5" cy="399.7" r="3.05"/>
<circle cx="1242.6" cy="423.8" r="3.05"/>
<circle cx="1283" cy="438.4" r="3.05"/>
<circle cx="1279.3" cy="365.1" r="3.05"/>
<circle cx="1276.5" cy="400.5" r="3.05"/>
<circle cx="1327.8" cy="412" r="3.05"/>
<circle cx="1256.8" cy="370.1" r="3.05"/>
<circle cx="1300.3" cy="400.8" r="3.05"/>
<circle cx="1276.9" cy="409.5" r="3.05"/>
<circle cx="1315.4" cy="375" r="3.05"/>
<circle cx="1337.5" cy="393.1" r="3.05"/>
<circle cx="1236.4" cy="426.4" r="3.05"/>
<circle cx="1146" cy="422.9" r="3.05"/>
<circle cx="1280.9" cy="465.8" r="3.05"/>
<circle cx="1255.9" cy="385" r="3.05"/>
<circle cx="1262.1" cy="445" r="3.05"/>
<circle cx="1333.6" cy="379.4" r="3.05"/>
<circle cx="1316.8" cy="408" r="3.05"/>
<circle cx="1302.8" cy="367.7" r="3.05"/>
<circle cx="1258.7" cy="432.9" r="3.05"/>
<circle cx="1321.1" cy="363.9" r="3.05"/>
<circle cx="1287.8" cy="405.2" r="3.05"/>
<circle cx="1275.6" cy="414.5" r="3.05"/>
<circle cx="1264" cy="462.4" r="3.05"/>
<circle cx="1312.9" cy="424.1" r="3.05"/>
<circle cx="1313.4" cy="431.4" r="3.05"/>
<circle cx="1273" cy="422.9" r="3.05"/>
<circle cx="1257.1" cy="440.6" r="3.05"/>
<circle cx="1215.2" cy="386.4" r="3.05"/>
<circle cx="1261.5" cy="389.3" r="3.05"/>
<circle cx="1333.5" cy="421" r="3.05"/>
<circle cx="1292.6" cy="383.7" r="3.05"/>
<circle cx="1298.8" cy="391.7" r="3.05"/>
<circle cx="1292.4" cy="405.8" r="3.05"/>
<circle cx="1317.5" cy="343.2" r="3.05"/>
<circle cx="1314.8" cy="374.1" r="3.05"/>
<circle cx="1289" cy="447.2" r="3.05"/>
<circle cx="1312.2" cy="446.5" r="3.05"/>
<circle cx="1280.9" cy="420.5" r="3.05"/>
<circle cx="1288.6" cy="413" r="3.05"/>
<circle cx="1262.3" cy="422.7" r="3.05"/>
<circle cx="1299" cy="401.7" r="3.05"/>
<circle cx="1316.4" cy="409.4" r="3.05"/>
<circle cx="1329" cy="467.5" r="3.05"/>
<circle cx="1333" cy="468.1" r="3.05"/>
<circle cx="1294.1" cy="414.9" r="3.05"/>
<circle cx="1278.4" cy="380.1" r="3.05"/>
<circle cx="1317.5" cy="469.5" r="3.05"/>
<circle cx="1300.7" cy="415" r="3.05"/>
<circle cx="1333.4" cy="395.3" r="3.05"/>
<circle cx="1298.1" cy="382.2" r="3.05"/>
<circle cx="1282.6" cy="405.8" r="3.05"/>
<circle cx="1346.3" cy="429" r="3.05"/>
<circle cx="1324.5" cy="409.3" r="3.05"/>
<circle cx="1232" cy="427.3" r="3.05"/>
<circle cx="1312.7" cy="369.2" r="3.05"/>
<circle cx="1288.4" cy="366.7" r="3.05"/>
<circle cx="1341.9" cy="408.1" r="3.05"/>
<circle cx="1279.5" cy="400" r="3.05"/>
<circle cx="1291.6" cy="397.9" r="3.05"/>
<circle cx="1278.6" cy="412.1" r="3.05"/>
<circle cx="1263" cy="422.1" r="3.05"/>
<circle cx="1285.2" cy="383.1" r="3.05"/>
<circle cx="1265.4" cy="417" r="3.05"/>
<circle cx="1297.1" cy="454.2" r="3.05"/>
<circle cx="1236.2" cy="422.4" r="3.05"/>
<circle cx="1263.1" cy="420.5" r="3.05"/>
<circle cx="1352.3" cy="343" r="3.05"/>
<circle cx="1249.9" cy="438.7" r="3.05"/>
<circle cx="1324.8" cy="412" r="3.05"/>
<circle cx="1289.9" cy="391.5" r="3.05"/>
<circle cx="1320.4" cy="436" r="3.05"/>
<circle cx="1334.1" cy="410.1" r="3.05"/>
<circle cx="1254.9" cy="415.3" r="3.05"/>
<circle cx="1276.1" cy="471.7" r="3.05"/>
<circle cx="1274.1" cy="433.8" r="3.05"/>
<circle cx="1295.1" cy="385.4" r="3.05"/>
<circle cx="1266.1" cy="445.1" r="3.05"/>
<circle cx="1332.7" cy="425.8" r="3.05"/>
<circle cx="1231.9" cy="389.9" r="3.05"/>
<circle cx="1286.1" cy="480.5" r="3.05"/>
<circle cx="1255" cy="368.6" r="3.05"/>
<circle cx="1291.8" cy="450.1" r="3.05"/>
<circle cx="1277.9" cy="409.6" r="3.05"/>
<circle cx="1265.6" cy="376.5" r="3.05"/>
<circle cx="1368.8" cy="382.6" r="3.05"/>
<circle cx="1309.8" cy="415.9" r="3.05"/>
<circle cx="1252.9" cy="427.2" r="3.05"/>
<circle cx="1224.5" cy="441.4" r="3.05"/>
<circle cx="1227.9" cy="408.3" r="3.05"/>
<circle cx="1294.4" cy="410.4" r="3.05"/>
<circle cx="1344" cy="386.9" r="3.05"/>
<circle cx="1355.7" cy="418.7" r="3.05"/>
<circle cx="1250.4" cy="412.6" r="3.05"/>
<circle cx="1317.6" cy="405.2" r="3.05"/>
<circle cx="1297" cy="413" r="3.05"/>
<circle cx="1309" cy="386" r="3.05"/>
<circle cx="1281.1" cy="417.4" r="3.05"/>
<circle cx="1276.4" cy="346.5" r="3.05"/>
<circle cx="1304.7" cy="415.3" r="3.05"/>
<circle cx="1321.8" cy="409.9" r="3.05"/>
<circle cx="1242.2" cy="435.5" r="3.05"/>
<circle cx="1286.9" cy="390.7" r="3.05"/>
<circle cx="1264.8" cy="380.4" r="3.05"/>
<circle cx="1268.9" cy="407.3" r="3.05"/>
<circle cx="1302.6" cy="390" r="3.05"/>
<circle cx="1338" cy="377.4" r="3.05"/>
<circle cx="1267.7" cy="420.9" r="3.05"/>
<circle cx="1289.4" cy="399.1" r="3.05"/>
<circle cx="1315.9" cy="386.8" r="3.05"/>
<circle cx="1283.1" cy="391.5" r="3.05"/>
<circle cx="1285.7" cy="419.4" r="3.05"/>
<circle cx="1276.8" cy="426.5" r="3.05"/>
<circle cx="1273.4" cy="461.7" r="3.05"/>
<circle cx="1297.2" cy="454" r="3.05"/>
<circle cx="1322.4" cy="436" r="3.05"/>
<circle cx="1287.9" cy="466.4" r="3.05"/>
<circle cx="1264" cy="406.8" r="3.05"/>
<circle cx="1312.5" cy="406.5" r="3.05"/>
<circle cx="1284.1" cy="403.4" r="3.05"/>
<circle cx="1313.9" cy="360.6" r="3.05"/>
<circle cx="1258.5" cy="434" r="3.05"/>
<circle cx="1306.6" cy="433" r="3.05"/>
<circle cx="1340" cy="403.1" r="3.05"/>
<circle cx="1315.5" cy="430.3" r="3.05"/>
<circle cx="1289" cy="406" r="3.05"/>
<circle cx="1298.5" cy="385.7" r="3.05"/>
<circle cx="1272.3" cy="418.5" r="3.05"/>
<circle cx="1238.1" cy="418.7" r="3.05"/>
<circle cx="1286.8" cy="431.5" r="3.05"/>
<circle cx="1288" cy="386.8" r="3.05"/>
<circle cx="1285.3" cy="466.1" r="3.05"/>
<circle cx="1331.1" cy="486" r="3.05"/>
<circle cx="1250.6" cy="396.9" r="3.05"/>
<circle cx="1292.9" cy="433.8" r="3.05"/>
<circle cx="1276.5" cy="431.4" r="3.05"/>
<circle cx="1300.1" cy="413.6" r="3.05"/>
<circle cx="1363.8" cy="431.6" r="3.05"/>
<circle cx="1280.1" cy="476.1" r="3.05"/>
<circle cx="1322.5" cy="434.1" r="3.05"/>
<circle cx="1301" cy="441.2" r="3.05"/>
<circle cx="1317.3" cy="430.4" r="3.05"/>
<circle cx="1265.1" cy="432.1" r="3.05"/>
<circle cx="1251.5" cy="362.8" r="3.05"/>
<circle cx="1303.9" cy="403.4" r="3.05"/>
<circle cx="1275.2" cy="410.1" r="3.05"/>
<circle cx="1352.4" cy="405.2" r="3.05"/>
<circle cx="1323.1" cy="413.8" r="3.05"/>
<circle cx="1274.6" cy="419.3" r="3.05"/>
<circle cx="1322.7" cy="463.1" r="3.05"/>
<circle cx="1273.5" cy="448.1" r="3.05"/>
<circle cx="1300.2" cy="394.2" r="3.05"/>
<circle cx="1330.2" cy="445.8" r="3.05"/>
<circle cx="1326.5" cy="457.2" r="3.05"/>
<circle cx="1267.7" cy="420" r="3.05"/>
<circle cx="1282.7" cy="370.4" r="3.05"/>
<circle cx="1305.5" cy="430.2" r="3.05"/>
<circle cx="1302.2" cy="431.3" r="3.05"/>
<circle cx="1331.4" cy="403.2" r="3.05"/>
<circle cx="1274.6" cy="521.8" r="3.05"/>
<circle cx="1341.1" cy="415.2" r="3.05"/>
<circle cx="1296.6" cy="354.9" r="3.05"/>
<circle cx="1285.3" cy="410.7" r="3.05"/>
<circle cx="1287.8" cy="356.8" r="3.05"/>
<circle cx="1188" cy="513.4" r="3.05"/>
<circle cx="1301.6" cy="429.2" r="3.05"/>
<circle cx="1262.4" cy="418.9" r="3.05"/>
<circle cx="1272" cy="394" r="3.05"/>
<circle cx="1263.9" cy="435.5" r="3.05"/>
<circle cx="1303.8" cy="448.2" r="3.05"/>
<circle cx="1239.2" cy="444" r="3.05"/>
<circle cx="1275.2" cy="399.7" r="3.05"/>
<circle cx="1314" cy="426.1" r="3.05"/>
<circle cx="1308.1" cy="429.2" r="3.05"/>
<circle cx="1288.1" cy="439" r="3.05"/>
<circle cx="1289" cy="428.5" r="3.05"/>
<circle cx="1260.6" cy="460.5" r="3.05"/>
<circle cx="1216.4" cy="511.8" r="3.05"/>
<circle cx="1272.9" cy="381.9" r="3.05"/>
<circle cx="1295.8" cy="408.9" r="3.05"/>
<circle cx="1308.8" cy="414.3" r="3.05"/>
<circle cx="1319" cy="391.5" r="3.05"/>
<circle cx="1314.3" cy="358.3" r="3.05"/>
<circle cx="1288.5" cy="447.3" r="3.05"/>
<circle cx="1335.5" cy="398.8" r="3.05"/>
<circle cx="1318.2" cy="411.4" r="3.05"/>
<circle cx="1294.2" cy="426.8" r="3.05"/>
<circle cx="1279.5" cy="373.3" r="3.05"/>
<circle cx="1319.9" cy="436.6" r="3.05"/>
<circle cx="1312.2" cy="380.9" r="3.05"/>
<circle cx="1283.2" cy="405.9" r="3.05"/>
<circle cx="1311.9" cy="357.2" r="3.05"/>
<circle cx="1279.6" cy="441" r="3.05"/>
<circle cx="1282.6" cy="444.4" r="3.05"/>
<circle cx="1265.9" cy="462.1" r="3.05"/>
<circle cx="1274.5" cy="422" r="3.05"/>
<circle cx="1266.6" cy="427.1" r="3.05"/>
<circle cx="1318.6" cy="403.2" r="3.05"/>
<circle cx="1275.4" cy="424.5" r="3.05"/>
<circle cx="1252.6" cy="384.1" r="3.05"/>
<circle cx="1282.2" cy="391.6" r="3.05"/>
<circle cx="1243.1" cy="402" r="3.05"/>
<circle cx="1248.1" cy="455" r="3.05"/>
<circle cx="1305" cy="419.7" r="3.05"/>
<circle cx="1343.8" cy="409.8" r="3.05"/>
<circle cx="1280.3" cy="391.5" r="3.05"/>
<circle cx="1215.1" cy="451.4" r="3.05"/>
<circle cx="1283.3" cy="407.2" r="3.05"/>
<circle cx="1246.8" cy="448" r="3.05"/>
<circle cx="1276.3" cy="403.4" r="3.05"/>
<circle cx="1264.6" cy="461.8" r="3.05"/>
<circle cx="1318.7" cy="424.5" r="3.05"/>
<circle cx="1319.4" cy="402.4" r="3.05"/>
<circle cx="1263.7" cy="403.6" r="3.05"/>
<circle cx="1268.3" cy="447.5" r="3.05"/>
<circle cx="1280.1" cy="477.7" r="3.05"/>
<circle cx="1361" cy="342.4" r="3.05"/>
<circle cx="1248.4" cy="411.1" r="3.05"/>
<circle cx="1256.5" cy="436.9" r="3.05"/>
<circle cx="1262.4" cy="386.6" r="3.05"/>
<circle cx="1298.3" cy="447.2" r="3.05"/>
<circle cx="1241.5" cy="423.8" r="3.05"/>
<circle cx="1260.5" cy="471.3" r="3.05"/>
<circle cx="1311.5" cy="428.7" r="3.05"/>
<circle cx="1304.5" cy="439.9" r="3.05"/>
<circle cx="1300.4" cy="356.8" r="3.05"/>
<circle cx="1317.6" cy="420.9" r="3.05"/>
<circle cx="1243.2" cy="434.4" r="3.05"/>
<circle cx="1218.4" cy="482.2" r="3.05"/>
<circle cx="1197.7" cy="431.3" r="3.05"/>
<circle cx="1279.6" cy="438.4" r="3.05"/>
<circle cx="1275.5" cy="440.7" r="3.05"/>
<circle cx="1281.9" cy="410.9" r="3.05"/>
<circle cx="1279.1" cy="441.8" r="3.05"/>
<circle cx="1246.8" cy="460" r="3.05"/>
<circle cx="1356.1" cy="416.8" r="3.05"/>
<circle cx="1223.4" cy="394.2" r="3.05"/>
<circle cx="1217.9" cy="433.1" r="3.05"/>
<circle cx="1296.4" cy="403.6" r="3.05"/>
<circle cx="1338.9" cy="441.3" r="3.05"/>
<circle cx="1292.7" cy="390.8" r="3.05"/>
<circle cx="1334.1" cy="406.5" r="3.05"/>
<circle cx="1284.2" cy="445.5" r="3.05"/>
<circle cx="1261.2" cy="423.1" r="3.05"/>
<circle cx="1325.5" cy="403.7" r="3.05"/>
<circle cx="1299.7" cy="476.2" r="3.05"/>
<circle cx="1337.5" cy="384.3" r="3.05"/>
<circle cx="1325.8" cy="433.6" r="3.05"/>
<circle cx="1289.7" cy="442.6" r="3.05"/>
<circle cx="1320.4" cy="341.8" r="3.05"/>
<circle cx="1298.6" cy="364.3" r="3.05"/>
<circle cx="1344.1" cy="404.9" r="3.05"/>
<circle cx="1317.8" cy="427.9" r="3.05"/>
<circle cx="1231.9" cy="421.4" r="3.05"/>
<circle cx="1299" cy="383.8" r="3.05"/>
<circle cx="1329.9" cy="411.9" r="3.05"/>
<circle cx="1305.2" cy="400.8" r="3.05"/>
<circle cx="1363.1" cy="389.5" r="3.05"/>
<circle cx="1348" cy="449.3" r="3.05"/>
<circle cx="1275.3" cy="425.7" r="3.05"/>
<circle cx="1285.9" cy="425.5" r="3.05"/>
<circle cx="1303.5" cy="406.2" r="3.05"/>
<circle cx="1285.4" cy="440.6" r="3.05"/>
<circle cx="1290.5" cy="409.7" r="3.05"/>
<circle cx="1268.5" cy="424.5" r="3.05"/>
<circle cx="1267.8" cy="359.8" r="3.05"/>
<circle cx="1267.1" cy="432.6" r="3.05"/>
<circle cx="1204.2" cy="357.1" r="3.05"/>
<circle cx="1336.1" cy="390" r="3.05"/>
<circle cx="1278" cy="369.9" r="3.05"/>
<circle cx="1297.1" cy="380" r="3.05"/>
<circle cx="1280.2" cy="465.1" r="3.05"/>
<circle cx="1341" cy="429.4" r="3.05"/>
<circle cx="1340.8" cy="388.9" r="3.05"/>
<circle cx="1304.8" cy="408.1" r="3.05"/>
<circle cx="1252.9" cy="417.5" r="3.05"/>
<circle cx="1269.1" cy="370.5" r="3.05"/>
<circle cx="1290.9" cy="402" r="3.05"/>
<circle cx="1226.3" cy="457.8" r="3.05"/>
<circle cx="1281.2" cy="404.3" r="3.05"/>
<circle cx="1321.1" cy="392.1" r="3.05"/>
<circle cx="1311.9" cy="426.9" r="3.05"/>
<circle cx="1263" cy="437.1" r="3.05"/>
<circle cx="1332.3" cy="437.2" r="3.05"/>
<circle cx="1286.2" cy="427.8" r="3.05"/>
<circle cx="1267.5" cy="426" r="3.05"/>
<circle cx="1262.4" cy="417.2" r="3.05"/>
<circle cx="1326.3" cy="389.9" r="3.05"/>
<circle cx="1279.1" cy="397.4" r="3.05"/>
<circle cx="1325.6" cy="418.3" r="3.05"/>
<circle cx="1248.4" cy="426.9" r="3.05"/>
<circle cx="1317.8" cy="437.9" r="3.05"/>
<circle cx="1328.1" cy="401.7" r="3.05"/>
<circle cx="1336.3" cy="361.8" r="3.05"/>
<circle cx="1344.1" cy="434.9" r="3.05"/>
</g>
<line x1="1110.6" y1="318.1" x2="1110.6" y2="544.6" stroke="#231f20" stroke-width="2"/>
<line x1="1109.6" y1="543.6" x2="1402" y2="543.6" stroke="#231f20" stroke-width="2"/>
<line x1="1142.8" y1="543.6" x2="1142.8" y2="549.1" stroke="#231f20" stroke-width="2"/>
<text x="1142.8" y="571" text-anchor="middle">2</text>
<line x1="1207.4" y1="543.6" x2="1207.4" y2="549.1" stroke="#231f20" stroke-width="2"/>
<text x="1207.4" y="571" text-anchor="middle">4</text>
<line x1="1272" y1="543.6" x2="1272" y2="549.1" stroke="#231f20" stroke-width="2"/>
<text x="1272" y="571" text-anchor="middle">6</text>
<line x1="1336.6" y1="543.6" x2="1336.6" y2="549.1" stroke="#231f20" stroke-width="2"/>
<text x="1336.6" y="571" text-anchor="middle">8</text>
<line x1="1401.2" y1="543.6" x2="1401.2" y2="549.1" stroke="#231f20" stroke-width="2"/>
<text x="1401.2" y="571" text-anchor="middle">10</text>
<line x1="1175.1" y1="543.6" x2="1175.1" y2="549.1" stroke="#231f20" stroke-width="2"/>
<line x1="1239.7" y1="543.6" x2="1239.7" y2="549.1" stroke="#231f20" stroke-width="2"/>
<line x1="1304.3" y1="543.6" x2="1304.3" y2="549.1" stroke="#231f20" stroke-width="2"/>
<line x1="1368.9" y1="543.6" x2="1368.9" y2="549.1" stroke="#231f20" stroke-width="2"/>
<line x1="1104.6" y1="347" x2="1110.6" y2="347" stroke="#231f20" stroke-width="2"/>
<text x="1098" y="355.6" text-anchor="end">20</text>
<line x1="1104.6" y1="403.2" x2="1110.6" y2="403.2" stroke="#231f20" stroke-width="2"/>
<text x="1098" y="411.8" text-anchor="end">10</text>
<line x1="1104.6" y1="459.4" x2="1110.6" y2="459.4" stroke="#231f20" stroke-width="2"/>
<text x="1098" y="468" text-anchor="end">0</text>
<line x1="1104.6" y1="515.6" x2="1110.6" y2="515.6" stroke="#231f20" stroke-width="2"/>
<text x="1098" y="524.2" text-anchor="end">−10</text>
<line x1="1104.6" y1="318.9" x2="1110.6" y2="318.9" stroke="#231f20" stroke-width="2"/>
<line x1="1104.6" y1="375.1" x2="1110.6" y2="375.1" stroke="#231f20" stroke-width="2"/>
<line x1="1104.6" y1="431.3" x2="1110.6" y2="431.3" stroke="#231f20" stroke-width="2"/>
<line x1="1104.6" y1="487.5" x2="1110.6" y2="487.5" stroke="#231f20" stroke-width="2"/>
<text x="1132" y="350.1">Sn</text>
<text x="1129" y="493.6">SS</text>
<text x="1250" y="597.2"><tspan font-family="Liberation Serif,serif">δ</tspan> (%)</text>
<g transform="translate(1052.8,517.2) rotate(-90)"><text x="0" y="0" font-style="italic" transform="scale(0.918,1)">ΔH</text><text x="34.5" y="8.7" font-size="17.9">mix</text><text x="69.3" y="0">(kJ mol</text><text x="149.3" y="-8.4" font-size="17.9">−</text><text x="156.3" y="-8.4" font-size="17.9">1</text><text x="168.5" y="0">)</text></g>
<rect x="744.1" y="883.8" width="19.7" height="73.7" fill="#2f4b9b"/>
<rect x="765.8" y="850.4" width="19.7" height="107.1" fill="#25a595"/>
<rect x="787.3" y="802.7" width="19.7" height="154.8" fill="#aab0b8"/>
<rect x="808.9" y="701.9" width="19.7" height="255.6" fill="#e5332b"/>
<line x1="786.4" y1="957.5" x2="786.4" y2="967.5" stroke="#231f20" stroke-width="2"/>
<text x="786.4" y="991.9" text-anchor="middle">5</text>
<line x1="839.1" y1="957.5" x2="839.1" y2="962.5" stroke="#231f20" stroke-width="2"/>
<rect x="849.6" y="903.5" width="19.7" height="54" fill="#2f4b9b"/>
<rect x="871.2" y="880.3" width="19.7" height="77.2" fill="#25a595"/>
<rect x="892.8" y="836.8" width="19.7" height="120.7" fill="#aab0b8"/>
<rect x="914.4" y="733.3" width="19.7" height="224.2" fill="#e5332b"/>
<line x1="891.9" y1="957.5" x2="891.9" y2="967.5" stroke="#231f20" stroke-width="2"/>
<text x="891.9" y="991.9" text-anchor="middle">6</text>
<line x1="944.6" y1="957.5" x2="944.6" y2="962.5" stroke="#231f20" stroke-width="2"/>
<rect x="955.1" y="919.2" width="19.7" height="38.3" fill="#2f4b9b"/>
<rect x="976.8" y="917.8" width="19.7" height="39.7" fill="#25a595"/>
<rect x="998.3" y="867.4" width="19.7" height="90.1" fill="#aab0b8"/>
<rect x="1019.9" y="783" width="19.7" height="174.5" fill="#e5332b"/>
<line x1="997.4" y1="957.5" x2="997.4" y2="967.5" stroke="#231f20" stroke-width="2"/>
<text x="997.4" y="991.9" text-anchor="middle">7</text>
<line x1="1050.2" y1="957.5" x2="1050.2" y2="962.5" stroke="#231f20" stroke-width="2"/>
<rect x="1060.7" y="941" width="19.7" height="16.5" fill="#2f4b9b"/>
<rect x="1082.3" y="943" width="19.7" height="14.5" fill="#25a595"/>
<rect x="1103.9" y="895.3" width="19.7" height="62.2" fill="#aab0b8"/>
<rect x="1125.5" y="838.8" width="19.7" height="118.7" fill="#e5332b"/>
<line x1="1102.9" y1="957.5" x2="1102.9" y2="967.5" stroke="#231f20" stroke-width="2"/>
<text x="1102.9" y="991.9" text-anchor="middle">8</text>
<line x1="1155.7" y1="957.5" x2="1155.7" y2="962.5" stroke="#231f20" stroke-width="2"/>
<rect x="1209.4" y="942.3" width="19.7" height="15.2" fill="#aab0b8"/>
<rect x="1231" y="851.7" width="19.7" height="105.8" fill="#e5332b"/>
<line x1="1208.4" y1="957.5" x2="1208.4" y2="967.5" stroke="#231f20" stroke-width="2"/>
<text x="1208.4" y="991.9" text-anchor="middle">9</text>
<line x1="1261.2" y1="957.5" x2="1261.2" y2="962.5" stroke="#231f20" stroke-width="2"/>
<rect x="1336.5" y="889.9" width="19.7" height="67.6" fill="#e5332b"/>
<line x1="1313.9" y1="957.5" x2="1313.9" y2="967.5" stroke="#231f20" stroke-width="2"/>
<text x="1313.9" y="991.9" text-anchor="middle">10</text>
<line x1="1366.7" y1="957.5" x2="1366.7" y2="962.5" stroke="#231f20" stroke-width="2"/>
<line x1="733.8" y1="616.6" x2="733.8" y2="958.5" stroke="#231f20" stroke-width="2"/>
<line x1="724" y1="957.5" x2="1367.5" y2="957.5" stroke="#231f20" stroke-width="2"/>
<line x1="724" y1="957.3" x2="733.8" y2="957.3" stroke="#231f20" stroke-width="2"/>
<text x="716.7" y="965.9" text-anchor="end">0</text>
<line x1="724" y1="889.2" x2="733.8" y2="889.2" stroke="#231f20" stroke-width="2"/>
<text x="716.7" y="897.8" text-anchor="end">0.1</text>
<line x1="724" y1="821.1" x2="733.8" y2="821.1" stroke="#231f20" stroke-width="2"/>
<text x="716.7" y="829.7" text-anchor="end">0.2</text>
<line x1="724" y1="753" x2="733.8" y2="753" stroke="#231f20" stroke-width="2"/>
<text x="716.7" y="761.6" text-anchor="end">0.3</text>
<line x1="724" y1="684.9" x2="733.8" y2="684.9" stroke="#231f20" stroke-width="2"/>
<text x="716.7" y="693.5" text-anchor="end">0.4</text>
<line x1="724" y1="616.8" x2="733.8" y2="616.8" stroke="#231f20" stroke-width="2"/>
<text x="716.7" y="625.4" text-anchor="end">0.5</text>
<line x1="729" y1="923.2" x2="733.8" y2="923.2" stroke="#231f20" stroke-width="2"/>
<line x1="729" y1="855.1" x2="733.8" y2="855.1" stroke="#231f20" stroke-width="2"/>
<line x1="729" y1="787" x2="733.8" y2="787" stroke="#231f20" stroke-width="2"/>
<line x1="729" y1="718.9" x2="733.8" y2="718.9" stroke="#231f20" stroke-width="2"/>
<line x1="729" y1="650.8" x2="733.8" y2="650.8" stroke="#231f20" stroke-width="2"/>
<rect x="1231.7" y="638.3" width="19.8" height="17.4" fill="#2f4b9b"/>
<text x="1259.5" y="655.7">In</text>
<rect x="1231.7" y="665.4" width="19.8" height="17.4" fill="#25a595"/>
<text x="1259.5" y="682.8">Without Ga</text>
<rect x="1231.7" y="692.5" width="19.8" height="17.4" fill="#aab0b8"/>
<text x="1259.5" y="709.9">Sn</text>
<rect x="1231.7" y="719.6" width="19.8" height="17.4" fill="#e5332b"/>
<text x="1259.5" y="737">Ga</text>
<text x="1058" y="1020" text-anchor="middle">Number of elements</text>
<g transform="translate(664.2,781.2) rotate(-90)"><text x="0" y="0" text-anchor="middle">SS percentage</text></g>
<rect x="40.8" y="530.7" width="134.1" height="134.3" fill="#060809" stroke="#000" stroke-width="1.4"/>
<rect x="187.7" y="530.7" width="134.1" height="134.3" fill="#060809" stroke="#000" stroke-width="1.4"/>
<rect x="334.6" y="530.7" width="134.1" height="134.3" fill="#060809" stroke="#000" stroke-width="1.4"/>
<rect x="481.3" y="530.7" width="134.1" height="134.3" fill="#060809" stroke="#000" stroke-width="1.4"/>
<rect x="40.8" y="677.8" width="134.1" height="134.3" fill="#060809" stroke="#000" stroke-width="1.4"/>
<rect x="187.7" y="677.8" width="134.1" height="134.3" fill="#060809" stroke="#000" stroke-width="1.4"/>
<rect x="334.6" y="677.8" width="134.1" height="134.3" fill="#060809" stroke="#000" stroke-width="1.4"/>
<rect x="481.3" y="677.8" width="134.1" height="134.3" fill="#060809" stroke="#000" stroke-width="1.4"/>
<rect x="40.8" y="824.7" width="134.1" height="134.3" fill="#060809" stroke="#000" stroke-width="1.4"/>
<rect x="187.7" y="824.7" width="134.1" height="134.3" fill="#060809" stroke="#000" stroke-width="1.4"/>
<rect x="334.6" y="824.7" width="134.1" height="134.3" fill="#060809" stroke="#000" stroke-width="1.4"/>
<rect x="481.3" y="824.7" width="134.1" height="134.3" fill="#060809" stroke="#000" stroke-width="1.4"/>
<g clip-path="url(#clt0)">
<g filter="url(#hb0)" fill="#2c2c2c" opacity="0.75"><circle cx="150" cy="558" r="18"/><circle cx="120" cy="543" r="12"/><circle cx="168" cy="600" r="10"/><circle cx="50" cy="595" r="9"/><circle cx="48" cy="640" r="7"/></g>
<ellipse cx="111" cy="595" rx="46.5" ry="44.5" fill="url(#hg)" filter="url(#hb1)"/>
</g>
<g filter="url(#hb2)"><g clip-path="url(#cp2)"><rect x="60" y="690" width="100" height="90" fill="url(#hg2)"/><ellipse cx="118" cy="699" rx="12" ry="5" fill="#6a6a6a" opacity="0.55"/><ellipse cx="76" cy="765" rx="10" ry="6" fill="#555" opacity="0.5"/><ellipse cx="154" cy="746" rx="4" ry="8" fill="#555" opacity="0.5"/></g></g>
<path d="M66,872 Q70,850 95,845 Q120,841 140,848 Q156,858 153,880 Q150,905 132,918 Q115,928 98,924 Q75,918 68,900 Q62,886 66,872 Z" fill="url(#hg)" filter="url(#hb1)"/>
<ellipse cx="257.9" cy="595" rx="46.5" ry="45" fill="#fff" filter="url(#fr1)"/>
<ellipse cx="404" cy="594" rx="47.5" ry="45.5" fill="#fff" filter="url(#fg1)"/>
<ellipse cx="404" cy="594" rx="32" ry="30" fill="#c0e050" opacity="0.3" filter="url(#hb0)"/>
<ellipse cx="550.7" cy="594.4" rx="47.5" ry="45.5" fill="#fff" filter="url(#fm1g)"/>
<ellipse cx="550.7" cy="594.4" rx="46" ry="44" fill="#fff" filter="url(#fm1r)" style="mix-blend-mode:screen" opacity="0.9"/>
<ellipse cx="264.6" cy="727.4" rx="29.5" ry="31" fill="#fff" filter="url(#fr2)"/>
<path d="M362,730 Q362,708 380,700 Q396,694 412,695 Q436,698 444,712 Q450,726 448,742 Q444,760 428,768 Q410,776 392,774 Q370,768 364,752 Q361,742 362,730 Z" fill="#fff" filter="url(#fg2)"/>
<ellipse cx="413" cy="721" rx="31" ry="33" fill="#fff" filter="url(#fk2)"/>
<path d="M509,730 Q509,708 527,700 Q543,694 559,695 Q583,698 591,712 Q597,726 595,742 Q591,760 575,768 Q557,776 539,774 Q517,768 511,752 Q508,742 509,730 Z" fill="#fff" filter="url(#fmg2)"/>
<ellipse cx="559.4" cy="725" rx="31" ry="32" fill="#fff" filter="url(#fmr2)"/>
<rect x="187" y="824" width="135.5" height="135.7" fill="#fff" filter="url(#fbr)"/>
<ellipse cx="258" cy="905" rx="40" ry="22" fill="#fff" filter="url(#fr3b)"/>
<ellipse cx="255" cy="879" rx="48" ry="37" fill="#fff" filter="url(#fr3)"/>
<rect x="333.9" y="824" width="135.5" height="135.7" fill="#fff" filter="url(#fbg)"/>
<ellipse cx="401.7" cy="884.3" rx="47.5" ry="43.5" fill="#fff" filter="url(#fg3)"/>
<rect x="480.6" y="824" width="135.5" height="135.7" fill="#fff" filter="url(#fbm)"/>
<ellipse cx="549.5" cy="883.5" rx="47.5" ry="44" fill="#fff" filter="url(#fmg3)"/>
<ellipse cx="549.5" cy="878" rx="44" ry="38" fill="#fff" filter="url(#fmr3)" style="mix-blend-mode:screen"/>
<rect x="187" y="636.2" width="38.5" height="29.5" fill="#e1242c"/>
<text x="192" y="659.8" fill="#fff">Fe</text>
<rect x="333.9" y="636.2" width="39.8" height="29.5" fill="#6cbb47"/>
<text x="337.9" y="659.8" fill="#fff">Ga</text>
<text x="484.4" y="659.8" fill="#fff">Mix</text>
<rect x="187" y="783.3" width="38.5" height="29.5" fill="#e1242c"/>
<text x="192" y="806.9" fill="#fff">Fe</text>
<rect x="333.9" y="783.3" width="39.8" height="29.5" fill="#6cbb47"/>
<text x="337.9" y="806.9" fill="#fff">In</text>
<text x="484.4" y="806.9" fill="#fff">Mix</text>
<rect x="187" y="930.2" width="38.5" height="29.5" fill="#e1242c"/>
<text x="192" y="953.8" fill="#fff">Fe</text>
<rect x="333.9" y="930.2" width="39.8" height="29.5" fill="#6cbb47"/>
<text x="337.9" y="953.8" fill="#fff">Sn</text>
<text x="484.4" y="953.8" fill="#fff">Mix</text>
<text x="47.6" y="650.8" fill="#fff">50 nm</text>
<rect x="48.6" y="657.7" width="27.4" height="4.5" fill="#fff"/>
<text x="48.3" y="797.8" fill="#fff">100 nm</text>
<rect x="49" y="803" width="25.9" height="4.7" fill="#fff"/>
<text x="49" y="942.8" fill="#fff">25 nm</text>
<rect x="49" y="948.9" width="24.4" height="3.8" fill="#fff"/>
<text x="-0.3" y="17.6" font-size="34" font-weight="bold" stroke="#231f20" stroke-width="1.2">a</text>
<text x="-0.6" y="532" font-size="34" font-weight="bold" stroke="#231f20" stroke-width="1.2">b</text>
<text x="649.8" y="17.7" font-size="34" font-weight="bold" stroke="#231f20" stroke-width="1.2">c</text>
<text x="649.8" y="609.2" font-size="34" font-weight="bold" stroke="#231f20" stroke-width="1.2">d</text>
</svg>
</body></html>
